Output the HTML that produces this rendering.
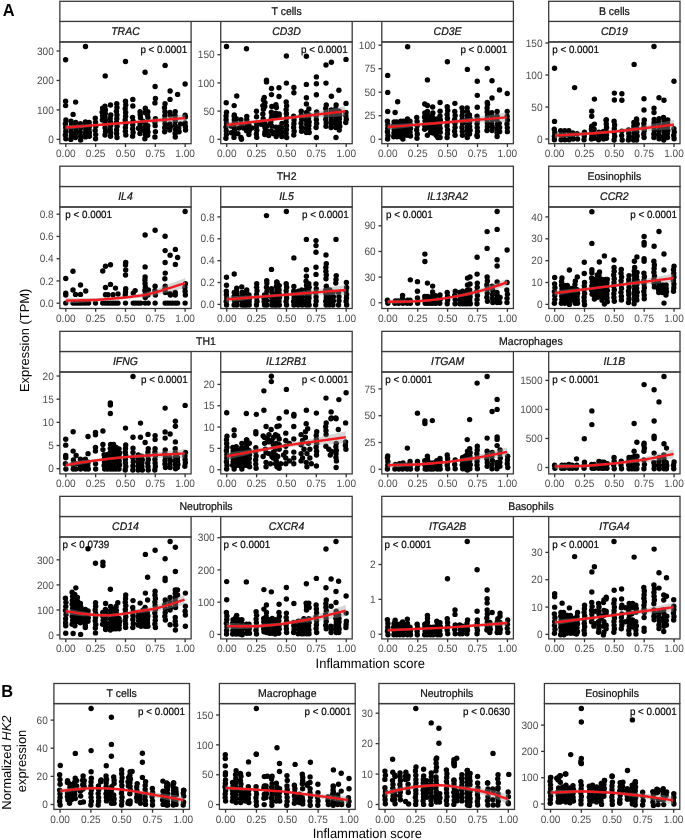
<!DOCTYPE html><html><head><meta charset="utf-8"><style>html,body{margin:0;padding:0;background:#fff;}svg{display:block;will-change:transform;}text{font-family:"Liberation Sans", sans-serif;text-rendering:geometricPrecision;}</style></head><body>
<svg width="685" height="840" viewBox="0 0 685 840">
<rect width="685" height="840" fill="#fff"/>
<rect x="59.85" y="21.4" width="131.25" height="20.55" fill="#fff" stroke="#3a3a3a" stroke-width="1.3"/>
<text transform="translate(125.47,35.38) scale(1,1.06)" text-anchor="middle" fill="#111" stroke="#111" stroke-width="0.22" font-size="10.5" font-style="italic">TRAC</text>
<clipPath id="c59_41"><rect x="59.85" y="41.95" width="131.25" height="101.75"/></clipPath>
<g clip-path="url(#c59_41)">
<g fill="#000">
<circle cx="65.62" cy="59.75" r="2.7"/>
<circle cx="85.5" cy="46.5" r="2.7"/>
<circle cx="105.25" cy="75.88" r="2.7"/>
<circle cx="65.62" cy="101.25" r="2.7"/>
<circle cx="65.62" cy="105.62" r="2.7"/>
<circle cx="75.62" cy="102.12" r="2.7"/>
<circle cx="73.12" cy="114.38" r="2.7"/>
<circle cx="65.9" cy="120" r="2.7"/>
<circle cx="65.35" cy="123.75" r="2.7"/>
<circle cx="65.7" cy="127.5" r="2.7"/>
<circle cx="65.78" cy="131.25" r="2.7"/>
<circle cx="65.32" cy="135" r="2.7"/>
<circle cx="65.85" cy="138.75" r="2.7"/>
<circle cx="70.98" cy="121.25" r="2.7"/>
<circle cx="71.41" cy="124.88" r="2.7"/>
<circle cx="70.87" cy="128.5" r="2.7"/>
<circle cx="71.16" cy="132.13" r="2.7"/>
<circle cx="71.31" cy="135.75" r="2.7"/>
<circle cx="70.82" cy="139.38" r="2.7"/>
<circle cx="75.76" cy="122.5" r="2.7"/>
<circle cx="75.33" cy="126.25" r="2.7"/>
<circle cx="75.87" cy="130" r="2.7"/>
<circle cx="75.58" cy="133.75" r="2.7"/>
<circle cx="75.43" cy="137.5" r="2.7"/>
<circle cx="80.44" cy="123.75" r="2.7"/>
<circle cx="80.76" cy="127.81" r="2.7"/>
<circle cx="80.21" cy="131.88" r="2.7"/>
<circle cx="80.62" cy="135.94" r="2.7"/>
<circle cx="80.62" cy="140" r="2.7"/>
<circle cx="85.45" cy="121.88" r="2.7"/>
<circle cx="85.31" cy="125.63" r="2.7"/>
<circle cx="85.8" cy="129.38" r="2.7"/>
<circle cx="85.29" cy="133.13" r="2.7"/>
<circle cx="85.48" cy="136.88" r="2.7"/>
<circle cx="89.15" cy="122.5" r="2.7"/>
<circle cx="89.53" cy="125.94" r="2.7"/>
<circle cx="88.98" cy="129.38" r="2.7"/>
<circle cx="89.33" cy="132.81" r="2.7"/>
<circle cx="89.41" cy="136.25" r="2.7"/>
<circle cx="95.27" cy="118.12" r="2.7"/>
<circle cx="95.51" cy="122.25" r="2.7"/>
<circle cx="95.72" cy="126.37" r="2.7"/>
<circle cx="95.2" cy="130.5" r="2.7"/>
<circle cx="95.68" cy="134.62" r="2.7"/>
<circle cx="95.56" cy="138.75" r="2.7"/>
<circle cx="102.55" cy="108.12" r="2.7"/>
<circle cx="102.08" cy="112.08" r="2.7"/>
<circle cx="102.61" cy="116.04" r="2.7"/>
<circle cx="102.37" cy="120" r="2.7"/>
<circle cx="104.95" cy="106.25" r="2.7"/>
<circle cx="105.41" cy="109.84" r="2.7"/>
<circle cx="105.33" cy="113.44" r="2.7"/>
<circle cx="104.98" cy="117.03" r="2.7"/>
<circle cx="105.53" cy="120.62" r="2.7"/>
<circle cx="105.15" cy="124.22" r="2.7"/>
<circle cx="105.11" cy="127.81" r="2.7"/>
<circle cx="105.54" cy="131.41" r="2.7"/>
<circle cx="105" cy="135" r="2.7"/>
<circle cx="110.5" cy="105" r="2.7"/>
<circle cx="110.78" cy="115" r="2.7"/>
<circle cx="110.23" cy="118.54" r="2.7"/>
<circle cx="110.58" cy="122.08" r="2.7"/>
<circle cx="110.66" cy="125.62" r="2.7"/>
<circle cx="110.2" cy="129.17" r="2.7"/>
<circle cx="110.73" cy="132.71" r="2.7"/>
<circle cx="110.49" cy="136.25" r="2.7"/>
<circle cx="116.76" cy="103.75" r="2.7"/>
<circle cx="116.96" cy="107.5" r="2.7"/>
<circle cx="116.45" cy="111.25" r="2.7"/>
<circle cx="116.93" cy="115" r="2.7"/>
<circle cx="116.8" cy="118.75" r="2.7"/>
<circle cx="116.49" cy="122.5" r="2.7"/>
<circle cx="117.04" cy="126.25" r="2.7"/>
<circle cx="116.62" cy="130" r="2.7"/>
<circle cx="116.63" cy="133.75" r="2.7"/>
<circle cx="117.03" cy="137.5" r="2.7"/>
<circle cx="125.5" cy="61.5" r="2.7"/>
<circle cx="145.12" cy="72.25" r="2.7"/>
<circle cx="165.12" cy="65.38" r="2.7"/>
<circle cx="155.12" cy="86.5" r="2.7"/>
<circle cx="185.12" cy="84" r="2.7"/>
<circle cx="170.12" cy="91" r="2.7"/>
<circle cx="177.62" cy="94.38" r="2.7"/>
<circle cx="125.47" cy="101.25" r="2.7"/>
<circle cx="125.75" cy="105" r="2.7"/>
<circle cx="125.21" cy="108.75" r="2.7"/>
<circle cx="125.64" cy="112.5" r="2.7"/>
<circle cx="125.6" cy="116.25" r="2.7"/>
<circle cx="125.22" cy="120" r="2.7"/>
<circle cx="125.77" cy="123.75" r="2.7"/>
<circle cx="125.42" cy="127.5" r="2.7"/>
<circle cx="125.34" cy="131.25" r="2.7"/>
<circle cx="125.8" cy="135" r="2.7"/>
<circle cx="132.82" cy="99.38" r="2.7"/>
<circle cx="132.82" cy="105.95" r="2.7"/>
<circle cx="132.53" cy="117.33" r="2.7"/>
<circle cx="133.08" cy="121.1" r="2.7"/>
<circle cx="132.76" cy="124.86" r="2.7"/>
<circle cx="132.64" cy="128.63" r="2.7"/>
<circle cx="133.12" cy="132.39" r="2.7"/>
<circle cx="132.6" cy="136.16" r="2.7"/>
<circle cx="140.05" cy="111.64" r="2.7"/>
<circle cx="140.25" cy="114.7" r="2.7"/>
<circle cx="140.49" cy="117.77" r="2.7"/>
<circle cx="140.05" cy="123.9" r="2.7"/>
<circle cx="140.25" cy="127.11" r="2.7"/>
<circle cx="140.49" cy="130.32" r="2.7"/>
<circle cx="139.96" cy="133.53" r="2.7"/>
<circle cx="145.34" cy="108.13" r="2.7"/>
<circle cx="145.03" cy="112.51" r="2.7"/>
<circle cx="145.34" cy="123.02" r="2.7"/>
<circle cx="145.03" cy="126.96" r="2.7"/>
<circle cx="144.9" cy="130.9" r="2.7"/>
<circle cx="145.38" cy="134.84" r="2.7"/>
<circle cx="144.86" cy="138.78" r="2.7"/>
<circle cx="147.78" cy="111.64" r="2.7"/>
<circle cx="147.43" cy="114.7" r="2.7"/>
<circle cx="147.98" cy="117.77" r="2.7"/>
<circle cx="147.78" cy="125.65" r="2.7"/>
<circle cx="147.43" cy="128.86" r="2.7"/>
<circle cx="147.98" cy="132.07" r="2.7"/>
<circle cx="147.6" cy="135.28" r="2.7"/>
<circle cx="155.44" cy="98.5" r="2.7"/>
<circle cx="154.91" cy="102.88" r="2.7"/>
<circle cx="155.44" cy="118.64" r="2.7"/>
<circle cx="154.91" cy="122.15" r="2.7"/>
<circle cx="155.18" cy="125.65" r="2.7"/>
<circle cx="155.44" cy="131.78" r="2.7"/>
<circle cx="154.91" cy="137.03" r="2.7"/>
<circle cx="165.01" cy="103.76" r="2.7"/>
<circle cx="164.48" cy="107.76" r="2.7"/>
<circle cx="164.94" cy="111.77" r="2.7"/>
<circle cx="164.86" cy="115.77" r="2.7"/>
<circle cx="164.51" cy="119.77" r="2.7"/>
<circle cx="165.06" cy="123.77" r="2.7"/>
<circle cx="164.68" cy="127.78" r="2.7"/>
<circle cx="164.64" cy="131.78" r="2.7"/>
<circle cx="170.03" cy="99.38" r="2.7"/>
<circle cx="169.92" cy="112.51" r="2.7"/>
<circle cx="170.31" cy="115.14" r="2.7"/>
<circle cx="169.92" cy="123.9" r="2.7"/>
<circle cx="170.31" cy="126.97" r="2.7"/>
<circle cx="169.76" cy="130.03" r="2.7"/>
<circle cx="175.24" cy="111.64" r="2.7"/>
<circle cx="175.11" cy="116.02" r="2.7"/>
<circle cx="175.24" cy="121.27" r="2.7"/>
<circle cx="175.11" cy="125.36" r="2.7"/>
<circle cx="175.59" cy="129.44" r="2.7"/>
<circle cx="175.08" cy="133.53" r="2.7"/>
<circle cx="175.29" cy="137.03" r="2.7"/>
<circle cx="178.64" cy="128.27" r="2.7"/>
<circle cx="179.08" cy="131.78" r="2.7"/>
<circle cx="185.12" cy="115.14" r="2.7"/>
<circle cx="185.39" cy="116.89" r="2.7"/>
<circle cx="185.12" cy="123.02" r="2.7"/>
<circle cx="185.39" cy="126.53" r="2.7"/>
<circle cx="185.56" cy="130.03" r="2.7"/>
<circle cx="142.89" cy="121.27" r="2.7"/>
<circle cx="138.51" cy="128.27" r="2.7"/>
<circle cx="167.4" cy="126.52" r="2.7"/>
<circle cx="180.54" cy="123.9" r="2.7"/>
</g>
<polygon points="65.6,125.25 68.59,125.11 71.58,124.96 74.58,124.82 77.57,124.67 80.56,124.52 83.55,124.37 86.55,124.22 89.54,124.06 92.53,123.9 95.53,123.73 98.52,123.56 101.51,123.38 104.5,123.2 107.5,123 110.49,122.8 113.48,122.59 116.47,122.37 119.47,122.14 122.46,121.9 125.45,121.63 128.44,121.34 131.44,121.03 134.43,120.71 137.42,120.37 140.41,120.02 143.41,119.67 146.4,119.31 149.39,118.94 152.38,118.57 155.38,118.2 158.37,117.82 161.36,117.44 164.35,117.06 167.35,116.68 170.34,116.29 173.33,115.9 176.32,115.52 179.31,115.13 182.31,114.74 185.3,114.35 185.3,121.85 182.31,121.93 179.31,122.01 176.32,122.09 173.33,122.18 170.34,122.26 167.35,122.34 164.35,122.43 161.36,122.52 158.37,122.61 155.38,122.7 152.38,122.8 149.39,122.9 146.4,123 143.41,123.11 140.41,123.23 137.42,123.35 134.43,123.48 131.44,123.63 128.44,123.79 125.45,123.97 122.46,124.17 119.47,124.39 116.47,124.64 113.48,124.89 110.49,125.15 107.5,125.42 104.5,125.69 101.51,125.98 98.52,126.27 95.53,126.57 92.53,126.87 89.54,127.18 86.55,127.49 83.55,127.81 80.56,128.13 77.57,128.45 74.58,128.77 71.58,129.1 68.59,129.42 65.6,129.75" fill="#999999" fill-opacity="0.4"/>
<polyline points="65.6,127.5 68.59,127.27 71.58,127.03 74.58,126.8 77.57,126.56 80.56,126.33 83.55,126.09 86.55,125.86 89.54,125.62 92.53,125.39 95.53,125.15 98.52,124.91 101.51,124.68 104.5,124.44 107.5,124.21 110.49,123.97 113.48,123.74 116.47,123.5 119.47,123.27 122.46,123.03 125.45,122.8 128.44,122.56 131.44,122.33 134.43,122.09 137.42,121.86 140.41,121.62 143.41,121.39 146.4,121.16 149.39,120.92 152.38,120.69 155.38,120.45 158.37,120.21 161.36,119.98 164.35,119.74 167.35,119.51 170.34,119.27 173.33,119.04 176.32,118.8 179.31,118.57 182.31,118.33 185.3,118.1" fill="none" stroke="#f31a20" stroke-width="2.4"/>
</g>
<rect x="59.85" y="41.95" width="131.25" height="101.75" fill="none" stroke="#3a3a3a" stroke-width="1.3"/>
<line x1="56.55" y1="139.4" x2="59.85" y2="139.4" stroke="#333333" stroke-width="1.3"/>
<text transform="translate(53.75,143.05) scale(1,1.06)" text-anchor="end" fill="#4d4d4d" font-size="10.1">0</text>
<line x1="56.55" y1="109.93" x2="59.85" y2="109.93" stroke="#333333" stroke-width="1.3"/>
<text transform="translate(53.75,113.58) scale(1,1.06)" text-anchor="end" fill="#4d4d4d" font-size="10.1">100</text>
<line x1="56.55" y1="80.47" x2="59.85" y2="80.47" stroke="#333333" stroke-width="1.3"/>
<text transform="translate(53.75,84.12) scale(1,1.06)" text-anchor="end" fill="#4d4d4d" font-size="10.1">200</text>
<line x1="56.55" y1="51" x2="59.85" y2="51" stroke="#333333" stroke-width="1.3"/>
<text transform="translate(53.75,54.65) scale(1,1.06)" text-anchor="end" fill="#4d4d4d" font-size="10.1">300</text>
<line x1="65.82" y1="143.7" x2="65.82" y2="147" stroke="#333333" stroke-width="1.3"/>
<text transform="translate(65.82,157.15) scale(1,1.06)" text-anchor="middle" fill="#4d4d4d" font-size="10.1">0.00</text>
<line x1="95.65" y1="143.7" x2="95.65" y2="147" stroke="#333333" stroke-width="1.3"/>
<text transform="translate(95.65,157.15) scale(1,1.06)" text-anchor="middle" fill="#4d4d4d" font-size="10.1">0.25</text>
<line x1="125.47" y1="143.7" x2="125.47" y2="147" stroke="#333333" stroke-width="1.3"/>
<text transform="translate(125.47,157.15) scale(1,1.06)" text-anchor="middle" fill="#4d4d4d" font-size="10.1">0.50</text>
<line x1="155.3" y1="143.7" x2="155.3" y2="147" stroke="#333333" stroke-width="1.3"/>
<text transform="translate(155.3,157.15) scale(1,1.06)" text-anchor="middle" fill="#4d4d4d" font-size="10.1">0.75</text>
<line x1="185.13" y1="143.7" x2="185.13" y2="147" stroke="#333333" stroke-width="1.3"/>
<text transform="translate(185.13,157.15) scale(1,1.06)" text-anchor="middle" fill="#4d4d4d" font-size="10.1">1.00</text>
<text transform="translate(187.2,53.35) scale(1,1.06)" text-anchor="end" fill="#000" stroke="#000" stroke-width="0.18" font-size="9.85">p &lt; 0.0001</text>
<rect x="220.75" y="21.4" width="131.45" height="20.55" fill="#fff" stroke="#3a3a3a" stroke-width="1.3"/>
<text transform="translate(286.48,35.38) scale(1,1.06)" text-anchor="middle" fill="#111" stroke="#111" stroke-width="0.22" font-size="10.5" font-style="italic">CD3D</text>
<clipPath id="c220_41"><rect x="220.75" y="41.95" width="131.45" height="101.75"/></clipPath>
<g clip-path="url(#c220_41)">
<g fill="#000">
<circle cx="226.5" cy="46.5" r="2.7"/>
<circle cx="246.5" cy="48.75" r="2.7"/>
<circle cx="266.5" cy="80.25" r="2.7"/>
<circle cx="266.5" cy="81.88" r="2.7"/>
<circle cx="271.5" cy="88.5" r="2.7"/>
<circle cx="279" cy="87.75" r="2.7"/>
<circle cx="271.5" cy="94.62" r="2.7"/>
<circle cx="279" cy="96.5" r="2.7"/>
<circle cx="236.75" cy="96" r="2.7"/>
<circle cx="264.25" cy="97.5" r="2.7"/>
<circle cx="286.38" cy="56" r="2.7"/>
<circle cx="306.38" cy="56.25" r="2.7"/>
<circle cx="326" cy="65" r="2.7"/>
<circle cx="331.38" cy="62.25" r="2.7"/>
<circle cx="346" cy="59.38" r="2.7"/>
<circle cx="286.38" cy="83.12" r="2.7"/>
<circle cx="316.38" cy="76.88" r="2.7"/>
<circle cx="316.38" cy="83.75" r="2.7"/>
<circle cx="326" cy="83.12" r="2.7"/>
<circle cx="306.38" cy="84.38" r="2.7"/>
<circle cx="293.88" cy="87.5" r="2.7"/>
<circle cx="293.88" cy="92.75" r="2.7"/>
<circle cx="338.88" cy="90.25" r="2.7"/>
<circle cx="316.38" cy="94.75" r="2.7"/>
<circle cx="331.38" cy="96.25" r="2.7"/>
<circle cx="306.38" cy="97.75" r="2.7"/>
<circle cx="306.38" cy="104" r="2.7"/>
<circle cx="346" cy="103.38" r="2.7"/>
<circle cx="308.88" cy="109" r="2.7"/>
<circle cx="316.38" cy="137.5" r="2.7"/>
<circle cx="336" cy="137.5" r="2.7"/>
<circle cx="286.21" cy="101.88" r="2.7"/>
<circle cx="286.68" cy="105.84" r="2.7"/>
<circle cx="286.15" cy="109.8" r="2.7"/>
<circle cx="286.39" cy="113.75" r="2.7"/>
<circle cx="286.6" cy="117.71" r="2.7"/>
<circle cx="286.08" cy="121.67" r="2.7"/>
<circle cx="286.56" cy="125.63" r="2.7"/>
<circle cx="286.44" cy="129.58" r="2.7"/>
<circle cx="286.12" cy="133.54" r="2.7"/>
<circle cx="286.67" cy="137.5" r="2.7"/>
<circle cx="293.58" cy="116.25" r="2.7"/>
<circle cx="294.07" cy="120" r="2.7"/>
<circle cx="293.93" cy="123.75" r="2.7"/>
<circle cx="293.63" cy="127.5" r="2.7"/>
<circle cx="294.17" cy="131.25" r="2.7"/>
<circle cx="293.75" cy="135" r="2.7"/>
<circle cx="301.24" cy="111.25" r="2.7"/>
<circle cx="301.27" cy="115.25" r="2.7"/>
<circle cx="301.66" cy="119.25" r="2.7"/>
<circle cx="301.11" cy="123.25" r="2.7"/>
<circle cx="301.46" cy="127.25" r="2.7"/>
<circle cx="301.55" cy="131.25" r="2.7"/>
<circle cx="306.6" cy="112.5" r="2.7"/>
<circle cx="306.38" cy="116.5" r="2.7"/>
<circle cx="306.16" cy="120.5" r="2.7"/>
<circle cx="306.68" cy="124.5" r="2.7"/>
<circle cx="306.21" cy="128.5" r="2.7"/>
<circle cx="306.31" cy="132.5" r="2.7"/>
<circle cx="309.04" cy="115" r="2.7"/>
<circle cx="308.58" cy="118.5" r="2.7"/>
<circle cx="309.12" cy="122" r="2.7"/>
<circle cx="308.86" cy="125.5" r="2.7"/>
<circle cx="308.67" cy="129" r="2.7"/>
<circle cx="309.18" cy="132.5" r="2.7"/>
<circle cx="316.68" cy="111.88" r="2.7"/>
<circle cx="316.18" cy="115.78" r="2.7"/>
<circle cx="316.34" cy="119.69" r="2.7"/>
<circle cx="316.63" cy="123.59" r="2.7"/>
<circle cx="316.09" cy="127.5" r="2.7"/>
<circle cx="326.27" cy="105" r="2.7"/>
<circle cx="325.72" cy="108.54" r="2.7"/>
<circle cx="326.09" cy="112.08" r="2.7"/>
<circle cx="326.15" cy="115.62" r="2.7"/>
<circle cx="325.71" cy="119.17" r="2.7"/>
<circle cx="326.24" cy="122.71" r="2.7"/>
<circle cx="325.97" cy="126.25" r="2.7"/>
<circle cx="331.23" cy="110" r="2.7"/>
<circle cx="331.67" cy="113.5" r="2.7"/>
<circle cx="331.14" cy="117" r="2.7"/>
<circle cx="331.41" cy="120.5" r="2.7"/>
<circle cx="331.58" cy="124" r="2.7"/>
<circle cx="331.08" cy="127.5" r="2.7"/>
<circle cx="336.12" cy="105" r="2.7"/>
<circle cx="335.71" cy="108.75" r="2.7"/>
<circle cx="336.26" cy="112.5" r="2.7"/>
<circle cx="335.94" cy="116.25" r="2.7"/>
<circle cx="335.82" cy="120" r="2.7"/>
<circle cx="336.3" cy="123.75" r="2.7"/>
<circle cx="335.78" cy="127.5" r="2.7"/>
<circle cx="339.23" cy="111.25" r="2.7"/>
<circle cx="339.78" cy="115" r="2.7"/>
<circle cx="339.4" cy="118.75" r="2.7"/>
<circle cx="339.36" cy="122.5" r="2.7"/>
<circle cx="339.79" cy="126.25" r="2.7"/>
<circle cx="339.25" cy="130" r="2.7"/>
<circle cx="345.91" cy="112.5" r="2.7"/>
<circle cx="345.84" cy="115.83" r="2.7"/>
<circle cx="346.29" cy="119.17" r="2.7"/>
<circle cx="345.76" cy="122.5" r="2.7"/>
<circle cx="226.21" cy="102.8" r="2.7"/>
<circle cx="226.5" cy="112.15" r="2.7"/>
<circle cx="226.09" cy="115.89" r="2.7"/>
<circle cx="226.09" cy="119.63" r="2.7"/>
<circle cx="226.5" cy="123.37" r="2.7"/>
<circle cx="225.95" cy="127.1" r="2.7"/>
<circle cx="226.27" cy="130.84" r="2.7"/>
<circle cx="226.39" cy="134.58" r="2.7"/>
<circle cx="225.91" cy="138.32" r="2.7"/>
<circle cx="234.15" cy="105.61" r="2.7"/>
<circle cx="234.3" cy="114.95" r="2.7"/>
<circle cx="234.24" cy="116.36" r="2.7"/>
<circle cx="234.3" cy="119.63" r="2.7"/>
<circle cx="234.24" cy="123.18" r="2.7"/>
<circle cx="233.88" cy="126.73" r="2.7"/>
<circle cx="234.42" cy="130.28" r="2.7"/>
<circle cx="234.06" cy="133.83" r="2.7"/>
<circle cx="234" cy="137.38" r="2.7"/>
<circle cx="236.31" cy="118.69" r="2.7"/>
<circle cx="235.77" cy="122.43" r="2.7"/>
<circle cx="240.94" cy="119.63" r="2.7"/>
<circle cx="241.46" cy="124.3" r="2.7"/>
<circle cx="240.94" cy="137.38" r="2.7"/>
<circle cx="241.46" cy="139.25" r="2.7"/>
<circle cx="238.82" cy="128.04" r="2.7"/>
<circle cx="237.89" cy="133.64" r="2.7"/>
<circle cx="246.77" cy="116.36" r="2.7"/>
<circle cx="246.78" cy="119.63" r="2.7"/>
<circle cx="246.54" cy="123.37" r="2.7"/>
<circle cx="247.07" cy="127.1" r="2.7"/>
<circle cx="246.61" cy="130.84" r="2.7"/>
<circle cx="248.8" cy="124.3" r="2.7"/>
<circle cx="249.3" cy="127.73" r="2.7"/>
<circle cx="249.13" cy="131.15" r="2.7"/>
<circle cx="248.86" cy="134.58" r="2.7"/>
<circle cx="256.43" cy="111.21" r="2.7"/>
<circle cx="256.49" cy="116.82" r="2.7"/>
<circle cx="256.43" cy="123.36" r="2.7"/>
<circle cx="256.49" cy="126.86" r="2.7"/>
<circle cx="256.85" cy="130.37" r="2.7"/>
<circle cx="256.31" cy="133.88" r="2.7"/>
<circle cx="256.67" cy="137.38" r="2.7"/>
<circle cx="263.4" cy="100" r="2.7"/>
<circle cx="262.85" cy="105.61" r="2.7"/>
<circle cx="263.4" cy="109.35" r="2.7"/>
<circle cx="262.85" cy="114.02" r="2.7"/>
<circle cx="263.21" cy="118.69" r="2.7"/>
<circle cx="264.95" cy="102.8" r="2.7"/>
<circle cx="264.8" cy="106.54" r="2.7"/>
<circle cx="264.95" cy="123.36" r="2.7"/>
<circle cx="264.8" cy="127.1" r="2.7"/>
<circle cx="265.29" cy="130.84" r="2.7"/>
<circle cx="264.95" cy="132.71" r="2.7"/>
<circle cx="264.8" cy="134.58" r="2.7"/>
<circle cx="266.56" cy="126.17" r="2.7"/>
<circle cx="267.03" cy="130.84" r="2.7"/>
<circle cx="271.83" cy="106.54" r="2.7"/>
<circle cx="271.33" cy="112.15" r="2.7"/>
<circle cx="271.83" cy="115.89" r="2.7"/>
<circle cx="271.33" cy="118.69" r="2.7"/>
<circle cx="271.83" cy="126.17" r="2.7"/>
<circle cx="271.33" cy="130.84" r="2.7"/>
<circle cx="270.84" cy="121.5" r="2.7"/>
<circle cx="270.58" cy="124.3" r="2.7"/>
<circle cx="275.91" cy="104.67" r="2.7"/>
<circle cx="276.44" cy="107.48" r="2.7"/>
<circle cx="275.91" cy="113.08" r="2.7"/>
<circle cx="276.44" cy="116.82" r="2.7"/>
<circle cx="275.91" cy="127.1" r="2.7"/>
<circle cx="276.44" cy="131.77" r="2.7"/>
<circle cx="276.2" cy="136.45" r="2.7"/>
<circle cx="279.16" cy="114.02" r="2.7"/>
<circle cx="279.1" cy="116.82" r="2.7"/>
<circle cx="279.16" cy="127.1" r="2.7"/>
<circle cx="279.1" cy="130.37" r="2.7"/>
<circle cx="278.74" cy="133.64" r="2.7"/>
<circle cx="281.99" cy="123.36" r="2.7"/>
<circle cx="281.51" cy="127.72" r="2.7"/>
<circle cx="282.03" cy="132.09" r="2.7"/>
<circle cx="281.82" cy="136.45" r="2.7"/>
<circle cx="231.35" cy="126.17" r="2.7"/>
<circle cx="231.35" cy="132.71" r="2.7"/>
<circle cx="243.5" cy="128.04" r="2.7"/>
<circle cx="251.91" cy="128.04" r="2.7"/>
<circle cx="268.73" cy="135.51" r="2.7"/>
<circle cx="273.4" cy="133.64" r="2.7"/>
<circle cx="261.25" cy="124.3" r="2.7"/>
</g>
<polygon points="226.5,122 229.47,121.78 232.43,121.56 235.4,121.33 238.36,121.11 241.32,120.88 244.29,120.65 247.25,120.41 250.22,120.17 253.19,119.92 256.15,119.67 259.12,119.41 262.08,119.14 265.05,118.87 268.01,118.58 270.98,118.28 273.94,117.97 276.91,117.65 279.87,117.31 282.84,116.95 285.8,116.56 288.76,116.15 291.73,115.7 294.7,115.24 297.66,114.76 300.62,114.27 303.59,113.77 306.56,113.26 309.52,112.74 312.49,112.21 315.45,111.68 318.42,111.15 321.38,110.61 324.35,110.07 327.31,109.53 330.28,108.99 333.24,108.44 336.21,107.9 339.17,107.35 342.13,106.8 345.1,106.25 345.1,116.25 342.13,116.39 339.17,116.53 336.21,116.67 333.24,116.81 330.28,116.95 327.31,117.09 324.35,117.24 321.38,117.39 318.42,117.54 315.45,117.69 312.49,117.85 309.52,118.01 306.56,118.18 303.59,118.36 300.62,118.54 297.66,118.74 294.7,118.94 291.73,119.17 288.76,119.42 285.8,119.69 282.84,119.98 279.87,120.31 276.91,120.66 273.94,121.03 270.98,121.4 268.01,121.79 265.05,122.2 262.08,122.61 259.12,123.03 256.15,123.46 253.19,123.89 250.22,124.33 247.25,124.78 244.29,125.23 241.32,125.68 238.36,126.14 235.4,126.6 232.43,127.07 229.47,127.53 226.5,128" fill="#999999" fill-opacity="0.4"/>
<polyline points="226.5,125 229.47,124.66 232.43,124.31 235.4,123.97 238.36,123.62 241.32,123.28 244.29,122.94 247.25,122.59 250.22,122.25 253.19,121.91 256.15,121.56 259.12,121.22 262.08,120.88 265.05,120.53 268.01,120.19 270.98,119.84 273.94,119.5 276.91,119.16 279.87,118.81 282.84,118.47 285.8,118.12 288.76,117.78 291.73,117.44 294.7,117.09 297.66,116.75 300.62,116.41 303.59,116.06 306.56,115.72 309.52,115.38 312.49,115.03 315.45,114.69 318.42,114.34 321.38,114 324.35,113.66 327.31,113.31 330.28,112.97 333.24,112.62 336.21,112.28 339.17,111.94 342.13,111.59 345.1,111.25" fill="none" stroke="#f31a20" stroke-width="2.4"/>
</g>
<rect x="220.75" y="41.95" width="131.45" height="101.75" fill="none" stroke="#3a3a3a" stroke-width="1.3"/>
<line x1="217.45" y1="139.3" x2="220.75" y2="139.3" stroke="#333333" stroke-width="1.3"/>
<text transform="translate(214.65,142.95) scale(1,1.06)" text-anchor="end" fill="#4d4d4d" font-size="10.1">0</text>
<line x1="217.45" y1="111.1" x2="220.75" y2="111.1" stroke="#333333" stroke-width="1.3"/>
<text transform="translate(214.65,114.75) scale(1,1.06)" text-anchor="end" fill="#4d4d4d" font-size="10.1">50</text>
<line x1="217.45" y1="82.9" x2="220.75" y2="82.9" stroke="#333333" stroke-width="1.3"/>
<text transform="translate(214.65,86.55) scale(1,1.06)" text-anchor="end" fill="#4d4d4d" font-size="10.1">100</text>
<line x1="217.45" y1="54.7" x2="220.75" y2="54.7" stroke="#333333" stroke-width="1.3"/>
<text transform="translate(214.65,58.35) scale(1,1.06)" text-anchor="end" fill="#4d4d4d" font-size="10.1">150</text>
<line x1="226.72" y1="143.7" x2="226.72" y2="147" stroke="#333333" stroke-width="1.3"/>
<text transform="translate(226.72,157.15) scale(1,1.06)" text-anchor="middle" fill="#4d4d4d" font-size="10.1">0.00</text>
<line x1="256.6" y1="143.7" x2="256.6" y2="147" stroke="#333333" stroke-width="1.3"/>
<text transform="translate(256.6,157.15) scale(1,1.06)" text-anchor="middle" fill="#4d4d4d" font-size="10.1">0.25</text>
<line x1="286.48" y1="143.7" x2="286.48" y2="147" stroke="#333333" stroke-width="1.3"/>
<text transform="translate(286.48,157.15) scale(1,1.06)" text-anchor="middle" fill="#4d4d4d" font-size="10.1">0.50</text>
<line x1="316.35" y1="143.7" x2="316.35" y2="147" stroke="#333333" stroke-width="1.3"/>
<text transform="translate(316.35,157.15) scale(1,1.06)" text-anchor="middle" fill="#4d4d4d" font-size="10.1">0.75</text>
<line x1="346.22" y1="143.7" x2="346.22" y2="147" stroke="#333333" stroke-width="1.3"/>
<text transform="translate(346.22,157.15) scale(1,1.06)" text-anchor="middle" fill="#4d4d4d" font-size="10.1">1.00</text>
<text transform="translate(347.75,53.35) scale(1,1.06)" text-anchor="end" fill="#000" stroke="#000" stroke-width="0.18" font-size="9.85">p &lt; 0.0001</text>
<rect x="381.8" y="21.4" width="131.6" height="20.55" fill="#fff" stroke="#3a3a3a" stroke-width="1.3"/>
<text transform="translate(447.6,35.38) scale(1,1.06)" text-anchor="middle" fill="#111" stroke="#111" stroke-width="0.22" font-size="10.5" font-style="italic">CD3E</text>
<clipPath id="c381_41"><rect x="381.8" y="41.95" width="131.6" height="101.75"/></clipPath>
<g clip-path="url(#c381_41)">
<g fill="#000">
<circle cx="387.7" cy="75.42" r="2.7"/>
<circle cx="407.64" cy="46.7" r="2.7"/>
<circle cx="427.43" cy="79.88" r="2.7"/>
<circle cx="387.7" cy="92.38" r="2.7"/>
<circle cx="397.67" cy="101.76" r="2.7"/>
<circle cx="387.7" cy="111.43" r="2.7"/>
<circle cx="395.14" cy="112.47" r="2.7"/>
<circle cx="424.75" cy="103.99" r="2.7"/>
<circle cx="427.43" cy="105.48" r="2.7"/>
<circle cx="432.64" cy="106.96" r="2.7"/>
<circle cx="440.08" cy="102.5" r="2.7"/>
<circle cx="440.08" cy="111.13" r="2.7"/>
<circle cx="427.43" cy="135.24" r="2.7"/>
<circle cx="402.88" cy="138.96" r="2.7"/>
<circle cx="437.85" cy="137.47" r="2.7"/>
<circle cx="440.08" cy="137.47" r="2.7"/>
<circle cx="387.4" cy="121.1" r="2.7"/>
<circle cx="387.87" cy="124.67" r="2.7"/>
<circle cx="387.77" cy="128.24" r="2.7"/>
<circle cx="387.43" cy="131.82" r="2.7"/>
<circle cx="387.98" cy="135.39" r="2.7"/>
<circle cx="387.59" cy="138.96" r="2.7"/>
<circle cx="394.11" cy="121.85" r="2.7"/>
<circle cx="393.65" cy="125.57" r="2.7"/>
<circle cx="394.18" cy="129.29" r="2.7"/>
<circle cx="393.93" cy="133.01" r="2.7"/>
<circle cx="393.73" cy="136.73" r="2.7"/>
<circle cx="396.69" cy="121.85" r="2.7"/>
<circle cx="396.93" cy="125.57" r="2.7"/>
<circle cx="397.14" cy="129.29" r="2.7"/>
<circle cx="396.62" cy="133.01" r="2.7"/>
<circle cx="397.1" cy="136.73" r="2.7"/>
<circle cx="400.78" cy="121.1" r="2.7"/>
<circle cx="400.35" cy="125.01" r="2.7"/>
<circle cx="400.89" cy="128.91" r="2.7"/>
<circle cx="400.6" cy="132.82" r="2.7"/>
<circle cx="400.45" cy="136.73" r="2.7"/>
<circle cx="403.38" cy="121.1" r="2.7"/>
<circle cx="403.65" cy="124.64" r="2.7"/>
<circle cx="403.82" cy="128.17" r="2.7"/>
<circle cx="403.32" cy="131.7" r="2.7"/>
<circle cx="403.82" cy="135.24" r="2.7"/>
<circle cx="407.46" cy="118.87" r="2.7"/>
<circle cx="407.06" cy="122.96" r="2.7"/>
<circle cx="407.6" cy="127.05" r="2.7"/>
<circle cx="407.28" cy="131.15" r="2.7"/>
<circle cx="407.16" cy="135.24" r="2.7"/>
<circle cx="410.06" cy="121.1" r="2.7"/>
<circle cx="410.37" cy="124.82" r="2.7"/>
<circle cx="410.5" cy="128.54" r="2.7"/>
<circle cx="410.02" cy="132.26" r="2.7"/>
<circle cx="410.53" cy="135.98" r="2.7"/>
<circle cx="416.74" cy="117.38" r="2.7"/>
<circle cx="417.09" cy="121.55" r="2.7"/>
<circle cx="417.17" cy="125.71" r="2.7"/>
<circle cx="416.72" cy="129.88" r="2.7"/>
<circle cx="417.25" cy="134.05" r="2.7"/>
<circle cx="417" cy="138.21" r="2.7"/>
<circle cx="424.8" cy="112.92" r="2.7"/>
<circle cx="424.49" cy="117.01" r="2.7"/>
<circle cx="425.04" cy="121.1" r="2.7"/>
<circle cx="424.62" cy="125.19" r="2.7"/>
<circle cx="424.63" cy="129.29" r="2.7"/>
<circle cx="427.47" cy="111.43" r="2.7"/>
<circle cx="427.18" cy="115.52" r="2.7"/>
<circle cx="427.72" cy="119.61" r="2.7"/>
<circle cx="427.29" cy="123.71" r="2.7"/>
<circle cx="427.32" cy="127.8" r="2.7"/>
<circle cx="430.12" cy="115.89" r="2.7"/>
<circle cx="430.53" cy="119.99" r="2.7"/>
<circle cx="430.52" cy="124.08" r="2.7"/>
<circle cx="430.12" cy="128.17" r="2.7"/>
<circle cx="430.67" cy="132.26" r="2.7"/>
<circle cx="432.85" cy="112.92" r="2.7"/>
<circle cx="432.34" cy="116.93" r="2.7"/>
<circle cx="432.82" cy="120.95" r="2.7"/>
<circle cx="432.69" cy="124.97" r="2.7"/>
<circle cx="432.38" cy="128.99" r="2.7"/>
<circle cx="432.93" cy="133.01" r="2.7"/>
<circle cx="436.61" cy="118.87" r="2.7"/>
<circle cx="436.31" cy="122.96" r="2.7"/>
<circle cx="436.17" cy="127.05" r="2.7"/>
<circle cx="436.66" cy="131.15" r="2.7"/>
<circle cx="436.15" cy="135.24" r="2.7"/>
<circle cx="439.98" cy="115.89" r="2.7"/>
<circle cx="440.36" cy="119.99" r="2.7"/>
<circle cx="439.81" cy="124.08" r="2.7"/>
<circle cx="440.16" cy="128.17" r="2.7"/>
<circle cx="440.24" cy="132.26" r="2.7"/>
<circle cx="447.38" cy="61.79" r="2.7"/>
<circle cx="467.38" cy="69.4" r="2.7"/>
<circle cx="487.26" cy="68.33" r="2.7"/>
<circle cx="477.26" cy="81.31" r="2.7"/>
<circle cx="492.02" cy="80.71" r="2.7"/>
<circle cx="499.52" cy="90" r="2.7"/>
<circle cx="507.26" cy="93.57" r="2.7"/>
<circle cx="477.26" cy="95.36" r="2.7"/>
<circle cx="492.02" cy="97.98" r="2.7"/>
<circle cx="454.88" cy="103.33" r="2.7"/>
<circle cx="487.26" cy="102.5" r="2.7"/>
<circle cx="477.26" cy="107.26" r="2.7"/>
<circle cx="497.14" cy="111.43" r="2.7"/>
<circle cx="507.26" cy="111.43" r="2.7"/>
<circle cx="497.14" cy="136.43" r="2.7"/>
<circle cx="477.26" cy="136.43" r="2.7"/>
<circle cx="447.22" cy="106.67" r="2.7"/>
<circle cx="447.68" cy="110.54" r="2.7"/>
<circle cx="447.15" cy="114.4" r="2.7"/>
<circle cx="447.39" cy="118.27" r="2.7"/>
<circle cx="447.6" cy="122.14" r="2.7"/>
<circle cx="447.08" cy="126.01" r="2.7"/>
<circle cx="447.56" cy="129.88" r="2.7"/>
<circle cx="447.44" cy="133.75" r="2.7"/>
<circle cx="447.12" cy="137.62" r="2.7"/>
<circle cx="454.75" cy="111.43" r="2.7"/>
<circle cx="455.17" cy="115.4" r="2.7"/>
<circle cx="454.63" cy="119.37" r="2.7"/>
<circle cx="454.93" cy="123.33" r="2.7"/>
<circle cx="455.07" cy="127.3" r="2.7"/>
<circle cx="454.58" cy="131.27" r="2.7"/>
<circle cx="455.09" cy="135.24" r="2.7"/>
<circle cx="462" cy="107.86" r="2.7"/>
<circle cx="462.55" cy="111.77" r="2.7"/>
<circle cx="462.14" cy="115.68" r="2.7"/>
<circle cx="462.14" cy="119.59" r="2.7"/>
<circle cx="462.55" cy="123.5" r="2.7"/>
<circle cx="462" cy="127.41" r="2.7"/>
<circle cx="462.32" cy="131.33" r="2.7"/>
<circle cx="462.44" cy="135.24" r="2.7"/>
<circle cx="467.17" cy="107.86" r="2.7"/>
<circle cx="467.36" cy="111.58" r="2.7"/>
<circle cx="467.62" cy="115.3" r="2.7"/>
<circle cx="467.09" cy="119.02" r="2.7"/>
<circle cx="467.54" cy="122.74" r="2.7"/>
<circle cx="467.47" cy="126.46" r="2.7"/>
<circle cx="467.11" cy="130.18" r="2.7"/>
<circle cx="467.66" cy="133.9" r="2.7"/>
<circle cx="467.28" cy="137.62" r="2.7"/>
<circle cx="469.52" cy="115" r="2.7"/>
<circle cx="470.06" cy="118.81" r="2.7"/>
<circle cx="469.61" cy="122.62" r="2.7"/>
<circle cx="469.67" cy="126.43" r="2.7"/>
<circle cx="470.04" cy="130.24" r="2.7"/>
<circle cx="469.49" cy="134.05" r="2.7"/>
<circle cx="477.04" cy="116.19" r="2.7"/>
<circle cx="477.56" cy="120" r="2.7"/>
<circle cx="477.08" cy="123.81" r="2.7"/>
<circle cx="477.2" cy="127.62" r="2.7"/>
<circle cx="477.52" cy="131.43" r="2.7"/>
<circle cx="476.98" cy="135.24" r="2.7"/>
<circle cx="487.56" cy="104.29" r="2.7"/>
<circle cx="487.09" cy="108.03" r="2.7"/>
<circle cx="487.19" cy="111.77" r="2.7"/>
<circle cx="487.53" cy="115.51" r="2.7"/>
<circle cx="486.98" cy="119.25" r="2.7"/>
<circle cx="487.37" cy="122.99" r="2.7"/>
<circle cx="487.4" cy="126.73" r="2.7"/>
<circle cx="486.97" cy="130.48" r="2.7"/>
<circle cx="491.75" cy="112.62" r="2.7"/>
<circle cx="492.12" cy="116.19" r="2.7"/>
<circle cx="492.17" cy="119.76" r="2.7"/>
<circle cx="491.73" cy="123.33" r="2.7"/>
<circle cx="492.27" cy="126.9" r="2.7"/>
<circle cx="491.99" cy="130.48" r="2.7"/>
<circle cx="497.19" cy="116.19" r="2.7"/>
<circle cx="496.89" cy="120.36" r="2.7"/>
<circle cx="497.43" cy="124.52" r="2.7"/>
<circle cx="497.01" cy="128.69" r="2.7"/>
<circle cx="497.03" cy="132.86" r="2.7"/>
<circle cx="499.24" cy="123.33" r="2.7"/>
<circle cx="499.65" cy="127.5" r="2.7"/>
<circle cx="499.64" cy="131.67" r="2.7"/>
<circle cx="507.16" cy="116.19" r="2.7"/>
<circle cx="507.54" cy="120.06" r="2.7"/>
<circle cx="506.99" cy="123.93" r="2.7"/>
<circle cx="507.34" cy="127.8" r="2.7"/>
<circle cx="507.42" cy="131.67" r="2.7"/>
</g>
<polygon points="387.7,124.17 390.68,124.05 393.65,123.92 396.62,123.8 399.6,123.67 402.57,123.54 405.55,123.4 408.52,123.26 411.5,123.12 414.47,122.97 417.45,122.82 420.43,122.66 423.4,122.49 426.38,122.32 429.35,122.13 432.32,121.93 435.3,121.72 438.27,121.5 441.25,121.27 444.22,121.01 447.2,120.73 450.18,120.41 453.15,120.08 456.12,119.72 459.1,119.35 462.07,118.97 465.05,118.58 468.02,118.17 471,117.76 473.98,117.35 476.95,116.93 479.92,116.51 482.9,116.08 485.88,115.65 488.85,115.22 491.82,114.79 494.8,114.35 497.77,113.92 500.75,113.48 503.73,113.04 506.7,112.6 506.7,122.2 503.73,122.24 500.75,122.29 497.77,122.33 494.8,122.38 491.82,122.43 488.85,122.48 485.88,122.53 482.9,122.58 479.92,122.64 476.95,122.7 473.98,122.76 471,122.83 468.02,122.9 465.05,122.98 462.07,123.07 459.1,123.17 456.12,123.28 453.15,123.41 450.18,123.55 447.2,123.72 444.22,123.92 441.25,124.15 438.27,124.4 435.3,124.66 432.32,124.93 429.35,125.22 426.38,125.51 423.4,125.82 420.43,126.13 417.45,126.45 414.47,126.78 411.5,127.12 408.52,127.46 405.55,127.8 402.57,128.15 399.6,128.5 396.62,128.85 393.65,129.21 390.68,129.57 387.7,129.93" fill="#999999" fill-opacity="0.4"/>
<polyline points="387.7,127.05 390.68,126.81 393.65,126.57 396.62,126.33 399.6,126.08 402.57,125.84 405.55,125.6 408.52,125.36 411.5,125.12 414.47,124.88 417.45,124.64 420.43,124.4 423.4,124.16 426.38,123.91 429.35,123.67 432.32,123.43 435.3,123.19 438.27,122.95 441.25,122.71 444.22,122.47 447.2,122.22 450.18,121.98 453.15,121.74 456.12,121.5 459.1,121.26 462.07,121.02 465.05,120.78 468.02,120.54 471,120.3 473.98,120.05 476.95,119.81 479.92,119.57 482.9,119.33 485.88,119.09 488.85,118.85 491.82,118.61 494.8,118.37 497.77,118.12 500.75,117.88 503.73,117.64 506.7,117.4" fill="none" stroke="#f31a20" stroke-width="2.4"/>
</g>
<rect x="381.8" y="41.95" width="131.6" height="101.75" fill="none" stroke="#3a3a3a" stroke-width="1.3"/>
<line x1="378.5" y1="139.25" x2="381.8" y2="139.25" stroke="#333333" stroke-width="1.3"/>
<text transform="translate(375.7,142.9) scale(1,1.06)" text-anchor="end" fill="#4d4d4d" font-size="10.1">0</text>
<line x1="378.5" y1="115.74" x2="381.8" y2="115.74" stroke="#333333" stroke-width="1.3"/>
<text transform="translate(375.7,119.39) scale(1,1.06)" text-anchor="end" fill="#4d4d4d" font-size="10.1">25</text>
<line x1="378.5" y1="92.22" x2="381.8" y2="92.22" stroke="#333333" stroke-width="1.3"/>
<text transform="translate(375.7,95.88) scale(1,1.06)" text-anchor="end" fill="#4d4d4d" font-size="10.1">50</text>
<line x1="378.5" y1="68.71" x2="381.8" y2="68.71" stroke="#333333" stroke-width="1.3"/>
<text transform="translate(375.7,72.36) scale(1,1.06)" text-anchor="end" fill="#4d4d4d" font-size="10.1">75</text>
<line x1="378.5" y1="45.2" x2="381.8" y2="45.2" stroke="#333333" stroke-width="1.3"/>
<text transform="translate(375.7,48.85) scale(1,1.06)" text-anchor="end" fill="#4d4d4d" font-size="10.1">100</text>
<line x1="387.78" y1="143.7" x2="387.78" y2="147" stroke="#333333" stroke-width="1.3"/>
<text transform="translate(387.78,157.15) scale(1,1.06)" text-anchor="middle" fill="#4d4d4d" font-size="10.1">0.00</text>
<line x1="417.69" y1="143.7" x2="417.69" y2="147" stroke="#333333" stroke-width="1.3"/>
<text transform="translate(417.69,157.15) scale(1,1.06)" text-anchor="middle" fill="#4d4d4d" font-size="10.1">0.25</text>
<line x1="447.6" y1="143.7" x2="447.6" y2="147" stroke="#333333" stroke-width="1.3"/>
<text transform="translate(447.6,157.15) scale(1,1.06)" text-anchor="middle" fill="#4d4d4d" font-size="10.1">0.50</text>
<line x1="477.51" y1="143.7" x2="477.51" y2="147" stroke="#333333" stroke-width="1.3"/>
<text transform="translate(477.51,157.15) scale(1,1.06)" text-anchor="middle" fill="#4d4d4d" font-size="10.1">0.75</text>
<line x1="507.42" y1="143.7" x2="507.42" y2="147" stroke="#333333" stroke-width="1.3"/>
<text transform="translate(507.42,157.15) scale(1,1.06)" text-anchor="middle" fill="#4d4d4d" font-size="10.1">1.00</text>
<text transform="translate(507.2,53.35) scale(1,1.06)" text-anchor="end" fill="#000" stroke="#000" stroke-width="0.18" font-size="9.85">p &lt; 0.0001</text>
<rect x="548.7" y="21.4" width="131.3" height="20.55" fill="#fff" stroke="#3a3a3a" stroke-width="1.3"/>
<text transform="translate(614.35,35.38) scale(1,1.06)" text-anchor="middle" fill="#111" stroke="#111" stroke-width="0.22" font-size="10.5" font-style="italic">CD19</text>
<clipPath id="c548_41"><rect x="548.7" y="41.95" width="131.3" height="101.75"/></clipPath>
<g clip-path="url(#c548_41)">
<g fill="#000">
<circle cx="554.52" cy="68.27" r="2.7"/>
<circle cx="574.61" cy="87.62" r="2.7"/>
<circle cx="594.4" cy="99.08" r="2.7"/>
<circle cx="554.52" cy="121.4" r="2.7"/>
<circle cx="591.73" cy="111.13" r="2.7"/>
<circle cx="591.73" cy="116.19" r="2.7"/>
<circle cx="594.4" cy="124.08" r="2.7"/>
<circle cx="591.73" cy="126.31" r="2.7"/>
<circle cx="606.31" cy="119.61" r="2.7"/>
<circle cx="554.28" cy="129.29" r="2.7"/>
<circle cx="554.82" cy="132.76" r="2.7"/>
<circle cx="554.38" cy="136.23" r="2.7"/>
<circle cx="554.42" cy="139.7" r="2.7"/>
<circle cx="560.69" cy="130.77" r="2.7"/>
<circle cx="560.93" cy="135.24" r="2.7"/>
<circle cx="561.14" cy="139.7" r="2.7"/>
<circle cx="564.78" cy="130.77" r="2.7"/>
<circle cx="564.35" cy="135.24" r="2.7"/>
<circle cx="564.89" cy="139.7" r="2.7"/>
<circle cx="568.81" cy="130.77" r="2.7"/>
<circle cx="569.33" cy="135.24" r="2.7"/>
<circle cx="569.11" cy="139.7" r="2.7"/>
<circle cx="572.73" cy="133.01" r="2.7"/>
<circle cx="572.68" cy="135.98" r="2.7"/>
<circle cx="573.12" cy="138.96" r="2.7"/>
<circle cx="577.1" cy="133.75" r="2.7"/>
<circle cx="577.59" cy="138.96" r="2.7"/>
<circle cx="584.5" cy="132.26" r="2.7"/>
<circle cx="584.3" cy="135.98" r="2.7"/>
<circle cx="584.06" cy="139.7" r="2.7"/>
<circle cx="591.44" cy="129.29" r="2.7"/>
<circle cx="591.85" cy="132.51" r="2.7"/>
<circle cx="591.85" cy="135.73" r="2.7"/>
<circle cx="591.44" cy="138.96" r="2.7"/>
<circle cx="594.12" cy="129.29" r="2.7"/>
<circle cx="594.53" cy="133.75" r="2.7"/>
<circle cx="594.52" cy="138.21" r="2.7"/>
<circle cx="598.96" cy="132.26" r="2.7"/>
<circle cx="599.03" cy="135.98" r="2.7"/>
<circle cx="598.57" cy="139.7" r="2.7"/>
<circle cx="603.53" cy="131.52" r="2.7"/>
<circle cx="603.03" cy="135.24" r="2.7"/>
<circle cx="603.54" cy="138.96" r="2.7"/>
<circle cx="606.11" cy="120.36" r="2.7"/>
<circle cx="606.28" cy="123.93" r="2.7"/>
<circle cx="606.55" cy="127.5" r="2.7"/>
<circle cx="606.02" cy="131.07" r="2.7"/>
<circle cx="606.46" cy="134.64" r="2.7"/>
<circle cx="606.41" cy="138.21" r="2.7"/>
<circle cx="654" cy="46.5" r="2.7"/>
<circle cx="634.12" cy="64.38" r="2.7"/>
<circle cx="674" cy="81.25" r="2.7"/>
<circle cx="614.38" cy="93.12" r="2.7"/>
<circle cx="621.88" cy="93.75" r="2.7"/>
<circle cx="614.38" cy="100" r="2.7"/>
<circle cx="621.88" cy="100.25" r="2.7"/>
<circle cx="644" cy="98.75" r="2.7"/>
<circle cx="659" cy="97.75" r="2.7"/>
<circle cx="664" cy="100.25" r="2.7"/>
<circle cx="644" cy="110" r="2.7"/>
<circle cx="654" cy="108.12" r="2.7"/>
<circle cx="654" cy="112.5" r="2.7"/>
<circle cx="636.5" cy="119" r="2.7"/>
<circle cx="614.1" cy="121.25" r="2.7"/>
<circle cx="614.64" cy="125" r="2.7"/>
<circle cx="614.29" cy="128.75" r="2.7"/>
<circle cx="614.21" cy="132.5" r="2.7"/>
<circle cx="614.67" cy="136.25" r="2.7"/>
<circle cx="614.14" cy="140" r="2.7"/>
<circle cx="621.88" cy="131.25" r="2.7"/>
<circle cx="621.65" cy="135.62" r="2.7"/>
<circle cx="622.17" cy="140" r="2.7"/>
<circle cx="628.54" cy="130" r="2.7"/>
<circle cx="628.73" cy="133.33" r="2.7"/>
<circle cx="628.99" cy="136.67" r="2.7"/>
<circle cx="628.45" cy="140" r="2.7"/>
<circle cx="633.89" cy="122.5" r="2.7"/>
<circle cx="633.85" cy="126" r="2.7"/>
<circle cx="633.47" cy="129.5" r="2.7"/>
<circle cx="634.02" cy="133" r="2.7"/>
<circle cx="633.67" cy="136.5" r="2.7"/>
<circle cx="633.59" cy="140" r="2.7"/>
<circle cx="636.65" cy="120" r="2.7"/>
<circle cx="637.17" cy="124" r="2.7"/>
<circle cx="636.7" cy="128" r="2.7"/>
<circle cx="636.81" cy="132" r="2.7"/>
<circle cx="637.14" cy="136" r="2.7"/>
<circle cx="636.59" cy="140" r="2.7"/>
<circle cx="644.29" cy="120" r="2.7"/>
<circle cx="643.85" cy="123.5" r="2.7"/>
<circle cx="643.9" cy="127" r="2.7"/>
<circle cx="644.28" cy="130.5" r="2.7"/>
<circle cx="643.73" cy="134" r="2.7"/>
<circle cx="644.09" cy="137.5" r="2.7"/>
<circle cx="654.22" cy="119.38" r="2.7"/>
<circle cx="654.01" cy="123" r="2.7"/>
<circle cx="653.77" cy="126.62" r="2.7"/>
<circle cx="654.3" cy="130.25" r="2.7"/>
<circle cx="653.84" cy="133.88" r="2.7"/>
<circle cx="653.92" cy="137.5" r="2.7"/>
<circle cx="658.98" cy="118.75" r="2.7"/>
<circle cx="658.45" cy="122.75" r="2.7"/>
<circle cx="658.92" cy="126.75" r="2.7"/>
<circle cx="658.82" cy="130.75" r="2.7"/>
<circle cx="658.48" cy="134.75" r="2.7"/>
<circle cx="659.03" cy="138.75" r="2.7"/>
<circle cx="663.48" cy="117.5" r="2.7"/>
<circle cx="664.02" cy="121.25" r="2.7"/>
<circle cx="663.66" cy="125" r="2.7"/>
<circle cx="663.6" cy="128.75" r="2.7"/>
<circle cx="664.04" cy="132.5" r="2.7"/>
<circle cx="663.51" cy="136.25" r="2.7"/>
<circle cx="663.78" cy="140" r="2.7"/>
<circle cx="667.75" cy="120" r="2.7"/>
<circle cx="667.45" cy="123.5" r="2.7"/>
<circle cx="667.31" cy="127" r="2.7"/>
<circle cx="667.8" cy="130.5" r="2.7"/>
<circle cx="667.29" cy="134" r="2.7"/>
<circle cx="667.48" cy="137.5" r="2.7"/>
<circle cx="673.91" cy="128.75" r="2.7"/>
<circle cx="674.27" cy="132.08" r="2.7"/>
<circle cx="673.72" cy="135.42" r="2.7"/>
<circle cx="674.1" cy="138.75" r="2.7"/>
</g>
<polygon points="554.9,132.68 557.88,132.64 560.85,132.59 563.82,132.54 566.8,132.49 569.77,132.44 572.75,132.38 575.73,132.32 578.7,132.26 581.67,132.19 584.65,132.11 587.62,131.96 590.6,131.8 593.57,131.63 596.55,131.45 599.52,131.26 602.5,131.07 605.48,130.85 608.45,130.63 611.42,130.38 614.4,130.1 617.38,129.69 620.35,129.27 623.32,128.82 626.3,128.36 629.27,127.89 632.25,127.4 635.23,126.91 638.2,126.41 641.17,125.9 644.15,125.39 647.12,124.86 650.1,124.33 653.07,123.8 656.05,123.26 659.02,122.72 662,122.18 664.98,121.63 667.95,121.09 670.92,120.55 673.9,120 673.9,129.4 670.92,129.56 667.95,129.72 664.98,129.88 662,130.04 659.02,130.2 656.05,130.36 653.07,130.53 650.1,130.7 647.12,130.87 644.15,131.04 641.17,131.2 638.2,131.36 635.23,131.54 632.25,131.71 629.27,131.9 626.3,132.09 623.32,132.3 620.35,132.53 617.38,132.77 614.4,133.03 611.42,133.23 608.45,133.45 605.48,133.69 602.5,133.94 599.52,134.2 596.55,134.47 593.57,134.76 590.6,135.05 587.62,135.36 584.65,135.67 581.67,135.92 578.7,136.17 575.73,136.43 572.75,136.69 569.77,136.95 566.8,137.22 563.82,137.49 560.85,137.77 557.88,138.04 554.9,138.32" fill="#999999" fill-opacity="0.4"/>
<polyline points="554.9,135.5 557.88,135.34 560.85,135.18 563.82,135.02 566.8,134.86 569.77,134.7 572.75,134.54 575.73,134.37 578.7,134.21 581.67,134.05 584.65,133.89 587.62,133.66 590.6,133.43 593.57,133.19 596.55,132.96 599.52,132.73 602.5,132.5 605.48,132.27 608.45,132.04 611.42,131.81 614.4,131.57 617.38,131.23 620.35,130.9 623.32,130.56 626.3,130.23 629.27,129.89 632.25,129.56 635.23,129.22 638.2,128.89 641.17,128.55 644.15,128.22 647.12,127.87 650.1,127.51 653.07,127.16 656.05,126.81 659.02,126.46 662,126.11 664.98,125.76 667.95,125.4 670.92,125.05 673.9,124.7" fill="none" stroke="#f31a20" stroke-width="2.4"/>
</g>
<rect x="548.7" y="41.95" width="131.3" height="101.75" fill="none" stroke="#3a3a3a" stroke-width="1.3"/>
<line x1="545.4" y1="139.05" x2="548.7" y2="139.05" stroke="#333333" stroke-width="1.3"/>
<text transform="translate(542.6,142.7) scale(1,1.06)" text-anchor="end" fill="#4d4d4d" font-size="10.1">0</text>
<line x1="545.4" y1="107.03" x2="548.7" y2="107.03" stroke="#333333" stroke-width="1.3"/>
<text transform="translate(542.6,110.68) scale(1,1.06)" text-anchor="end" fill="#4d4d4d" font-size="10.1">50</text>
<line x1="545.4" y1="75.02" x2="548.7" y2="75.02" stroke="#333333" stroke-width="1.3"/>
<text transform="translate(542.6,78.67) scale(1,1.06)" text-anchor="end" fill="#4d4d4d" font-size="10.1">100</text>
<line x1="545.4" y1="43" x2="548.7" y2="43" stroke="#333333" stroke-width="1.3"/>
<text transform="translate(542.6,46.65) scale(1,1.06)" text-anchor="end" fill="#4d4d4d" font-size="10.1">150</text>
<line x1="554.67" y1="143.7" x2="554.67" y2="147" stroke="#333333" stroke-width="1.3"/>
<text transform="translate(554.67,157.15) scale(1,1.06)" text-anchor="middle" fill="#4d4d4d" font-size="10.1">0.00</text>
<line x1="584.51" y1="143.7" x2="584.51" y2="147" stroke="#333333" stroke-width="1.3"/>
<text transform="translate(584.51,157.15) scale(1,1.06)" text-anchor="middle" fill="#4d4d4d" font-size="10.1">0.25</text>
<line x1="614.35" y1="143.7" x2="614.35" y2="147" stroke="#333333" stroke-width="1.3"/>
<text transform="translate(614.35,157.15) scale(1,1.06)" text-anchor="middle" fill="#4d4d4d" font-size="10.1">0.50</text>
<line x1="644.19" y1="143.7" x2="644.19" y2="147" stroke="#333333" stroke-width="1.3"/>
<text transform="translate(644.19,157.15) scale(1,1.06)" text-anchor="middle" fill="#4d4d4d" font-size="10.1">0.75</text>
<line x1="674.03" y1="143.7" x2="674.03" y2="147" stroke="#333333" stroke-width="1.3"/>
<text transform="translate(674.03,157.15) scale(1,1.06)" text-anchor="middle" fill="#4d4d4d" font-size="10.1">1.00</text>
<text transform="translate(552.2,53.35) scale(1,1.06)" fill="#000" stroke="#000" stroke-width="0.18" font-size="9.85">p &lt; 0.0001</text>
<rect x="59.85" y="186.5" width="131.25" height="20.5" fill="#fff" stroke="#3a3a3a" stroke-width="1.3"/>
<text transform="translate(125.47,200.45) scale(1,1.06)" text-anchor="middle" fill="#111" stroke="#111" stroke-width="0.22" font-size="10.5" font-style="italic">IL4</text>
<clipPath id="c59_207"><rect x="59.85" y="207" width="131.25" height="101.5"/></clipPath>
<g clip-path="url(#c59_207)">
<g fill="#000">
<circle cx="65.75" cy="278.5" r="2.7"/>
<circle cx="73" cy="271.25" r="2.7"/>
<circle cx="102.75" cy="271" r="2.7"/>
<circle cx="105.5" cy="266.25" r="2.7"/>
<circle cx="110.5" cy="264.75" r="2.7"/>
<circle cx="80.5" cy="285" r="2.7"/>
<circle cx="85.75" cy="291" r="2.7"/>
<circle cx="73" cy="290" r="2.7"/>
<circle cx="75.5" cy="294.38" r="2.7"/>
<circle cx="80.5" cy="294.38" r="2.7"/>
<circle cx="105.5" cy="287.5" r="2.7"/>
<circle cx="110.5" cy="284.38" r="2.7"/>
<circle cx="115.5" cy="288.12" r="2.7"/>
<circle cx="105.5" cy="294.75" r="2.7"/>
<circle cx="108" cy="294.75" r="2.7"/>
<circle cx="113" cy="294.75" r="2.7"/>
<circle cx="118" cy="294" r="2.7"/>
<circle cx="65.75" cy="293.12" r="2.7"/>
<circle cx="65.75" cy="295" r="2.7"/>
<circle cx="65.75" cy="303.12" r="2.7"/>
<circle cx="73" cy="303.12" r="2.7"/>
<circle cx="75.5" cy="303.12" r="2.7"/>
<circle cx="78" cy="303.12" r="2.7"/>
<circle cx="80.5" cy="303.12" r="2.7"/>
<circle cx="83" cy="303.12" r="2.7"/>
<circle cx="85.75" cy="303.12" r="2.7"/>
<circle cx="88.62" cy="303.12" r="2.7"/>
<circle cx="95.5" cy="303.12" r="2.7"/>
<circle cx="102.75" cy="303.12" r="2.7"/>
<circle cx="105.5" cy="303.12" r="2.7"/>
<circle cx="108" cy="303.12" r="2.7"/>
<circle cx="110.5" cy="303.12" r="2.7"/>
<circle cx="113" cy="303.12" r="2.7"/>
<circle cx="115.5" cy="303.12" r="2.7"/>
<circle cx="118" cy="303.12" r="2.7"/>
<circle cx="185.12" cy="211.5" r="2.7"/>
<circle cx="155.12" cy="230.25" r="2.7"/>
<circle cx="145.12" cy="235" r="2.7"/>
<circle cx="165.12" cy="236.25" r="2.7"/>
<circle cx="165.12" cy="250.62" r="2.7"/>
<circle cx="175.38" cy="249.38" r="2.7"/>
<circle cx="170.12" cy="255.25" r="2.7"/>
<circle cx="177.62" cy="257.5" r="2.7"/>
<circle cx="165.12" cy="262.5" r="2.7"/>
<circle cx="175.38" cy="264.38" r="2.7"/>
<circle cx="145.12" cy="266.88" r="2.7"/>
<circle cx="145.12" cy="276.88" r="2.7"/>
<circle cx="135.12" cy="290.62" r="2.7"/>
<circle cx="133.25" cy="293.12" r="2.7"/>
<circle cx="125.7" cy="262.5" r="2.7"/>
<circle cx="125.53" cy="265" r="2.7"/>
<circle cx="125.7" cy="270" r="2.7"/>
<circle cx="125.53" cy="275" r="2.7"/>
<circle cx="125.7" cy="288.75" r="2.7"/>
<circle cx="125.53" cy="291.88" r="2.7"/>
<circle cx="125.26" cy="295" r="2.7"/>
<circle cx="144.93" cy="280" r="2.7"/>
<circle cx="145.08" cy="283.5" r="2.7"/>
<circle cx="145.38" cy="287" r="2.7"/>
<circle cx="144.84" cy="290.5" r="2.7"/>
<circle cx="145.26" cy="294" r="2.7"/>
<circle cx="145.23" cy="297.5" r="2.7"/>
<circle cx="148.43" cy="290" r="2.7"/>
<circle cx="147.95" cy="295" r="2.7"/>
<circle cx="155.08" cy="286.25" r="2.7"/>
<circle cx="154.93" cy="290.62" r="2.7"/>
<circle cx="155.42" cy="295" r="2.7"/>
<circle cx="165.24" cy="273.12" r="2.7"/>
<circle cx="164.84" cy="278.75" r="2.7"/>
<circle cx="165.24" cy="286.25" r="2.7"/>
<circle cx="164.84" cy="289.38" r="2.7"/>
<circle cx="165.39" cy="292.5" r="2.7"/>
<circle cx="169.94" cy="293.75" r="2.7"/>
<circle cx="170.42" cy="295" r="2.7"/>
<circle cx="175.24" cy="292.5" r="2.7"/>
<circle cx="175.26" cy="295" r="2.7"/>
<circle cx="185.42" cy="283.75" r="2.7"/>
<circle cx="184.91" cy="287.5" r="2.7"/>
<circle cx="185.11" cy="291.25" r="2.7"/>
<circle cx="185.36" cy="295" r="2.7"/>
<circle cx="125.5" cy="303.12" r="2.7"/>
<circle cx="133.25" cy="303.12" r="2.7"/>
<circle cx="135.75" cy="303.12" r="2.7"/>
<circle cx="138.25" cy="303.12" r="2.7"/>
<circle cx="140.75" cy="303.12" r="2.7"/>
<circle cx="145.12" cy="303.12" r="2.7"/>
<circle cx="148.25" cy="303.12" r="2.7"/>
<circle cx="155.12" cy="303.12" r="2.7"/>
<circle cx="165.12" cy="303.12" r="2.7"/>
<circle cx="167.62" cy="303.12" r="2.7"/>
<circle cx="170.12" cy="303.12" r="2.7"/>
<circle cx="172.62" cy="303.12" r="2.7"/>
<circle cx="175.38" cy="303.12" r="2.7"/>
<circle cx="177.62" cy="303.12" r="2.7"/>
<circle cx="185.12" cy="303.12" r="2.7"/>
</g>
<polygon points="65.75,297.6 68.73,297.66 71.72,297.73 74.7,297.79 77.69,297.84 80.67,297.9 83.65,297.95 86.64,297.99 89.62,298.04 92.6,298.07 95.59,298.1 98.57,297.94 101.55,297.76 104.54,297.58 107.52,297.39 110.51,297.19 113.49,296.97 116.47,296.75 119.46,296.5 122.44,296.24 125.42,295.94 128.41,295.49 131.39,295.01 134.38,294.51 137.36,293.99 140.34,293.46 143.33,292.92 146.31,292.21 149.29,291.29 152.28,290.36 155.26,289.42 158.25,288.3 161.23,287.18 164.21,286.06 167.2,284.93 170.18,283.8 173.16,282.66 176.15,281.52 179.13,280.38 182.12,279.24 185.1,278.1 185.1,288.1 182.12,288.83 179.13,289.56 176.15,290.29 173.16,291.02 170.18,291.76 167.2,292.49 164.21,293.23 161.23,293.95 158.25,294.69 155.26,295.42 152.28,296 149.29,296.56 146.31,297.13 143.33,297.51 140.34,297.73 137.36,297.96 134.38,298.21 131.39,298.48 128.41,298.76 125.42,299.07 122.44,299.27 119.46,299.5 116.47,299.76 113.49,300.03 110.51,300.31 107.52,300.61 104.54,300.91 101.55,301.23 98.57,301.55 95.59,301.89 92.6,302.04 89.62,302.2 86.64,302.36 83.65,302.53 80.67,302.7 77.69,302.88 74.7,303.05 71.72,303.23 68.73,303.42 65.75,303.6" fill="#999999" fill-opacity="0.4"/>
<polyline points="65.75,300.6 68.73,300.54 71.72,300.48 74.7,300.42 77.69,300.36 80.67,300.3 83.65,300.24 86.64,300.18 89.62,300.12 92.6,300.06 95.59,299.99 98.57,299.74 101.55,299.5 104.54,299.25 107.52,299 110.51,298.75 113.49,298.5 116.47,298.25 119.46,298 122.44,297.75 125.42,297.51 128.41,297.13 131.39,296.74 134.38,296.36 137.36,295.98 140.34,295.6 143.33,295.21 146.31,294.67 149.29,293.93 152.28,293.18 155.26,292.42 158.25,291.49 161.23,290.57 164.21,289.64 167.2,288.71 170.18,287.78 173.16,286.84 176.15,285.91 179.13,284.97 182.12,284.04 185.1,283.1" fill="none" stroke="#f31a20" stroke-width="2.4"/>
</g>
<rect x="59.85" y="207" width="131.25" height="101.5" fill="none" stroke="#3a3a3a" stroke-width="1.3"/>
<line x1="56.55" y1="303.2" x2="59.85" y2="303.2" stroke="#333333" stroke-width="1.3"/>
<text transform="translate(53.75,306.85) scale(1,1.06)" text-anchor="end" fill="#4d4d4d" font-size="10.1">0.0</text>
<line x1="56.55" y1="280.95" x2="59.85" y2="280.95" stroke="#333333" stroke-width="1.3"/>
<text transform="translate(53.75,284.6) scale(1,1.06)" text-anchor="end" fill="#4d4d4d" font-size="10.1">0.2</text>
<line x1="56.55" y1="258.7" x2="59.85" y2="258.7" stroke="#333333" stroke-width="1.3"/>
<text transform="translate(53.75,262.35) scale(1,1.06)" text-anchor="end" fill="#4d4d4d" font-size="10.1">0.4</text>
<line x1="56.55" y1="236.45" x2="59.85" y2="236.45" stroke="#333333" stroke-width="1.3"/>
<text transform="translate(53.75,240.1) scale(1,1.06)" text-anchor="end" fill="#4d4d4d" font-size="10.1">0.6</text>
<line x1="56.55" y1="214.2" x2="59.85" y2="214.2" stroke="#333333" stroke-width="1.3"/>
<text transform="translate(53.75,217.85) scale(1,1.06)" text-anchor="end" fill="#4d4d4d" font-size="10.1">0.8</text>
<line x1="65.82" y1="308.5" x2="65.82" y2="311.8" stroke="#333333" stroke-width="1.3"/>
<text transform="translate(65.82,321.95) scale(1,1.06)" text-anchor="middle" fill="#4d4d4d" font-size="10.1">0.00</text>
<line x1="95.65" y1="308.5" x2="95.65" y2="311.8" stroke="#333333" stroke-width="1.3"/>
<text transform="translate(95.65,321.95) scale(1,1.06)" text-anchor="middle" fill="#4d4d4d" font-size="10.1">0.25</text>
<line x1="125.47" y1="308.5" x2="125.47" y2="311.8" stroke="#333333" stroke-width="1.3"/>
<text transform="translate(125.47,321.95) scale(1,1.06)" text-anchor="middle" fill="#4d4d4d" font-size="10.1">0.50</text>
<line x1="155.3" y1="308.5" x2="155.3" y2="311.8" stroke="#333333" stroke-width="1.3"/>
<text transform="translate(155.3,321.95) scale(1,1.06)" text-anchor="middle" fill="#4d4d4d" font-size="10.1">0.75</text>
<line x1="185.13" y1="308.5" x2="185.13" y2="311.8" stroke="#333333" stroke-width="1.3"/>
<text transform="translate(185.13,321.95) scale(1,1.06)" text-anchor="middle" fill="#4d4d4d" font-size="10.1">1.00</text>
<text transform="translate(65.25,218.4) scale(1,1.06)" fill="#000" stroke="#000" stroke-width="0.18" font-size="9.85">p &lt; 0.0001</text>
<rect x="220.75" y="186.5" width="131.45" height="20.5" fill="#fff" stroke="#3a3a3a" stroke-width="1.3"/>
<text transform="translate(286.48,200.45) scale(1,1.06)" text-anchor="middle" fill="#111" stroke="#111" stroke-width="0.22" font-size="10.5" font-style="italic">IL5</text>
<clipPath id="c220_207"><rect x="220.75" y="207" width="131.45" height="101.5"/></clipPath>
<g clip-path="url(#c220_207)">
<g fill="#000">
<circle cx="266.5" cy="215.62" r="2.7"/>
<circle cx="271.5" cy="269.38" r="2.7"/>
<circle cx="226.5" cy="277.25" r="2.7"/>
<circle cx="234.25" cy="274" r="2.7"/>
<circle cx="226.5" cy="285.25" r="2.7"/>
<circle cx="236.75" cy="288.12" r="2.7"/>
<circle cx="241.75" cy="286.88" r="2.7"/>
<circle cx="246.75" cy="290" r="2.7"/>
<circle cx="266.75" cy="280.62" r="2.7"/>
<circle cx="276.75" cy="281.88" r="2.7"/>
<circle cx="279.25" cy="285.62" r="2.7"/>
<circle cx="226.36" cy="291.25" r="2.7"/>
<circle cx="226.39" cy="294.69" r="2.7"/>
<circle cx="226.78" cy="298.12" r="2.7"/>
<circle cx="226.23" cy="301.56" r="2.7"/>
<circle cx="226.57" cy="305" r="2.7"/>
<circle cx="234.28" cy="292.5" r="2.7"/>
<circle cx="234.01" cy="296.67" r="2.7"/>
<circle cx="234.54" cy="300.83" r="2.7"/>
<circle cx="234.1" cy="305" r="2.7"/>
<circle cx="236.46" cy="291.25" r="2.7"/>
<circle cx="236.89" cy="294.69" r="2.7"/>
<circle cx="236.85" cy="298.12" r="2.7"/>
<circle cx="236.47" cy="301.56" r="2.7"/>
<circle cx="237.02" cy="305" r="2.7"/>
<circle cx="242.01" cy="292.5" r="2.7"/>
<circle cx="241.69" cy="296.67" r="2.7"/>
<circle cx="241.57" cy="300.83" r="2.7"/>
<circle cx="242.05" cy="305" r="2.7"/>
<circle cx="244.43" cy="292.5" r="2.7"/>
<circle cx="243.95" cy="296.67" r="2.7"/>
<circle cx="244.47" cy="300.83" r="2.7"/>
<circle cx="244.26" cy="305" r="2.7"/>
<circle cx="246.54" cy="292.5" r="2.7"/>
<circle cx="246.73" cy="296.67" r="2.7"/>
<circle cx="246.99" cy="300.83" r="2.7"/>
<circle cx="246.45" cy="305" r="2.7"/>
<circle cx="249.01" cy="295" r="2.7"/>
<circle cx="249.54" cy="298.33" r="2.7"/>
<circle cx="249.1" cy="301.67" r="2.7"/>
<circle cx="249.16" cy="305" r="2.7"/>
<circle cx="256.68" cy="283.75" r="2.7"/>
<circle cx="256.58" cy="287.29" r="2.7"/>
<circle cx="257.05" cy="290.83" r="2.7"/>
<circle cx="256.53" cy="294.38" r="2.7"/>
<circle cx="256.75" cy="297.92" r="2.7"/>
<circle cx="256.97" cy="301.46" r="2.7"/>
<circle cx="256.45" cy="305" r="2.7"/>
<circle cx="264.55" cy="295" r="2.7"/>
<circle cx="264.09" cy="298.33" r="2.7"/>
<circle cx="264.16" cy="301.67" r="2.7"/>
<circle cx="264.52" cy="305" r="2.7"/>
<circle cx="266.84" cy="283.12" r="2.7"/>
<circle cx="266.47" cy="287.19" r="2.7"/>
<circle cx="267.02" cy="291.25" r="2.7"/>
<circle cx="266.84" cy="296.25" r="2.7"/>
<circle cx="266.47" cy="300.62" r="2.7"/>
<circle cx="267.02" cy="305" r="2.7"/>
<circle cx="271.58" cy="288.75" r="2.7"/>
<circle cx="272.05" cy="292.81" r="2.7"/>
<circle cx="271.52" cy="296.88" r="2.7"/>
<circle cx="271.76" cy="300.94" r="2.7"/>
<circle cx="271.97" cy="305" r="2.7"/>
<circle cx="274.47" cy="295" r="2.7"/>
<circle cx="274.25" cy="298.33" r="2.7"/>
<circle cx="274.03" cy="301.67" r="2.7"/>
<circle cx="274.55" cy="305" r="2.7"/>
<circle cx="276.98" cy="282.5" r="2.7"/>
<circle cx="276.45" cy="286.25" r="2.7"/>
<circle cx="276.92" cy="290" r="2.7"/>
<circle cx="276.82" cy="293.75" r="2.7"/>
<circle cx="276.48" cy="297.5" r="2.7"/>
<circle cx="277.03" cy="301.25" r="2.7"/>
<circle cx="276.64" cy="305" r="2.7"/>
<circle cx="279.09" cy="290" r="2.7"/>
<circle cx="279.17" cy="293.75" r="2.7"/>
<circle cx="279.52" cy="297.5" r="2.7"/>
<circle cx="278.97" cy="301.25" r="2.7"/>
<circle cx="279.35" cy="305" r="2.7"/>
<circle cx="286.38" cy="211.5" r="2.7"/>
<circle cx="306.38" cy="239.38" r="2.7"/>
<circle cx="316" cy="240.62" r="2.7"/>
<circle cx="316" cy="245.62" r="2.7"/>
<circle cx="316" cy="252.25" r="2.7"/>
<circle cx="336" cy="239.38" r="2.7"/>
<circle cx="293.88" cy="257.88" r="2.7"/>
<circle cx="326" cy="255" r="2.7"/>
<circle cx="306.38" cy="269.75" r="2.7"/>
<circle cx="316" cy="267.25" r="2.7"/>
<circle cx="316" cy="274.38" r="2.7"/>
<circle cx="306.38" cy="276.25" r="2.7"/>
<circle cx="326" cy="278.75" r="2.7"/>
<circle cx="316" cy="284" r="2.7"/>
<circle cx="293.88" cy="286.5" r="2.7"/>
<circle cx="346.38" cy="282.5" r="2.7"/>
<circle cx="286.2" cy="283.75" r="2.7"/>
<circle cx="286.67" cy="287.29" r="2.7"/>
<circle cx="286.15" cy="290.83" r="2.7"/>
<circle cx="286.37" cy="294.38" r="2.7"/>
<circle cx="286.6" cy="297.92" r="2.7"/>
<circle cx="286.08" cy="301.46" r="2.7"/>
<circle cx="286.54" cy="305" r="2.7"/>
<circle cx="293.72" cy="291.25" r="2.7"/>
<circle cx="293.78" cy="294.69" r="2.7"/>
<circle cx="294.15" cy="298.12" r="2.7"/>
<circle cx="293.6" cy="301.56" r="2.7"/>
<circle cx="293.96" cy="305" r="2.7"/>
<circle cx="298.28" cy="291.25" r="2.7"/>
<circle cx="298.01" cy="294.69" r="2.7"/>
<circle cx="298.54" cy="298.12" r="2.7"/>
<circle cx="298.1" cy="301.56" r="2.7"/>
<circle cx="298.15" cy="305" r="2.7"/>
<circle cx="301.73" cy="290" r="2.7"/>
<circle cx="302.28" cy="293.75" r="2.7"/>
<circle cx="301.89" cy="297.5" r="2.7"/>
<circle cx="301.86" cy="301.25" r="2.7"/>
<circle cx="302.29" cy="305" r="2.7"/>
<circle cx="306.08" cy="281.25" r="2.7"/>
<circle cx="306.54" cy="285.21" r="2.7"/>
<circle cx="306.46" cy="289.17" r="2.7"/>
<circle cx="306.11" cy="293.12" r="2.7"/>
<circle cx="306.65" cy="297.08" r="2.7"/>
<circle cx="306.27" cy="301.04" r="2.7"/>
<circle cx="306.23" cy="305" r="2.7"/>
<circle cx="308.79" cy="283.75" r="2.7"/>
<circle cx="309.15" cy="287.29" r="2.7"/>
<circle cx="308.6" cy="290.83" r="2.7"/>
<circle cx="308.97" cy="294.38" r="2.7"/>
<circle cx="309.02" cy="297.92" r="2.7"/>
<circle cx="308.58" cy="301.46" r="2.7"/>
<circle cx="309.12" cy="305" r="2.7"/>
<circle cx="316.28" cy="288.75" r="2.7"/>
<circle cx="315.74" cy="292.81" r="2.7"/>
<circle cx="316.07" cy="296.88" r="2.7"/>
<circle cx="316.17" cy="300.94" r="2.7"/>
<circle cx="315.7" cy="305" r="2.7"/>
<circle cx="326.29" cy="263.75" r="2.7"/>
<circle cx="325.85" cy="267.5" r="2.7"/>
<circle cx="325.9" cy="271.25" r="2.7"/>
<circle cx="326.28" cy="275" r="2.7"/>
<circle cx="326.29" cy="286.25" r="2.7"/>
<circle cx="325.85" cy="290" r="2.7"/>
<circle cx="325.9" cy="293.75" r="2.7"/>
<circle cx="326.28" cy="297.5" r="2.7"/>
<circle cx="325.73" cy="301.25" r="2.7"/>
<circle cx="326.09" cy="305" r="2.7"/>
<circle cx="329.76" cy="290" r="2.7"/>
<circle cx="329.21" cy="293.75" r="2.7"/>
<circle cx="329.62" cy="297.5" r="2.7"/>
<circle cx="329.62" cy="301.25" r="2.7"/>
<circle cx="329.21" cy="305" r="2.7"/>
<circle cx="332.98" cy="292.5" r="2.7"/>
<circle cx="333.33" cy="296.67" r="2.7"/>
<circle cx="333.41" cy="300.83" r="2.7"/>
<circle cx="332.95" cy="305" r="2.7"/>
<circle cx="336.22" cy="275.62" r="2.7"/>
<circle cx="336.01" cy="279.38" r="2.7"/>
<circle cx="335.77" cy="283.12" r="2.7"/>
<circle cx="338.6" cy="292.5" r="2.7"/>
<circle cx="338.98" cy="296.67" r="2.7"/>
<circle cx="339.01" cy="300.83" r="2.7"/>
<circle cx="338.58" cy="305" r="2.7"/>
<circle cx="346.59" cy="287.5" r="2.7"/>
<circle cx="346.08" cy="291" r="2.7"/>
<circle cx="346.56" cy="294.5" r="2.7"/>
<circle cx="346.42" cy="298" r="2.7"/>
<circle cx="346.12" cy="301.5" r="2.7"/>
<circle cx="346.66" cy="305" r="2.7"/>
</g>
<polygon points="226.5,296.4 229.48,296.29 232.46,296.18 235.44,296.06 238.43,295.94 241.41,295.82 244.39,295.7 247.37,295.57 250.35,295.44 253.33,295.3 256.31,295.16 259.29,295.01 262.27,294.85 265.26,294.68 268.24,294.5 271.22,294.31 274.2,294.11 277.18,293.9 280.16,293.67 283.14,293.42 286.12,293.14 289.11,292.83 292.09,292.5 295.07,292.14 298.05,291.77 301.03,291.39 304.01,291 306.99,290.59 309.98,290.18 312.96,289.77 315.94,289.35 318.92,288.92 321.9,288.49 324.88,288.06 327.86,287.63 330.84,287.2 333.82,286.76 336.81,286.32 339.79,285.88 342.77,285.44 345.75,285 345.75,295 342.77,295.03 339.79,295.06 336.81,295.09 333.82,295.12 330.84,295.15 327.86,295.19 324.88,295.23 321.9,295.27 318.92,295.31 315.94,295.35 312.96,295.4 309.98,295.46 306.99,295.52 304.01,295.58 301.03,295.66 298.05,295.75 295.07,295.85 292.09,295.96 289.11,296.1 286.12,296.26 283.14,296.45 280.16,296.67 277.18,296.91 274.2,297.17 271.22,297.44 268.24,297.72 265.26,298.01 262.27,298.31 259.29,298.62 256.31,298.94 253.33,299.27 250.35,299.6 247.37,299.94 244.39,300.28 241.41,300.63 238.43,300.98 235.44,301.33 232.46,301.68 229.48,302.04 226.5,302.4" fill="#999999" fill-opacity="0.4"/>
<polyline points="226.5,299.4 229.48,299.16 232.46,298.93 235.44,298.69 238.43,298.46 241.41,298.22 244.39,297.99 247.37,297.75 250.35,297.52 253.33,297.28 256.31,297.05 259.29,296.81 262.27,296.58 265.26,296.34 268.24,296.11 271.22,295.88 274.2,295.64 277.18,295.4 280.16,295.17 283.14,294.94 286.12,294.7 289.11,294.46 292.09,294.23 295.07,294 298.05,293.76 301.03,293.52 304.01,293.29 306.99,293.06 309.98,292.82 312.96,292.58 315.94,292.35 318.92,292.12 321.9,291.88 324.88,291.64 327.86,291.41 330.84,291.18 333.82,290.94 336.81,290.7 339.79,290.47 342.77,290.24 345.75,290" fill="none" stroke="#f31a20" stroke-width="2.4"/>
</g>
<rect x="220.75" y="207" width="131.45" height="101.5" fill="none" stroke="#3a3a3a" stroke-width="1.3"/>
<line x1="217.45" y1="304.4" x2="220.75" y2="304.4" stroke="#333333" stroke-width="1.3"/>
<text transform="translate(214.65,308.05) scale(1,1.06)" text-anchor="end" fill="#4d4d4d" font-size="10.1">0.0</text>
<line x1="217.45" y1="282.52" x2="220.75" y2="282.52" stroke="#333333" stroke-width="1.3"/>
<text transform="translate(214.65,286.17) scale(1,1.06)" text-anchor="end" fill="#4d4d4d" font-size="10.1">0.2</text>
<line x1="217.45" y1="260.65" x2="220.75" y2="260.65" stroke="#333333" stroke-width="1.3"/>
<text transform="translate(214.65,264.3) scale(1,1.06)" text-anchor="end" fill="#4d4d4d" font-size="10.1">0.4</text>
<line x1="217.45" y1="238.78" x2="220.75" y2="238.78" stroke="#333333" stroke-width="1.3"/>
<text transform="translate(214.65,242.43) scale(1,1.06)" text-anchor="end" fill="#4d4d4d" font-size="10.1">0.6</text>
<line x1="217.45" y1="216.9" x2="220.75" y2="216.9" stroke="#333333" stroke-width="1.3"/>
<text transform="translate(214.65,220.55) scale(1,1.06)" text-anchor="end" fill="#4d4d4d" font-size="10.1">0.8</text>
<line x1="226.72" y1="308.5" x2="226.72" y2="311.8" stroke="#333333" stroke-width="1.3"/>
<text transform="translate(226.72,321.95) scale(1,1.06)" text-anchor="middle" fill="#4d4d4d" font-size="10.1">0.00</text>
<line x1="256.6" y1="308.5" x2="256.6" y2="311.8" stroke="#333333" stroke-width="1.3"/>
<text transform="translate(256.6,321.95) scale(1,1.06)" text-anchor="middle" fill="#4d4d4d" font-size="10.1">0.25</text>
<line x1="286.48" y1="308.5" x2="286.48" y2="311.8" stroke="#333333" stroke-width="1.3"/>
<text transform="translate(286.48,321.95) scale(1,1.06)" text-anchor="middle" fill="#4d4d4d" font-size="10.1">0.50</text>
<line x1="316.35" y1="308.5" x2="316.35" y2="311.8" stroke="#333333" stroke-width="1.3"/>
<text transform="translate(316.35,321.95) scale(1,1.06)" text-anchor="middle" fill="#4d4d4d" font-size="10.1">0.75</text>
<line x1="346.22" y1="308.5" x2="346.22" y2="311.8" stroke="#333333" stroke-width="1.3"/>
<text transform="translate(346.22,321.95) scale(1,1.06)" text-anchor="middle" fill="#4d4d4d" font-size="10.1">1.00</text>
<text transform="translate(348.75,218.4) scale(1,1.06)" text-anchor="end" fill="#000" stroke="#000" stroke-width="0.18" font-size="9.85">p &lt; 0.0001</text>
<rect x="381.8" y="186.5" width="131.6" height="20.5" fill="#fff" stroke="#3a3a3a" stroke-width="1.3"/>
<text transform="translate(447.6,200.45) scale(1,1.06)" text-anchor="middle" fill="#111" stroke="#111" stroke-width="0.22" font-size="10.5" font-style="italic">IL13RA2</text>
<clipPath id="c381_207"><rect x="381.8" y="207" width="131.6" height="101.5"/></clipPath>
<g clip-path="url(#c381_207)">
<g fill="#000">
<circle cx="424.9" cy="254.11" r="2.7"/>
<circle cx="424.9" cy="261.55" r="2.7"/>
<circle cx="410.32" cy="279.85" r="2.7"/>
<circle cx="417.46" cy="281.64" r="2.7"/>
<circle cx="427.43" cy="283.12" r="2.7"/>
<circle cx="432.64" cy="286.1" r="2.7"/>
<circle cx="417.46" cy="291.31" r="2.7"/>
<circle cx="402.58" cy="295.48" r="2.7"/>
<circle cx="432.64" cy="292.05" r="2.7"/>
<circle cx="387.4" cy="300.24" r="2.7"/>
<circle cx="387.87" cy="303.21" r="2.7"/>
<circle cx="395.42" cy="300.98" r="2.7"/>
<circle cx="394.88" cy="303.21" r="2.7"/>
<circle cx="398.11" cy="300.98" r="2.7"/>
<circle cx="398.61" cy="303.21" r="2.7"/>
<circle cx="402.36" cy="298.75" r="2.7"/>
<circle cx="402.88" cy="303.21" r="2.7"/>
<circle cx="407.46" cy="300.24" r="2.7"/>
<circle cx="407.06" cy="303.21" r="2.7"/>
<circle cx="410.06" cy="300.24" r="2.7"/>
<circle cx="410.37" cy="303.21" r="2.7"/>
<circle cx="417.48" cy="298.01" r="2.7"/>
<circle cx="417.67" cy="303.21" r="2.7"/>
<circle cx="424.75" cy="296.52" r="2.7"/>
<circle cx="424.8" cy="299.87" r="2.7"/>
<circle cx="425.17" cy="303.21" r="2.7"/>
<circle cx="427.47" cy="296.52" r="2.7"/>
<circle cx="427.18" cy="299.87" r="2.7"/>
<circle cx="427.72" cy="303.21" r="2.7"/>
<circle cx="430.12" cy="297.26" r="2.7"/>
<circle cx="430.53" cy="300.24" r="2.7"/>
<circle cx="430.52" cy="303.21" r="2.7"/>
<circle cx="432.85" cy="295.03" r="2.7"/>
<circle cx="432.34" cy="299.12" r="2.7"/>
<circle cx="432.82" cy="303.21" r="2.7"/>
<circle cx="435.43" cy="295.77" r="2.7"/>
<circle cx="435.56" cy="299.49" r="2.7"/>
<circle cx="435.87" cy="303.21" r="2.7"/>
<circle cx="439.98" cy="295.03" r="2.7"/>
<circle cx="440.36" cy="299.12" r="2.7"/>
<circle cx="439.81" cy="303.21" r="2.7"/>
<circle cx="497.12" cy="211.5" r="2.7"/>
<circle cx="497.12" cy="229.38" r="2.7"/>
<circle cx="487.12" cy="231.62" r="2.7"/>
<circle cx="487.12" cy="248.38" r="2.7"/>
<circle cx="507.12" cy="250" r="2.7"/>
<circle cx="477.12" cy="257.25" r="2.7"/>
<circle cx="497.12" cy="259.75" r="2.7"/>
<circle cx="497.12" cy="266" r="2.7"/>
<circle cx="477.12" cy="274.12" r="2.7"/>
<circle cx="467.5" cy="278.12" r="2.7"/>
<circle cx="470" cy="276.88" r="2.7"/>
<circle cx="467.5" cy="285" r="2.7"/>
<circle cx="470" cy="284" r="2.7"/>
<circle cx="497.12" cy="281.88" r="2.7"/>
<circle cx="507.12" cy="282.5" r="2.7"/>
<circle cx="447.23" cy="292.5" r="2.7"/>
<circle cx="447.59" cy="296.25" r="2.7"/>
<circle cx="447.65" cy="300" r="2.7"/>
<circle cx="447.21" cy="303.75" r="2.7"/>
<circle cx="455.22" cy="291.25" r="2.7"/>
<circle cx="454.7" cy="295.42" r="2.7"/>
<circle cx="455.18" cy="299.58" r="2.7"/>
<circle cx="455.06" cy="303.75" r="2.7"/>
<circle cx="459.73" cy="292.5" r="2.7"/>
<circle cx="460.28" cy="296.25" r="2.7"/>
<circle cx="459.89" cy="300" r="2.7"/>
<circle cx="459.86" cy="303.75" r="2.7"/>
<circle cx="462.6" cy="291.25" r="2.7"/>
<circle cx="462.65" cy="295.42" r="2.7"/>
<circle cx="462.21" cy="299.58" r="2.7"/>
<circle cx="462.74" cy="303.75" r="2.7"/>
<circle cx="465.29" cy="292.5" r="2.7"/>
<circle cx="464.76" cy="296.25" r="2.7"/>
<circle cx="465.03" cy="300" r="2.7"/>
<circle cx="465.21" cy="303.75" r="2.7"/>
<circle cx="467.48" cy="290" r="2.7"/>
<circle cx="467.29" cy="293.44" r="2.7"/>
<circle cx="467.8" cy="296.88" r="2.7"/>
<circle cx="467.31" cy="300.31" r="2.7"/>
<circle cx="467.45" cy="303.75" r="2.7"/>
<circle cx="469.7" cy="290" r="2.7"/>
<circle cx="470.18" cy="293.44" r="2.7"/>
<circle cx="470.06" cy="296.88" r="2.7"/>
<circle cx="469.74" cy="300.31" r="2.7"/>
<circle cx="470.29" cy="303.75" r="2.7"/>
<circle cx="477.28" cy="283.12" r="2.7"/>
<circle cx="477.21" cy="287.25" r="2.7"/>
<circle cx="476.85" cy="291.38" r="2.7"/>
<circle cx="477.4" cy="295.5" r="2.7"/>
<circle cx="477.03" cy="299.62" r="2.7"/>
<circle cx="476.98" cy="303.75" r="2.7"/>
<circle cx="487.13" cy="276.88" r="2.7"/>
<circle cx="487.35" cy="280.94" r="2.7"/>
<circle cx="486.83" cy="285" r="2.7"/>
<circle cx="487.3" cy="289.06" r="2.7"/>
<circle cx="487.19" cy="293.12" r="2.7"/>
<circle cx="486.86" cy="297.19" r="2.7"/>
<circle cx="487.41" cy="301.25" r="2.7"/>
<circle cx="492.21" cy="286.25" r="2.7"/>
<circle cx="492.75" cy="290.31" r="2.7"/>
<circle cx="492.46" cy="294.38" r="2.7"/>
<circle cx="492.31" cy="298.44" r="2.7"/>
<circle cx="492.8" cy="302.5" r="2.7"/>
<circle cx="496.97" cy="292.5" r="2.7"/>
<circle cx="497.42" cy="295.83" r="2.7"/>
<circle cx="496.89" cy="299.17" r="2.7"/>
<circle cx="497.15" cy="302.5" r="2.7"/>
<circle cx="500.04" cy="297.5" r="2.7"/>
<circle cx="499.75" cy="302.5" r="2.7"/>
<circle cx="506.86" cy="290" r="2.7"/>
<circle cx="507.41" cy="294.17" r="2.7"/>
<circle cx="507.02" cy="298.33" r="2.7"/>
<circle cx="506.99" cy="302.5" r="2.7"/>
</g>
<polygon points="387.7,299.45 390.69,299.54 393.67,299.63 396.65,299.72 399.64,299.81 402.62,299.87 405.61,299.93 408.59,299.93 411.58,299.91 414.56,299.85 417.55,299.75 420.53,299.63 423.52,299.46 426.5,299.27 429.49,299.02 432.48,298.75 435.46,298.43 438.44,298.08 441.43,297.68 444.42,297.24 447.4,296.75 450.38,296.2 453.37,295.61 456.36,294.96 459.34,294.29 462.33,293.56 465.31,292.81 468.3,292.01 471.28,291.18 474.26,290.32 477.25,289.41 480.24,288.49 483.22,287.51 486.21,286.53 489.19,285.49 492.18,284.43 495.16,283.34 498.14,282.22 501.13,281.07 504.12,279.88 507.1,278.68 507.1,286.18 504.12,287.07 501.13,287.95 498.14,288.79 495.16,289.61 492.18,290.4 489.19,291.16 486.21,291.9 483.22,292.59 480.24,293.28 477.25,293.92 474.26,294.54 471.28,295.13 468.3,295.7 465.31,296.25 462.33,296.76 459.34,297.27 456.36,297.74 453.37,298.21 450.38,298.65 447.4,299.09 444.42,299.51 441.43,299.93 438.44,300.34 435.46,300.72 432.48,301.1 429.49,301.43 426.5,301.77 423.52,302.06 420.53,302.34 417.55,302.59 414.56,302.82 411.58,303.03 408.59,303.2 405.61,303.36 402.62,303.48 399.64,303.59 396.65,303.68 393.67,303.77 390.69,303.86 387.7,303.95" fill="#999999" fill-opacity="0.4"/>
<polyline points="387.7,301.7 390.69,301.7 393.67,301.7 396.65,301.7 399.64,301.7 402.62,301.68 405.61,301.64 408.59,301.56 411.58,301.47 414.56,301.33 417.55,301.17 420.53,300.98 423.52,300.76 426.5,300.52 429.49,300.23 432.48,299.93 435.46,299.58 438.44,299.21 441.43,298.81 444.42,298.38 447.4,297.92 450.38,297.42 453.37,296.91 456.36,296.35 459.34,295.78 462.33,295.16 465.31,294.53 468.3,293.86 471.28,293.15 474.26,292.43 477.25,291.66 480.24,290.88 483.22,290.05 486.21,289.21 489.19,288.32 492.18,287.42 495.16,286.48 498.14,285.51 501.13,284.51 504.12,283.48 507.1,282.43" fill="none" stroke="#f31a20" stroke-width="2.4"/>
</g>
<rect x="381.8" y="207" width="131.6" height="101.5" fill="none" stroke="#3a3a3a" stroke-width="1.3"/>
<line x1="378.5" y1="302.8" x2="381.8" y2="302.8" stroke="#333333" stroke-width="1.3"/>
<text transform="translate(375.7,306.45) scale(1,1.06)" text-anchor="end" fill="#4d4d4d" font-size="10.1">0</text>
<line x1="378.5" y1="277.13" x2="381.8" y2="277.13" stroke="#333333" stroke-width="1.3"/>
<text transform="translate(375.7,280.78) scale(1,1.06)" text-anchor="end" fill="#4d4d4d" font-size="10.1">30</text>
<line x1="378.5" y1="251.47" x2="381.8" y2="251.47" stroke="#333333" stroke-width="1.3"/>
<text transform="translate(375.7,255.12) scale(1,1.06)" text-anchor="end" fill="#4d4d4d" font-size="10.1">60</text>
<line x1="378.5" y1="225.8" x2="381.8" y2="225.8" stroke="#333333" stroke-width="1.3"/>
<text transform="translate(375.7,229.45) scale(1,1.06)" text-anchor="end" fill="#4d4d4d" font-size="10.1">90</text>
<line x1="387.78" y1="308.5" x2="387.78" y2="311.8" stroke="#333333" stroke-width="1.3"/>
<text transform="translate(387.78,321.95) scale(1,1.06)" text-anchor="middle" fill="#4d4d4d" font-size="10.1">0.00</text>
<line x1="417.69" y1="308.5" x2="417.69" y2="311.8" stroke="#333333" stroke-width="1.3"/>
<text transform="translate(417.69,321.95) scale(1,1.06)" text-anchor="middle" fill="#4d4d4d" font-size="10.1">0.25</text>
<line x1="447.6" y1="308.5" x2="447.6" y2="311.8" stroke="#333333" stroke-width="1.3"/>
<text transform="translate(447.6,321.95) scale(1,1.06)" text-anchor="middle" fill="#4d4d4d" font-size="10.1">0.50</text>
<line x1="477.51" y1="308.5" x2="477.51" y2="311.8" stroke="#333333" stroke-width="1.3"/>
<text transform="translate(477.51,321.95) scale(1,1.06)" text-anchor="middle" fill="#4d4d4d" font-size="10.1">0.75</text>
<line x1="507.42" y1="308.5" x2="507.42" y2="311.8" stroke="#333333" stroke-width="1.3"/>
<text transform="translate(507.42,321.95) scale(1,1.06)" text-anchor="middle" fill="#4d4d4d" font-size="10.1">1.00</text>
<text transform="translate(386,218.4) scale(1,1.06)" fill="#000" stroke="#000" stroke-width="0.18" font-size="9.85">p &lt; 0.0001</text>
<rect x="548.7" y="186.5" width="131.3" height="20.5" fill="#fff" stroke="#3a3a3a" stroke-width="1.3"/>
<text transform="translate(614.35,200.45) scale(1,1.06)" text-anchor="middle" fill="#111" stroke="#111" stroke-width="0.22" font-size="10.5" font-style="italic">CCR2</text>
<clipPath id="c548_207"><rect x="548.7" y="207" width="131.3" height="101.5"/></clipPath>
<g clip-path="url(#c548_207)">
<g fill="#000">
<circle cx="591.88" cy="211.7" r="2.7"/>
<circle cx="591.88" cy="243.39" r="2.7"/>
<circle cx="604.38" cy="255.89" r="2.7"/>
<circle cx="584.29" cy="262.29" r="2.7"/>
<circle cx="599.32" cy="261.99" r="2.7"/>
<circle cx="569.4" cy="270.03" r="2.7"/>
<circle cx="554.67" cy="277.47" r="2.7"/>
<circle cx="584.29" cy="273.45" r="2.7"/>
<circle cx="591.88" cy="269.73" r="2.7"/>
<circle cx="591.88" cy="272.71" r="2.7"/>
<circle cx="577.29" cy="276.88" r="2.7"/>
<circle cx="604.38" cy="303.96" r="2.7"/>
<circle cx="569.4" cy="304.4" r="2.7"/>
<circle cx="594.4" cy="299.05" r="2.7"/>
<circle cx="554.59" cy="283.87" r="2.7"/>
<circle cx="554.94" cy="287.74" r="2.7"/>
<circle cx="554.39" cy="291.61" r="2.7"/>
<circle cx="554.78" cy="295.48" r="2.7"/>
<circle cx="554.81" cy="299.35" r="2.7"/>
<circle cx="554.38" cy="303.21" r="2.7"/>
<circle cx="561.95" cy="277.92" r="2.7"/>
<circle cx="561.56" cy="281.53" r="2.7"/>
<circle cx="561.53" cy="285.14" r="2.7"/>
<circle cx="561.96" cy="288.76" r="2.7"/>
<circle cx="561.41" cy="292.37" r="2.7"/>
<circle cx="561.71" cy="295.99" r="2.7"/>
<circle cx="561.86" cy="299.6" r="2.7"/>
<circle cx="561.37" cy="303.21" r="2.7"/>
<circle cx="564.78" cy="285.36" r="2.7"/>
<circle cx="564.35" cy="288.93" r="2.7"/>
<circle cx="564.89" cy="292.5" r="2.7"/>
<circle cx="564.6" cy="296.07" r="2.7"/>
<circle cx="564.45" cy="299.64" r="2.7"/>
<circle cx="564.94" cy="303.21" r="2.7"/>
<circle cx="567.38" cy="285.36" r="2.7"/>
<circle cx="567.65" cy="289.08" r="2.7"/>
<circle cx="567.82" cy="292.8" r="2.7"/>
<circle cx="567.32" cy="296.52" r="2.7"/>
<circle cx="567.82" cy="300.24" r="2.7"/>
<circle cx="571.46" cy="288.33" r="2.7"/>
<circle cx="571.06" cy="292.3" r="2.7"/>
<circle cx="571.6" cy="296.27" r="2.7"/>
<circle cx="571.28" cy="300.24" r="2.7"/>
<circle cx="575.35" cy="280.89" r="2.7"/>
<circle cx="574.9" cy="284.61" r="2.7"/>
<circle cx="574.97" cy="288.33" r="2.7"/>
<circle cx="575.33" cy="292.05" r="2.7"/>
<circle cx="574.78" cy="295.77" r="2.7"/>
<circle cx="575.15" cy="299.49" r="2.7"/>
<circle cx="575.21" cy="303.21" r="2.7"/>
<circle cx="577.1" cy="289.82" r="2.7"/>
<circle cx="577.59" cy="293.17" r="2.7"/>
<circle cx="577.08" cy="296.52" r="2.7"/>
<circle cx="577.27" cy="299.87" r="2.7"/>
<circle cx="577.53" cy="303.21" r="2.7"/>
<circle cx="584.5" cy="282.38" r="2.7"/>
<circle cx="584.3" cy="286.1" r="2.7"/>
<circle cx="584.06" cy="289.82" r="2.7"/>
<circle cx="584.58" cy="293.54" r="2.7"/>
<circle cx="584.12" cy="297.26" r="2.7"/>
<circle cx="584.21" cy="300.98" r="2.7"/>
<circle cx="584.55" cy="304.7" r="2.7"/>
<circle cx="591.6" cy="277.92" r="2.7"/>
<circle cx="592.14" cy="282.01" r="2.7"/>
<circle cx="591.8" cy="286.1" r="2.7"/>
<circle cx="591.71" cy="290.19" r="2.7"/>
<circle cx="592.17" cy="294.29" r="2.7"/>
<circle cx="594.12" cy="279.4" r="2.7"/>
<circle cx="594.53" cy="283.5" r="2.7"/>
<circle cx="594.52" cy="287.59" r="2.7"/>
<circle cx="594.12" cy="291.68" r="2.7"/>
<circle cx="594.67" cy="295.77" r="2.7"/>
<circle cx="597.26" cy="274.94" r="2.7"/>
<circle cx="597.67" cy="278.66" r="2.7"/>
<circle cx="597.12" cy="282.38" r="2.7"/>
<circle cx="597.44" cy="286.1" r="2.7"/>
<circle cx="597.56" cy="289.82" r="2.7"/>
<circle cx="597.08" cy="293.54" r="2.7"/>
<circle cx="597.6" cy="297.26" r="2.7"/>
<circle cx="599.52" cy="271.96" r="2.7"/>
<circle cx="599.02" cy="275.68" r="2.7"/>
<circle cx="599.51" cy="279.4" r="2.7"/>
<circle cx="599.36" cy="283.12" r="2.7"/>
<circle cx="599.07" cy="286.85" r="2.7"/>
<circle cx="599.61" cy="290.57" r="2.7"/>
<circle cx="599.18" cy="294.29" r="2.7"/>
<circle cx="602.14" cy="279.4" r="2.7"/>
<circle cx="601.61" cy="283.57" r="2.7"/>
<circle cx="601.86" cy="287.74" r="2.7"/>
<circle cx="602.06" cy="291.9" r="2.7"/>
<circle cx="601.55" cy="296.07" r="2.7"/>
<circle cx="602.03" cy="300.24" r="2.7"/>
<circle cx="605.68" cy="279.4" r="2.7"/>
<circle cx="605.7" cy="282.98" r="2.7"/>
<circle cx="605.28" cy="286.55" r="2.7"/>
<circle cx="605.82" cy="290.12" r="2.7"/>
<circle cx="605.52" cy="293.69" r="2.7"/>
<circle cx="605.37" cy="297.26" r="2.7"/>
<circle cx="607.32" cy="279.4" r="2.7"/>
<circle cx="606.98" cy="283.12" r="2.7"/>
<circle cx="606.89" cy="286.85" r="2.7"/>
<circle cx="607.35" cy="290.57" r="2.7"/>
<circle cx="606.82" cy="294.29" r="2.7"/>
<circle cx="607.06" cy="298.01" r="2.7"/>
<circle cx="607.27" cy="301.73" r="2.7"/>
<circle cx="659" cy="231.5" r="2.7"/>
<circle cx="644.12" cy="236.5" r="2.7"/>
<circle cx="644.12" cy="242.5" r="2.7"/>
<circle cx="644.12" cy="245" r="2.7"/>
<circle cx="654.12" cy="246.25" r="2.7"/>
<circle cx="664" cy="254" r="2.7"/>
<circle cx="614" cy="260" r="2.7"/>
<circle cx="636.88" cy="256.88" r="2.7"/>
<circle cx="634.38" cy="261.25" r="2.7"/>
<circle cx="644.12" cy="258.75" r="2.7"/>
<circle cx="644.12" cy="261.25" r="2.7"/>
<circle cx="664" cy="270" r="2.7"/>
<circle cx="664" cy="303.12" r="2.7"/>
<circle cx="614.04" cy="267.5" r="2.7"/>
<circle cx="614.19" cy="271.25" r="2.7"/>
<circle cx="613.7" cy="275" r="2.7"/>
<circle cx="614.2" cy="278.75" r="2.7"/>
<circle cx="614.03" cy="282.5" r="2.7"/>
<circle cx="613.76" cy="286.25" r="2.7"/>
<circle cx="614.29" cy="290" r="2.7"/>
<circle cx="613.85" cy="293.75" r="2.7"/>
<circle cx="613.91" cy="297.5" r="2.7"/>
<circle cx="614.27" cy="301.25" r="2.7"/>
<circle cx="621.28" cy="269.38" r="2.7"/>
<circle cx="621.01" cy="273.2" r="2.7"/>
<circle cx="621.54" cy="277.03" r="2.7"/>
<circle cx="621.1" cy="280.86" r="2.7"/>
<circle cx="621.15" cy="284.69" r="2.7"/>
<circle cx="621.53" cy="288.52" r="2.7"/>
<circle cx="620.98" cy="292.34" r="2.7"/>
<circle cx="621.33" cy="296.17" r="2.7"/>
<circle cx="621.41" cy="300" r="2.7"/>
<circle cx="629.01" cy="275.62" r="2.7"/>
<circle cx="628.69" cy="279.46" r="2.7"/>
<circle cx="628.57" cy="283.3" r="2.7"/>
<circle cx="629.05" cy="287.14" r="2.7"/>
<circle cx="628.53" cy="290.98" r="2.7"/>
<circle cx="628.75" cy="294.82" r="2.7"/>
<circle cx="628.98" cy="298.66" r="2.7"/>
<circle cx="628.45" cy="302.5" r="2.7"/>
<circle cx="634.65" cy="267.5" r="2.7"/>
<circle cx="634.29" cy="271.12" r="2.7"/>
<circle cx="634.22" cy="274.75" r="2.7"/>
<circle cx="634.67" cy="278.38" r="2.7"/>
<circle cx="634.14" cy="282" r="2.7"/>
<circle cx="634.4" cy="285.62" r="2.7"/>
<circle cx="634.58" cy="289.25" r="2.7"/>
<circle cx="634.08" cy="292.88" r="2.7"/>
<circle cx="634.57" cy="296.5" r="2.7"/>
<circle cx="634.42" cy="300.12" r="2.7"/>
<circle cx="634.12" cy="303.75" r="2.7"/>
<circle cx="637.04" cy="272.5" r="2.7"/>
<circle cx="636.58" cy="276.43" r="2.7"/>
<circle cx="637.11" cy="280.36" r="2.7"/>
<circle cx="636.86" cy="284.29" r="2.7"/>
<circle cx="636.66" cy="288.21" r="2.7"/>
<circle cx="637.17" cy="292.14" r="2.7"/>
<circle cx="636.69" cy="296.07" r="2.7"/>
<circle cx="636.82" cy="300" r="2.7"/>
<circle cx="643.91" cy="273.12" r="2.7"/>
<circle cx="644.42" cy="276.79" r="2.7"/>
<circle cx="643.94" cy="280.45" r="2.7"/>
<circle cx="644.07" cy="284.11" r="2.7"/>
<circle cx="644.38" cy="287.77" r="2.7"/>
<circle cx="643.84" cy="291.43" r="2.7"/>
<circle cx="644.25" cy="295.09" r="2.7"/>
<circle cx="644.25" cy="298.75" r="2.7"/>
<circle cx="653.83" cy="261.25" r="2.7"/>
<circle cx="654.37" cy="264.91" r="2.7"/>
<circle cx="654.1" cy="268.57" r="2.7"/>
<circle cx="653.92" cy="272.23" r="2.7"/>
<circle cx="654.42" cy="275.89" r="2.7"/>
<circle cx="653.93" cy="279.55" r="2.7"/>
<circle cx="654.09" cy="283.21" r="2.7"/>
<circle cx="654.37" cy="286.88" r="2.7"/>
<circle cx="658.58" cy="282.5" r="2.7"/>
<circle cx="659.05" cy="285.83" r="2.7"/>
<circle cx="658.52" cy="289.17" r="2.7"/>
<circle cx="658.76" cy="292.5" r="2.7"/>
<circle cx="662.8" cy="285" r="2.7"/>
<circle cx="662.3" cy="288.75" r="2.7"/>
<circle cx="662.46" cy="292.5" r="2.7"/>
<circle cx="666.09" cy="285" r="2.7"/>
<circle cx="666.17" cy="288.33" r="2.7"/>
<circle cx="666.52" cy="291.67" r="2.7"/>
<circle cx="665.97" cy="295" r="2.7"/>
<circle cx="674.05" cy="266.25" r="2.7"/>
<circle cx="673.52" cy="269.82" r="2.7"/>
<circle cx="673.76" cy="273.39" r="2.7"/>
<circle cx="673.97" cy="276.96" r="2.7"/>
<circle cx="673.45" cy="280.54" r="2.7"/>
<circle cx="673.93" cy="284.11" r="2.7"/>
<circle cx="673.8" cy="287.68" r="2.7"/>
<circle cx="673.49" cy="291.25" r="2.7"/>
</g>
<polygon points="554.7,290.46 557.67,290.19 560.64,289.93 563.61,289.66 566.58,289.39 569.55,289.11 572.52,288.83 575.49,288.55 578.46,288.27 581.43,287.98 584.4,287.68 587.37,287.38 590.34,287.08 593.31,286.76 596.28,286.44 599.25,286.1 602.22,285.76 605.19,285.4 608.16,285.03 611.13,284.64 614.1,284.23 617.07,283.79 620.04,283.33 623.01,282.85 625.98,282.35 628.95,281.85 631.92,281.33 634.89,280.81 637.86,280.28 640.83,279.75 643.8,279.21 646.77,278.67 649.74,278.12 652.71,277.57 655.68,277.02 658.65,276.47 661.62,275.92 664.59,275.37 667.56,274.81 670.53,274.26 673.5,273.7 673.5,282.5 670.53,282.69 667.56,282.89 664.59,283.08 661.62,283.28 658.65,283.48 655.68,283.68 652.71,283.88 649.74,284.08 646.77,284.28 643.8,284.49 640.83,284.7 637.86,284.92 634.89,285.14 631.92,285.37 628.95,285.6 625.98,285.85 623.01,286.1 620.04,286.37 617.07,286.66 614.1,286.97 611.13,287.31 608.16,287.67 605.19,288.05 602.22,288.44 599.25,288.85 596.28,289.26 593.31,289.69 590.34,290.12 587.37,290.57 584.4,291.02 581.43,291.47 578.46,291.93 575.49,292.4 572.52,292.87 569.55,293.34 566.58,293.81 563.61,294.29 560.64,294.77 557.67,295.26 554.7,295.74" fill="#999999" fill-opacity="0.4"/>
<polyline points="554.7,293.1 557.67,292.73 560.64,292.35 563.61,291.98 566.58,291.6 569.55,291.23 572.52,290.85 575.49,290.48 578.46,290.1 581.43,289.73 584.4,289.35 587.37,288.98 590.34,288.6 593.31,288.23 596.28,287.85 599.25,287.48 602.22,287.1 605.19,286.73 608.16,286.35 611.13,285.98 614.1,285.6 617.07,285.23 620.04,284.85 623.01,284.48 625.98,284.1 628.95,283.73 631.92,283.35 634.89,282.98 637.86,282.6 640.83,282.23 643.8,281.85 646.77,281.48 649.74,281.1 652.71,280.73 655.68,280.35 658.65,279.98 661.62,279.6 664.59,279.23 667.56,278.85 670.53,278.48 673.5,278.1" fill="none" stroke="#f31a20" stroke-width="2.4"/>
</g>
<rect x="548.7" y="207" width="131.3" height="101.5" fill="none" stroke="#3a3a3a" stroke-width="1.3"/>
<line x1="545.4" y1="304.4" x2="548.7" y2="304.4" stroke="#333333" stroke-width="1.3"/>
<text transform="translate(542.6,308.05) scale(1,1.06)" text-anchor="end" fill="#4d4d4d" font-size="10.1">0</text>
<line x1="545.4" y1="282.52" x2="548.7" y2="282.52" stroke="#333333" stroke-width="1.3"/>
<text transform="translate(542.6,286.17) scale(1,1.06)" text-anchor="end" fill="#4d4d4d" font-size="10.1">10</text>
<line x1="545.4" y1="260.65" x2="548.7" y2="260.65" stroke="#333333" stroke-width="1.3"/>
<text transform="translate(542.6,264.3) scale(1,1.06)" text-anchor="end" fill="#4d4d4d" font-size="10.1">20</text>
<line x1="545.4" y1="238.78" x2="548.7" y2="238.78" stroke="#333333" stroke-width="1.3"/>
<text transform="translate(542.6,242.43) scale(1,1.06)" text-anchor="end" fill="#4d4d4d" font-size="10.1">30</text>
<line x1="545.4" y1="216.9" x2="548.7" y2="216.9" stroke="#333333" stroke-width="1.3"/>
<text transform="translate(542.6,220.55) scale(1,1.06)" text-anchor="end" fill="#4d4d4d" font-size="10.1">40</text>
<line x1="554.67" y1="308.5" x2="554.67" y2="311.8" stroke="#333333" stroke-width="1.3"/>
<text transform="translate(554.67,321.95) scale(1,1.06)" text-anchor="middle" fill="#4d4d4d" font-size="10.1">0.00</text>
<line x1="584.51" y1="308.5" x2="584.51" y2="311.8" stroke="#333333" stroke-width="1.3"/>
<text transform="translate(584.51,321.95) scale(1,1.06)" text-anchor="middle" fill="#4d4d4d" font-size="10.1">0.25</text>
<line x1="614.35" y1="308.5" x2="614.35" y2="311.8" stroke="#333333" stroke-width="1.3"/>
<text transform="translate(614.35,321.95) scale(1,1.06)" text-anchor="middle" fill="#4d4d4d" font-size="10.1">0.50</text>
<line x1="644.19" y1="308.5" x2="644.19" y2="311.8" stroke="#333333" stroke-width="1.3"/>
<text transform="translate(644.19,321.95) scale(1,1.06)" text-anchor="middle" fill="#4d4d4d" font-size="10.1">0.75</text>
<line x1="674.03" y1="308.5" x2="674.03" y2="311.8" stroke="#333333" stroke-width="1.3"/>
<text transform="translate(674.03,321.95) scale(1,1.06)" text-anchor="middle" fill="#4d4d4d" font-size="10.1">1.00</text>
<text transform="translate(677,218.4) scale(1,1.06)" text-anchor="end" fill="#000" stroke="#000" stroke-width="0.18" font-size="9.85">p &lt; 0.0001</text>
<rect x="59.85" y="351.5" width="131.25" height="20.5" fill="#fff" stroke="#3a3a3a" stroke-width="1.3"/>
<text transform="translate(125.47,365.45) scale(1,1.06)" text-anchor="middle" fill="#111" stroke="#111" stroke-width="0.22" font-size="10.5" font-style="italic">IFNG</text>
<clipPath id="c59_372"><rect x="59.85" y="372" width="131.25" height="101.9"/></clipPath>
<g clip-path="url(#c59_372)">
<g fill="#000">
<circle cx="110.36" cy="403.04" r="2.7"/>
<circle cx="110.36" cy="404.97" r="2.7"/>
<circle cx="110.36" cy="413.45" r="2.7"/>
<circle cx="73.15" cy="431.76" r="2.7"/>
<circle cx="88.04" cy="436.52" r="2.7"/>
<circle cx="95.48" cy="432.5" r="2.7"/>
<circle cx="95.48" cy="434.73" r="2.7"/>
<circle cx="102.92" cy="431.01" r="2.7"/>
<circle cx="65.71" cy="439.2" r="2.7"/>
<circle cx="65.71" cy="445.15" r="2.7"/>
<circle cx="102.92" cy="444.4" r="2.7"/>
<circle cx="102.92" cy="449.61" r="2.7"/>
<circle cx="95.48" cy="447.38" r="2.7"/>
<circle cx="95.48" cy="451.1" r="2.7"/>
<circle cx="73.15" cy="451.1" r="2.7"/>
<circle cx="76.13" cy="455.57" r="2.7"/>
<circle cx="88.04" cy="453.63" r="2.7"/>
<circle cx="65.71" cy="455.57" r="2.7"/>
<circle cx="65.71" cy="457.8" r="2.7"/>
<circle cx="65.42" cy="463.75" r="2.7"/>
<circle cx="65.9" cy="468.96" r="2.7"/>
<circle cx="73.43" cy="460.03" r="2.7"/>
<circle cx="72.89" cy="464.49" r="2.7"/>
<circle cx="73.23" cy="468.96" r="2.7"/>
<circle cx="76.06" cy="463.75" r="2.7"/>
<circle cx="75.96" cy="468.96" r="2.7"/>
<circle cx="80.39" cy="459.29" r="2.7"/>
<circle cx="80.9" cy="462.51" r="2.7"/>
<circle cx="80.4" cy="465.73" r="2.7"/>
<circle cx="80.55" cy="468.96" r="2.7"/>
<circle cx="85.35" cy="459.29" r="2.7"/>
<circle cx="84.9" cy="462.51" r="2.7"/>
<circle cx="84.97" cy="465.73" r="2.7"/>
<circle cx="85.33" cy="468.96" r="2.7"/>
<circle cx="88.13" cy="462.26" r="2.7"/>
<circle cx="87.76" cy="465.61" r="2.7"/>
<circle cx="88.31" cy="468.96" r="2.7"/>
<circle cx="95.51" cy="463.75" r="2.7"/>
<circle cx="95.67" cy="468.96" r="2.7"/>
<circle cx="104.12" cy="454.82" r="2.7"/>
<circle cx="104.53" cy="458.36" r="2.7"/>
<circle cx="104.52" cy="461.89" r="2.7"/>
<circle cx="104.12" cy="465.42" r="2.7"/>
<circle cx="104.67" cy="468.96" r="2.7"/>
<circle cx="107.26" cy="454.82" r="2.7"/>
<circle cx="107.67" cy="458.36" r="2.7"/>
<circle cx="107.12" cy="461.89" r="2.7"/>
<circle cx="107.44" cy="465.42" r="2.7"/>
<circle cx="107.56" cy="468.96" r="2.7"/>
<circle cx="110.61" cy="444.4" r="2.7"/>
<circle cx="110.31" cy="448.5" r="2.7"/>
<circle cx="110.17" cy="452.59" r="2.7"/>
<circle cx="110.66" cy="456.68" r="2.7"/>
<circle cx="110.15" cy="460.77" r="2.7"/>
<circle cx="110.34" cy="464.87" r="2.7"/>
<circle cx="110.59" cy="468.96" r="2.7"/>
<circle cx="113.53" cy="444.4" r="2.7"/>
<circle cx="113.03" cy="448.5" r="2.7"/>
<circle cx="113.54" cy="452.59" r="2.7"/>
<circle cx="113.36" cy="456.68" r="2.7"/>
<circle cx="113.09" cy="460.77" r="2.7"/>
<circle cx="113.63" cy="464.87" r="2.7"/>
<circle cx="113.18" cy="468.96" r="2.7"/>
<circle cx="116.11" cy="447.38" r="2.7"/>
<circle cx="116.28" cy="450.98" r="2.7"/>
<circle cx="116.55" cy="454.57" r="2.7"/>
<circle cx="116.02" cy="458.17" r="2.7"/>
<circle cx="116.46" cy="461.77" r="2.7"/>
<circle cx="116.41" cy="465.36" r="2.7"/>
<circle cx="116.03" cy="468.96" r="2.7"/>
<circle cx="119.04" cy="448.87" r="2.7"/>
<circle cx="119.58" cy="452.89" r="2.7"/>
<circle cx="119.15" cy="456.9" r="2.7"/>
<circle cx="119.18" cy="460.92" r="2.7"/>
<circle cx="119.57" cy="464.94" r="2.7"/>
<circle cx="119.02" cy="468.96" r="2.7"/>
<circle cx="133" cy="376.5" r="2.7"/>
<circle cx="165.12" cy="408.12" r="2.7"/>
<circle cx="185.12" cy="405.38" r="2.7"/>
<circle cx="125.5" cy="428.12" r="2.7"/>
<circle cx="140.5" cy="423.12" r="2.7"/>
<circle cx="175.38" cy="421.25" r="2.7"/>
<circle cx="175.38" cy="426.25" r="2.7"/>
<circle cx="133" cy="437.25" r="2.7"/>
<circle cx="140.5" cy="437.25" r="2.7"/>
<circle cx="148" cy="434.38" r="2.7"/>
<circle cx="145.12" cy="442.5" r="2.7"/>
<circle cx="155.12" cy="435.62" r="2.7"/>
<circle cx="155.12" cy="439.38" r="2.7"/>
<circle cx="165.12" cy="431.88" r="2.7"/>
<circle cx="165.12" cy="438.12" r="2.7"/>
<circle cx="170.12" cy="434" r="2.7"/>
<circle cx="175.38" cy="441.88" r="2.7"/>
<circle cx="133" cy="448.12" r="2.7"/>
<circle cx="133" cy="452.5" r="2.7"/>
<circle cx="125.7" cy="445" r="2.7"/>
<circle cx="125.53" cy="448.57" r="2.7"/>
<circle cx="125.26" cy="452.14" r="2.7"/>
<circle cx="125.79" cy="455.71" r="2.7"/>
<circle cx="125.35" cy="459.29" r="2.7"/>
<circle cx="125.41" cy="462.86" r="2.7"/>
<circle cx="125.77" cy="466.43" r="2.7"/>
<circle cx="125.23" cy="470" r="2.7"/>
<circle cx="132.72" cy="457.5" r="2.7"/>
<circle cx="133.26" cy="461.67" r="2.7"/>
<circle cx="132.93" cy="465.83" r="2.7"/>
<circle cx="132.83" cy="470" r="2.7"/>
<circle cx="138.28" cy="455" r="2.7"/>
<circle cx="138.01" cy="458.75" r="2.7"/>
<circle cx="138.54" cy="462.5" r="2.7"/>
<circle cx="138.1" cy="466.25" r="2.7"/>
<circle cx="138.15" cy="470" r="2.7"/>
<circle cx="141.73" cy="456.25" r="2.7"/>
<circle cx="142.28" cy="459.69" r="2.7"/>
<circle cx="141.89" cy="463.12" r="2.7"/>
<circle cx="141.86" cy="466.56" r="2.7"/>
<circle cx="142.29" cy="470" r="2.7"/>
<circle cx="148.27" cy="448.75" r="2.7"/>
<circle cx="147.93" cy="452.29" r="2.7"/>
<circle cx="147.83" cy="455.83" r="2.7"/>
<circle cx="148.3" cy="459.38" r="2.7"/>
<circle cx="147.77" cy="462.92" r="2.7"/>
<circle cx="148.01" cy="466.46" r="2.7"/>
<circle cx="148.22" cy="470" r="2.7"/>
<circle cx="155.08" cy="448.75" r="2.7"/>
<circle cx="154.93" cy="452.29" r="2.7"/>
<circle cx="155.42" cy="455.83" r="2.7"/>
<circle cx="154.92" cy="459.38" r="2.7"/>
<circle cx="155.1" cy="462.92" r="2.7"/>
<circle cx="155.36" cy="466.46" r="2.7"/>
<circle cx="154.83" cy="470" r="2.7"/>
<circle cx="165.24" cy="450" r="2.7"/>
<circle cx="164.84" cy="453.5" r="2.7"/>
<circle cx="165.39" cy="457" r="2.7"/>
<circle cx="165.06" cy="460.5" r="2.7"/>
<circle cx="164.95" cy="464" r="2.7"/>
<circle cx="165.42" cy="467.5" r="2.7"/>
<circle cx="169.94" cy="457.5" r="2.7"/>
<circle cx="170.42" cy="460.83" r="2.7"/>
<circle cx="169.91" cy="464.17" r="2.7"/>
<circle cx="170.11" cy="467.5" r="2.7"/>
<circle cx="175.24" cy="448.75" r="2.7"/>
<circle cx="175.26" cy="452.75" r="2.7"/>
<circle cx="175.66" cy="456.75" r="2.7"/>
<circle cx="175.11" cy="460.75" r="2.7"/>
<circle cx="175.44" cy="464.75" r="2.7"/>
<circle cx="175.55" cy="468.75" r="2.7"/>
<circle cx="177.49" cy="457.5" r="2.7"/>
<circle cx="177.52" cy="460.83" r="2.7"/>
<circle cx="177.9" cy="464.17" r="2.7"/>
<circle cx="177.36" cy="467.5" r="2.7"/>
<circle cx="185.42" cy="452.5" r="2.7"/>
<circle cx="184.91" cy="455.94" r="2.7"/>
<circle cx="185.11" cy="459.38" r="2.7"/>
<circle cx="185.36" cy="462.81" r="2.7"/>
<circle cx="184.83" cy="466.25" r="2.7"/>
</g>
<polygon points="65.7,462.56 68.67,462.13 71.64,461.7 74.61,461.26 77.58,460.83 80.55,460.41 83.52,460.11 86.49,459.8 89.46,459.49 92.43,459.17 95.4,458.85 98.37,458.53 101.34,458.21 104.31,457.88 107.28,457.54 110.25,457.2 113.22,456.94 116.19,456.66 119.16,456.38 122.13,456.07 125.1,455.74 128.07,455.46 131.04,455.16 134.01,454.85 136.98,454.52 139.95,454.18 142.92,453.83 145.89,453.48 148.86,453.11 151.83,452.74 154.8,452.37 157.77,452.05 160.74,451.73 163.71,451.41 166.68,451.08 169.65,450.75 172.62,450.42 175.59,450.1 178.56,449.76 181.53,449.43 184.5,449.1 184.5,457.9 181.53,457.87 178.56,457.84 175.59,457.81 172.62,457.78 169.65,457.76 166.68,457.73 163.71,457.71 160.74,457.69 157.77,457.67 154.8,457.66 151.83,457.7 148.86,457.75 145.89,457.81 142.92,457.87 139.95,457.94 136.98,458.02 134.01,458.11 131.04,458.21 128.07,458.34 125.1,458.48 122.13,458.74 119.16,459.02 116.19,459.32 113.22,459.63 110.25,459.95 107.28,460.37 104.31,460.81 101.34,461.26 98.37,461.72 95.4,462.18 92.43,462.66 89.46,463.15 86.49,463.64 83.52,464.14 80.55,464.64 77.58,465.25 74.61,465.9 71.64,466.54 68.67,467.19 65.7,467.84" fill="#999999" fill-opacity="0.4"/>
<polyline points="65.7,465.2 68.67,464.66 71.64,464.12 74.61,463.58 77.58,463.04 80.55,462.53 83.52,462.12 86.49,461.72 89.46,461.32 92.43,460.92 95.4,460.51 98.37,460.12 101.34,459.73 104.31,459.35 107.28,458.96 110.25,458.58 113.22,458.28 116.19,457.99 119.16,457.7 122.13,457.4 125.1,457.11 128.07,456.9 131.04,456.69 134.01,456.48 136.98,456.27 139.95,456.06 142.92,455.85 145.89,455.64 148.86,455.43 151.83,455.22 154.8,455.01 157.77,454.86 160.74,454.71 163.71,454.56 166.68,454.41 169.65,454.26 172.62,454.1 175.59,453.95 178.56,453.8 181.53,453.65 184.5,453.5" fill="none" stroke="#f31a20" stroke-width="2.4"/>
</g>
<rect x="59.85" y="372" width="131.25" height="101.9" fill="none" stroke="#3a3a3a" stroke-width="1.3"/>
<line x1="56.55" y1="468.7" x2="59.85" y2="468.7" stroke="#333333" stroke-width="1.3"/>
<text transform="translate(53.75,472.35) scale(1,1.06)" text-anchor="end" fill="#4d4d4d" font-size="10.1">0</text>
<line x1="56.55" y1="445.52" x2="59.85" y2="445.52" stroke="#333333" stroke-width="1.3"/>
<text transform="translate(53.75,449.17) scale(1,1.06)" text-anchor="end" fill="#4d4d4d" font-size="10.1">5</text>
<line x1="56.55" y1="422.35" x2="59.85" y2="422.35" stroke="#333333" stroke-width="1.3"/>
<text transform="translate(53.75,426) scale(1,1.06)" text-anchor="end" fill="#4d4d4d" font-size="10.1">10</text>
<line x1="56.55" y1="399.18" x2="59.85" y2="399.18" stroke="#333333" stroke-width="1.3"/>
<text transform="translate(53.75,402.82) scale(1,1.06)" text-anchor="end" fill="#4d4d4d" font-size="10.1">15</text>
<line x1="56.55" y1="376" x2="59.85" y2="376" stroke="#333333" stroke-width="1.3"/>
<text transform="translate(53.75,379.65) scale(1,1.06)" text-anchor="end" fill="#4d4d4d" font-size="10.1">20</text>
<line x1="65.82" y1="473.9" x2="65.82" y2="477.2" stroke="#333333" stroke-width="1.3"/>
<text transform="translate(65.82,487.35) scale(1,1.06)" text-anchor="middle" fill="#4d4d4d" font-size="10.1">0.00</text>
<line x1="95.65" y1="473.9" x2="95.65" y2="477.2" stroke="#333333" stroke-width="1.3"/>
<text transform="translate(95.65,487.35) scale(1,1.06)" text-anchor="middle" fill="#4d4d4d" font-size="10.1">0.25</text>
<line x1="125.47" y1="473.9" x2="125.47" y2="477.2" stroke="#333333" stroke-width="1.3"/>
<text transform="translate(125.47,487.35) scale(1,1.06)" text-anchor="middle" fill="#4d4d4d" font-size="10.1">0.50</text>
<line x1="155.3" y1="473.9" x2="155.3" y2="477.2" stroke="#333333" stroke-width="1.3"/>
<text transform="translate(155.3,487.35) scale(1,1.06)" text-anchor="middle" fill="#4d4d4d" font-size="10.1">0.75</text>
<line x1="185.13" y1="473.9" x2="185.13" y2="477.2" stroke="#333333" stroke-width="1.3"/>
<text transform="translate(185.13,487.35) scale(1,1.06)" text-anchor="middle" fill="#4d4d4d" font-size="10.1">1.00</text>
<text transform="translate(187.75,383.4) scale(1,1.06)" text-anchor="end" fill="#000" stroke="#000" stroke-width="0.18" font-size="9.85">p &lt; 0.0001</text>
<rect x="220.75" y="351.5" width="131.45" height="20.5" fill="#fff" stroke="#3a3a3a" stroke-width="1.3"/>
<text transform="translate(286.48,365.45) scale(1,1.06)" text-anchor="middle" fill="#111" stroke="#111" stroke-width="0.22" font-size="10.5" font-style="italic">IL12RB1</text>
<clipPath id="c220_372"><rect x="220.75" y="372" width="131.45" height="101.9"/></clipPath>
<g clip-path="url(#c220_372)">
<g fill="#000">
<circle cx="271.34" cy="376.25" r="2.7"/>
<circle cx="271.34" cy="381.61" r="2.7"/>
<circle cx="263.9" cy="390.83" r="2.7"/>
<circle cx="263.9" cy="410.18" r="2.7"/>
<circle cx="226.7" cy="412.71" r="2.7"/>
<circle cx="246.34" cy="413.45" r="2.7"/>
<circle cx="256.31" cy="414.35" r="2.7"/>
<circle cx="279.08" cy="418.36" r="2.7"/>
<circle cx="234.14" cy="429.97" r="2.7"/>
<circle cx="234.14" cy="435.48" r="2.7"/>
<circle cx="246.79" cy="439.94" r="2.7"/>
<circle cx="249.32" cy="443.21" r="2.7"/>
<circle cx="241.88" cy="443.36" r="2.7"/>
<circle cx="234.14" cy="468.96" r="2.7"/>
<circle cx="241.88" cy="468.96" r="2.7"/>
<circle cx="227" cy="436.22" r="2.7"/>
<circle cx="226.49" cy="439.86" r="2.7"/>
<circle cx="226.68" cy="443.5" r="2.7"/>
<circle cx="226.94" cy="447.13" r="2.7"/>
<circle cx="226.41" cy="450.77" r="2.7"/>
<circle cx="226.86" cy="454.41" r="2.7"/>
<circle cx="226.79" cy="458.05" r="2.7"/>
<circle cx="226.43" cy="461.68" r="2.7"/>
<circle cx="226.98" cy="465.32" r="2.7"/>
<circle cx="226.61" cy="468.96" r="2.7"/>
<circle cx="232.86" cy="447.38" r="2.7"/>
<circle cx="233.22" cy="450.95" r="2.7"/>
<circle cx="232.67" cy="454.52" r="2.7"/>
<circle cx="233.04" cy="458.1" r="2.7"/>
<circle cx="233.1" cy="461.67" r="2.7"/>
<circle cx="232.66" cy="465.24" r="2.7"/>
<circle cx="236.21" cy="446.64" r="2.7"/>
<circle cx="235.68" cy="450.36" r="2.7"/>
<circle cx="235.95" cy="454.08" r="2.7"/>
<circle cx="236.12" cy="457.8" r="2.7"/>
<circle cx="235.62" cy="461.52" r="2.7"/>
<circle cx="236.12" cy="465.24" r="2.7"/>
<circle cx="238.09" cy="450.36" r="2.7"/>
<circle cx="237.97" cy="454.08" r="2.7"/>
<circle cx="238.45" cy="457.8" r="2.7"/>
<circle cx="237.93" cy="461.52" r="2.7"/>
<circle cx="238.14" cy="465.24" r="2.7"/>
<circle cx="241.78" cy="447.38" r="2.7"/>
<circle cx="242.16" cy="451.25" r="2.7"/>
<circle cx="241.61" cy="455.12" r="2.7"/>
<circle cx="241.96" cy="458.99" r="2.7"/>
<circle cx="242.04" cy="462.86" r="2.7"/>
<circle cx="241.58" cy="466.73" r="2.7"/>
<circle cx="245.15" cy="457.8" r="2.7"/>
<circle cx="244.61" cy="461.52" r="2.7"/>
<circle cx="244.87" cy="465.24" r="2.7"/>
<circle cx="246.44" cy="439.94" r="2.7"/>
<circle cx="246.06" cy="443.55" r="2.7"/>
<circle cx="246.61" cy="447.17" r="2.7"/>
<circle cx="246.26" cy="450.78" r="2.7"/>
<circle cx="246.18" cy="454.4" r="2.7"/>
<circle cx="246.64" cy="458.01" r="2.7"/>
<circle cx="246.11" cy="461.63" r="2.7"/>
<circle cx="246.35" cy="465.24" r="2.7"/>
<circle cx="249.02" cy="450.36" r="2.7"/>
<circle cx="249.55" cy="454.45" r="2.7"/>
<circle cx="249.3" cy="458.55" r="2.7"/>
<circle cx="249.11" cy="462.64" r="2.7"/>
<circle cx="249.62" cy="466.73" r="2.7"/>
<circle cx="286.38" cy="389.38" r="2.7"/>
<circle cx="346.12" cy="392.75" r="2.7"/>
<circle cx="326" cy="398.12" r="2.7"/>
<circle cx="338.88" cy="399.62" r="2.7"/>
<circle cx="306.38" cy="410.25" r="2.7"/>
<circle cx="286.38" cy="411.88" r="2.7"/>
<circle cx="293.88" cy="414.38" r="2.7"/>
<circle cx="293.88" cy="416" r="2.7"/>
<circle cx="316.38" cy="413.12" r="2.7"/>
<circle cx="331.12" cy="411.88" r="2.7"/>
<circle cx="330.93" cy="418.75" r="2.7"/>
<circle cx="331.42" cy="418" r="2.7"/>
<circle cx="336.12" cy="418.75" r="2.7"/>
<circle cx="335.71" cy="418" r="2.7"/>
<circle cx="255.84" cy="431.68" r="2.7"/>
<circle cx="255.84" cy="433.87" r="2.7"/>
<circle cx="255.83" cy="447.74" r="2.7"/>
<circle cx="255.62" cy="451.83" r="2.7"/>
<circle cx="256.14" cy="455.92" r="2.7"/>
<circle cx="255.66" cy="460" r="2.7"/>
<circle cx="255.78" cy="464.09" r="2.7"/>
<circle cx="256.1" cy="468.18" r="2.7"/>
<circle cx="266.06" cy="426.57" r="2.7"/>
<circle cx="271.17" cy="429.49" r="2.7"/>
<circle cx="264.6" cy="437.52" r="2.7"/>
<circle cx="267.52" cy="438.98" r="2.7"/>
<circle cx="264.6" cy="443.36" r="2.7"/>
<circle cx="265.33" cy="449.2" r="2.7"/>
<circle cx="266.06" cy="452.85" r="2.7"/>
<circle cx="266.06" cy="462.34" r="2.7"/>
<circle cx="266.06" cy="466.72" r="2.7"/>
<circle cx="271.9" cy="440.44" r="2.7"/>
<circle cx="275.55" cy="434.6" r="2.7"/>
<circle cx="277.01" cy="426.57" r="2.7"/>
<circle cx="279.2" cy="425.84" r="2.7"/>
<circle cx="273.36" cy="444.82" r="2.7"/>
<circle cx="276.28" cy="443.36" r="2.7"/>
<circle cx="275.55" cy="449.2" r="2.7"/>
<circle cx="275.55" cy="455.04" r="2.7"/>
<circle cx="273.36" cy="457.96" r="2.7"/>
<circle cx="276.28" cy="460.88" r="2.7"/>
<circle cx="275.55" cy="463.8" r="2.7"/>
<circle cx="277.01" cy="466.72" r="2.7"/>
<circle cx="279.2" cy="468.18" r="2.7"/>
<circle cx="271.9" cy="456.5" r="2.7"/>
<circle cx="279.2" cy="438.98" r="2.7"/>
<circle cx="279.2" cy="449.2" r="2.7"/>
<circle cx="285.77" cy="433.14" r="2.7"/>
<circle cx="285.77" cy="440.44" r="2.7"/>
<circle cx="285.77" cy="446.28" r="2.7"/>
<circle cx="285.77" cy="452.12" r="2.7"/>
<circle cx="285.77" cy="457.96" r="2.7"/>
<circle cx="285.77" cy="463.8" r="2.7"/>
<circle cx="293.8" cy="426.57" r="2.7"/>
<circle cx="293.8" cy="438.98" r="2.7"/>
<circle cx="293.8" cy="452.12" r="2.7"/>
<circle cx="293.8" cy="457.96" r="2.7"/>
<circle cx="293.8" cy="463.8" r="2.7"/>
<circle cx="301.09" cy="434.6" r="2.7"/>
<circle cx="302.55" cy="440.44" r="2.7"/>
<circle cx="301.09" cy="444.82" r="2.7"/>
<circle cx="304.01" cy="449.2" r="2.7"/>
<circle cx="306.93" cy="453.58" r="2.7"/>
<circle cx="302.55" cy="457.96" r="2.7"/>
<circle cx="306.2" cy="462.34" r="2.7"/>
<circle cx="306.93" cy="466.72" r="2.7"/>
<circle cx="306.2" cy="423.65" r="2.7"/>
<circle cx="307.66" cy="428.76" r="2.7"/>
<circle cx="305.47" cy="437.52" r="2.7"/>
<circle cx="308.39" cy="443.36" r="2.7"/>
<circle cx="309.85" cy="449.2" r="2.7"/>
<circle cx="301.09" cy="460.88" r="2.7"/>
<circle cx="316.72" cy="431.68" r="2.7"/>
<circle cx="316.22" cy="435.57" r="2.7"/>
<circle cx="316.39" cy="439.47" r="2.7"/>
<circle cx="316.66" cy="443.36" r="2.7"/>
<circle cx="316.13" cy="447.25" r="2.7"/>
<circle cx="316.57" cy="451.15" r="2.7"/>
<circle cx="316.52" cy="455.04" r="2.7"/>
<circle cx="316.42" cy="465.99" r="2.7"/>
<circle cx="326.19" cy="422.92" r="2.7"/>
<circle cx="325.64" cy="426.81" r="2.7"/>
<circle cx="325.99" cy="430.71" r="2.7"/>
<circle cx="326.08" cy="434.6" r="2.7"/>
<circle cx="325.91" cy="446.28" r="2.7"/>
<circle cx="328.83" cy="449.2" r="2.7"/>
<circle cx="330.29" cy="455.04" r="2.7"/>
<circle cx="331.75" cy="451.39" r="2.7"/>
<circle cx="336.23" cy="443.36" r="2.7"/>
<circle cx="335.85" cy="446.86" r="2.7"/>
<circle cx="336.4" cy="450.37" r="2.7"/>
<circle cx="336.04" cy="453.87" r="2.7"/>
<circle cx="335.97" cy="457.38" r="2.7"/>
<circle cx="336.43" cy="460.88" r="2.7"/>
<circle cx="336.13" cy="467.45" r="2.7"/>
<circle cx="338.32" cy="429.49" r="2.7"/>
<circle cx="345.62" cy="422.92" r="2.7"/>
<circle cx="345.61" cy="441.9" r="2.7"/>
<circle cx="345.4" cy="445.55" r="2.7"/>
<circle cx="345.92" cy="449.2" r="2.7"/>
<circle cx="263.14" cy="436.06" r="2.7"/>
<circle cx="268.98" cy="434.6" r="2.7"/>
<circle cx="268.98" cy="441.9" r="2.7"/>
<circle cx="273.36" cy="437.52" r="2.7"/>
<circle cx="277.74" cy="436.06" r="2.7"/>
<circle cx="279.2" cy="444.82" r="2.7"/>
<circle cx="273.36" cy="452.12" r="2.7"/>
<circle cx="277.74" cy="456.5" r="2.7"/>
<circle cx="270.44" cy="463.8" r="2.7"/>
<circle cx="280.66" cy="463.8" r="2.7"/>
<circle cx="283.58" cy="455.04" r="2.7"/>
<circle cx="263.14" cy="456.5" r="2.7"/>
<circle cx="268.98" cy="453.58" r="2.7"/>
<circle cx="305.47" cy="431.68" r="2.7"/>
<circle cx="301.09" cy="453.58" r="2.7"/>
<circle cx="309.85" cy="457.96" r="2.7"/>
<circle cx="311.31" cy="463.8" r="2.7"/>
<circle cx="289.42" cy="443.36" r="2.7"/>
<circle cx="289.42" cy="460.88" r="2.7"/>
</g>
<polygon points="226.7,452.7 229.68,452.3 232.65,451.89 235.63,451.48 238.6,451.07 241.58,450.65 244.56,450.23 247.53,449.81 250.51,449.38 253.49,448.94 256.46,448.5 259.44,448.06 262.41,447.62 265.39,447.16 268.37,446.69 271.34,446.21 274.32,445.71 277.3,445.2 280.27,444.67 283.25,444.11 286.22,443.52 289.2,443.03 292.18,442.5 295.15,441.95 298.13,441.38 301.11,440.8 304.08,440.2 307.06,439.59 310.03,438.97 313.01,438.35 315.99,437.72 318.96,437.08 321.94,436.45 324.92,435.8 327.89,435.16 330.87,434.51 333.85,433.86 336.82,433.21 339.8,432.56 342.77,431.9 345.75,431.25 345.75,443.25 342.77,443.41 339.8,443.57 336.82,443.73 333.85,443.9 330.87,444.06 327.89,444.23 324.92,444.4 321.94,444.57 318.96,444.75 315.99,444.93 313.01,445.11 310.03,445.3 307.06,445.5 304.08,445.7 301.11,445.92 298.13,446.15 295.15,446.4 292.18,446.66 289.2,446.95 286.22,447.27 283.25,447.75 280.27,448.27 277.3,448.82 274.32,449.38 271.34,449.96 268.37,450.55 265.39,451.16 262.41,451.77 259.44,452.4 256.46,453.04 253.49,453.7 250.51,454.37 247.53,455.05 244.56,455.73 241.58,456.42 238.6,457.11 235.63,457.8 232.65,458.5 229.68,459.2 226.7,459.9" fill="#999999" fill-opacity="0.4"/>
<polyline points="226.7,456.3 229.68,455.75 232.65,455.19 235.63,454.64 238.6,454.09 241.58,453.53 244.56,452.98 247.53,452.43 250.51,451.88 253.49,451.32 256.46,450.77 259.44,450.23 262.41,449.7 265.39,449.16 268.37,448.62 271.34,448.08 274.32,447.55 277.3,447.01 280.27,446.47 283.25,445.93 286.22,445.4 289.2,444.99 292.18,444.58 295.15,444.17 298.13,443.77 301.11,443.36 304.08,442.95 307.06,442.55 310.03,442.14 313.01,441.73 315.99,441.32 318.96,440.92 321.94,440.51 324.92,440.1 327.89,439.69 330.87,439.29 333.85,438.88 336.82,438.47 339.8,438.06 342.77,437.66 345.75,437.25" fill="none" stroke="#f31a20" stroke-width="2.4"/>
</g>
<rect x="220.75" y="372" width="131.45" height="101.9" fill="none" stroke="#3a3a3a" stroke-width="1.3"/>
<line x1="217.45" y1="469.7" x2="220.75" y2="469.7" stroke="#333333" stroke-width="1.3"/>
<text transform="translate(214.65,473.35) scale(1,1.06)" text-anchor="end" fill="#4d4d4d" font-size="10.1">0</text>
<line x1="217.45" y1="448.38" x2="220.75" y2="448.38" stroke="#333333" stroke-width="1.3"/>
<text transform="translate(214.65,452.02) scale(1,1.06)" text-anchor="end" fill="#4d4d4d" font-size="10.1">5</text>
<line x1="217.45" y1="427.05" x2="220.75" y2="427.05" stroke="#333333" stroke-width="1.3"/>
<text transform="translate(214.65,430.7) scale(1,1.06)" text-anchor="end" fill="#4d4d4d" font-size="10.1">10</text>
<line x1="217.45" y1="405.72" x2="220.75" y2="405.72" stroke="#333333" stroke-width="1.3"/>
<text transform="translate(214.65,409.37) scale(1,1.06)" text-anchor="end" fill="#4d4d4d" font-size="10.1">15</text>
<line x1="217.45" y1="384.4" x2="220.75" y2="384.4" stroke="#333333" stroke-width="1.3"/>
<text transform="translate(214.65,388.05) scale(1,1.06)" text-anchor="end" fill="#4d4d4d" font-size="10.1">20</text>
<line x1="226.72" y1="473.9" x2="226.72" y2="477.2" stroke="#333333" stroke-width="1.3"/>
<text transform="translate(226.72,487.35) scale(1,1.06)" text-anchor="middle" fill="#4d4d4d" font-size="10.1">0.00</text>
<line x1="256.6" y1="473.9" x2="256.6" y2="477.2" stroke="#333333" stroke-width="1.3"/>
<text transform="translate(256.6,487.35) scale(1,1.06)" text-anchor="middle" fill="#4d4d4d" font-size="10.1">0.25</text>
<line x1="286.48" y1="473.9" x2="286.48" y2="477.2" stroke="#333333" stroke-width="1.3"/>
<text transform="translate(286.48,487.35) scale(1,1.06)" text-anchor="middle" fill="#4d4d4d" font-size="10.1">0.50</text>
<line x1="316.35" y1="473.9" x2="316.35" y2="477.2" stroke="#333333" stroke-width="1.3"/>
<text transform="translate(316.35,487.35) scale(1,1.06)" text-anchor="middle" fill="#4d4d4d" font-size="10.1">0.75</text>
<line x1="346.22" y1="473.9" x2="346.22" y2="477.2" stroke="#333333" stroke-width="1.3"/>
<text transform="translate(346.22,487.35) scale(1,1.06)" text-anchor="middle" fill="#4d4d4d" font-size="10.1">1.00</text>
<text transform="translate(348.5,383.4) scale(1,1.06)" text-anchor="end" fill="#000" stroke="#000" stroke-width="0.18" font-size="9.85">p &lt; 0.0001</text>
<rect x="381.8" y="351.5" width="131.6" height="20.5" fill="#fff" stroke="#3a3a3a" stroke-width="1.3"/>
<text transform="translate(447.6,365.45) scale(1,1.06)" text-anchor="middle" fill="#111" stroke="#111" stroke-width="0.22" font-size="10.5" font-style="italic">ITGAM</text>
<clipPath id="c381_372"><rect x="381.8" y="372" width="131.6" height="101.9"/></clipPath>
<g clip-path="url(#c381_372)">
<g fill="#000">
<circle cx="417.46" cy="413.15" r="2.7"/>
<circle cx="424.9" cy="420.89" r="2.7"/>
<circle cx="424.9" cy="423.57" r="2.7"/>
<circle cx="432.34" cy="420.6" r="2.7"/>
<circle cx="407.34" cy="448.12" r="2.7"/>
<circle cx="387.7" cy="456.01" r="2.7"/>
<circle cx="427.43" cy="456.31" r="2.7"/>
<circle cx="387.4" cy="457.8" r="2.7"/>
<circle cx="387.87" cy="461.52" r="2.7"/>
<circle cx="387.77" cy="465.24" r="2.7"/>
<circle cx="387.43" cy="468.96" r="2.7"/>
<circle cx="395.42" cy="464.49" r="2.7"/>
<circle cx="394.88" cy="468.96" r="2.7"/>
<circle cx="399.43" cy="463.75" r="2.7"/>
<circle cx="398.89" cy="468.96" r="2.7"/>
<circle cx="403.04" cy="463.01" r="2.7"/>
<circle cx="402.95" cy="465.98" r="2.7"/>
<circle cx="402.61" cy="468.96" r="2.7"/>
<circle cx="407.46" cy="465.24" r="2.7"/>
<circle cx="407.06" cy="468.96" r="2.7"/>
<circle cx="410.06" cy="461.52" r="2.7"/>
<circle cx="410.37" cy="465.24" r="2.7"/>
<circle cx="410.5" cy="468.96" r="2.7"/>
<circle cx="417.48" cy="461.52" r="2.7"/>
<circle cx="417.67" cy="465.24" r="2.7"/>
<circle cx="417.16" cy="468.96" r="2.7"/>
<circle cx="424.75" cy="460.77" r="2.7"/>
<circle cx="424.8" cy="464.87" r="2.7"/>
<circle cx="425.17" cy="468.96" r="2.7"/>
<circle cx="427.47" cy="459.29" r="2.7"/>
<circle cx="427.18" cy="462.51" r="2.7"/>
<circle cx="427.72" cy="465.73" r="2.7"/>
<circle cx="427.29" cy="468.96" r="2.7"/>
<circle cx="430.12" cy="463.01" r="2.7"/>
<circle cx="430.53" cy="465.98" r="2.7"/>
<circle cx="430.52" cy="468.96" r="2.7"/>
<circle cx="433.26" cy="463.01" r="2.7"/>
<circle cx="433.67" cy="465.98" r="2.7"/>
<circle cx="433.12" cy="468.96" r="2.7"/>
<circle cx="436.81" cy="460.77" r="2.7"/>
<circle cx="437.25" cy="464.87" r="2.7"/>
<circle cx="437.19" cy="468.96" r="2.7"/>
<circle cx="439.98" cy="458.54" r="2.7"/>
<circle cx="440.36" cy="462.01" r="2.7"/>
<circle cx="439.81" cy="465.49" r="2.7"/>
<circle cx="440.16" cy="468.96" r="2.7"/>
<circle cx="487.12" cy="376.5" r="2.7"/>
<circle cx="477.12" cy="383.12" r="2.7"/>
<circle cx="497.12" cy="399.38" r="2.7"/>
<circle cx="497.12" cy="409.38" r="2.7"/>
<circle cx="492.12" cy="411.5" r="2.7"/>
<circle cx="469.62" cy="419.62" r="2.7"/>
<circle cx="467.25" cy="439.62" r="2.7"/>
<circle cx="487.12" cy="438.12" r="2.7"/>
<circle cx="497.12" cy="436.88" r="2.7"/>
<circle cx="497.12" cy="439.38" r="2.7"/>
<circle cx="497.12" cy="445.62" r="2.7"/>
<circle cx="447.23" cy="455" r="2.7"/>
<circle cx="447.59" cy="458.44" r="2.7"/>
<circle cx="447.65" cy="461.88" r="2.7"/>
<circle cx="447.21" cy="465.31" r="2.7"/>
<circle cx="447.74" cy="468.75" r="2.7"/>
<circle cx="455.22" cy="460" r="2.7"/>
<circle cx="454.7" cy="464.38" r="2.7"/>
<circle cx="455.18" cy="468.75" r="2.7"/>
<circle cx="462.6" cy="457.5" r="2.7"/>
<circle cx="462.65" cy="461.25" r="2.7"/>
<circle cx="462.21" cy="465" r="2.7"/>
<circle cx="462.74" cy="468.75" r="2.7"/>
<circle cx="465.29" cy="456.25" r="2.7"/>
<circle cx="464.76" cy="460.42" r="2.7"/>
<circle cx="465.03" cy="464.58" r="2.7"/>
<circle cx="465.21" cy="468.75" r="2.7"/>
<circle cx="467.54" cy="451.25" r="2.7"/>
<circle cx="467" cy="455" r="2.7"/>
<circle cx="467.29" cy="458.75" r="2.7"/>
<circle cx="467.45" cy="462.5" r="2.7"/>
<circle cx="466.95" cy="466.25" r="2.7"/>
<circle cx="467.45" cy="470" r="2.7"/>
<circle cx="469.7" cy="448.75" r="2.7"/>
<circle cx="470.18" cy="452.75" r="2.7"/>
<circle cx="470.06" cy="456.75" r="2.7"/>
<circle cx="469.74" cy="460.75" r="2.7"/>
<circle cx="470.29" cy="464.75" r="2.7"/>
<circle cx="469.88" cy="468.75" r="2.7"/>
<circle cx="477.28" cy="446.25" r="2.7"/>
<circle cx="477.21" cy="450" r="2.7"/>
<circle cx="476.85" cy="453.75" r="2.7"/>
<circle cx="477.4" cy="457.5" r="2.7"/>
<circle cx="477.03" cy="461.25" r="2.7"/>
<circle cx="476.98" cy="465" r="2.7"/>
<circle cx="477.42" cy="468.75" r="2.7"/>
<circle cx="487.13" cy="451.25" r="2.7"/>
<circle cx="487.35" cy="455" r="2.7"/>
<circle cx="486.83" cy="458.75" r="2.7"/>
<circle cx="487.3" cy="462.5" r="2.7"/>
<circle cx="487.19" cy="466.25" r="2.7"/>
<circle cx="492.2" cy="452.5" r="2.7"/>
<circle cx="491.86" cy="456.56" r="2.7"/>
<circle cx="492.4" cy="460.62" r="2.7"/>
<circle cx="492.02" cy="464.69" r="2.7"/>
<circle cx="491.98" cy="468.75" r="2.7"/>
<circle cx="496.97" cy="462.5" r="2.7"/>
<circle cx="497.42" cy="465.62" r="2.7"/>
<circle cx="496.89" cy="468.75" r="2.7"/>
<circle cx="500.04" cy="450" r="2.7"/>
<circle cx="499.75" cy="454.06" r="2.7"/>
<circle cx="500.29" cy="458.12" r="2.7"/>
<circle cx="499.87" cy="462.19" r="2.7"/>
<circle cx="499.89" cy="466.25" r="2.7"/>
<circle cx="507.75" cy="456.25" r="2.7"/>
<circle cx="507.45" cy="460" r="2.7"/>
<circle cx="507.31" cy="463.75" r="2.7"/>
<circle cx="507.8" cy="467.5" r="2.7"/>
</g>
<polygon points="387.7,462.56 390.69,462.6 393.67,462.64 396.65,462.67 399.64,462.7 402.62,462.74 405.61,462.76 408.59,462.79 411.58,462.81 414.56,462.82 417.55,462.83 420.53,462.66 423.52,462.47 426.5,462.28 429.49,462.09 432.48,461.88 435.46,461.66 438.44,461.43 441.43,461.19 444.42,460.92 447.4,460.63 450.38,460.15 453.37,459.64 456.36,459.11 459.34,458.57 462.33,458.02 465.31,457.45 468.3,456.88 471.28,456.31 474.26,455.72 477.25,455.13 480.24,454.37 483.22,453.62 486.21,452.86 489.19,452.1 492.18,451.33 495.16,450.57 498.14,449.8 501.13,449.04 504.12,448.27 507.1,447.5 507.1,456.3 504.12,456.71 501.13,457.11 498.14,457.52 495.16,457.93 492.18,458.34 489.19,458.75 486.21,459.16 483.22,459.58 480.24,459.99 477.25,460.41 474.26,460.68 471.28,460.95 468.3,461.22 465.31,461.49 462.33,461.77 459.34,462.07 456.36,462.37 453.37,462.69 450.38,463.03 447.4,463.38 444.42,463.59 441.43,463.83 438.44,464.08 435.46,464.35 432.48,464.63 429.49,464.92 426.5,465.21 423.52,465.52 420.53,465.84 417.55,466.16 414.56,466.32 411.58,466.47 408.59,466.63 405.61,466.8 402.62,466.96 399.64,467.13 396.65,467.31 393.67,467.48 390.69,467.66 387.7,467.84" fill="#999999" fill-opacity="0.4"/>
<polyline points="387.7,465.2 390.69,465.13 393.67,465.06 396.65,464.99 399.64,464.92 402.62,464.85 405.61,464.78 408.59,464.71 411.58,464.64 414.56,464.57 417.55,464.5 420.53,464.25 423.52,464 426.5,463.75 429.49,463.5 432.48,463.25 435.46,463 438.44,462.75 441.43,462.51 444.42,462.26 447.4,462.01 450.38,461.59 453.37,461.17 456.36,460.74 459.34,460.32 462.33,459.9 465.31,459.47 468.3,459.05 471.28,458.63 474.26,458.2 477.25,457.77 480.24,457.18 483.22,456.6 486.21,456.01 489.19,455.42 492.18,454.84 495.16,454.25 498.14,453.66 501.13,453.07 504.12,452.49 507.1,451.9" fill="none" stroke="#f31a20" stroke-width="2.4"/>
</g>
<rect x="381.8" y="372" width="131.6" height="101.9" fill="none" stroke="#3a3a3a" stroke-width="1.3"/>
<line x1="378.5" y1="469.3" x2="381.8" y2="469.3" stroke="#333333" stroke-width="1.3"/>
<text transform="translate(375.7,472.95) scale(1,1.06)" text-anchor="end" fill="#4d4d4d" font-size="10.1">0</text>
<line x1="378.5" y1="442.5" x2="381.8" y2="442.5" stroke="#333333" stroke-width="1.3"/>
<text transform="translate(375.7,446.15) scale(1,1.06)" text-anchor="end" fill="#4d4d4d" font-size="10.1">25</text>
<line x1="378.5" y1="415.7" x2="381.8" y2="415.7" stroke="#333333" stroke-width="1.3"/>
<text transform="translate(375.7,419.35) scale(1,1.06)" text-anchor="end" fill="#4d4d4d" font-size="10.1">50</text>
<line x1="378.5" y1="388.9" x2="381.8" y2="388.9" stroke="#333333" stroke-width="1.3"/>
<text transform="translate(375.7,392.55) scale(1,1.06)" text-anchor="end" fill="#4d4d4d" font-size="10.1">75</text>
<line x1="387.78" y1="473.9" x2="387.78" y2="477.2" stroke="#333333" stroke-width="1.3"/>
<text transform="translate(387.78,487.35) scale(1,1.06)" text-anchor="middle" fill="#4d4d4d" font-size="10.1">0.00</text>
<line x1="417.69" y1="473.9" x2="417.69" y2="477.2" stroke="#333333" stroke-width="1.3"/>
<text transform="translate(417.69,487.35) scale(1,1.06)" text-anchor="middle" fill="#4d4d4d" font-size="10.1">0.25</text>
<line x1="447.6" y1="473.9" x2="447.6" y2="477.2" stroke="#333333" stroke-width="1.3"/>
<text transform="translate(447.6,487.35) scale(1,1.06)" text-anchor="middle" fill="#4d4d4d" font-size="10.1">0.50</text>
<line x1="477.51" y1="473.9" x2="477.51" y2="477.2" stroke="#333333" stroke-width="1.3"/>
<text transform="translate(477.51,487.35) scale(1,1.06)" text-anchor="middle" fill="#4d4d4d" font-size="10.1">0.75</text>
<line x1="507.42" y1="473.9" x2="507.42" y2="477.2" stroke="#333333" stroke-width="1.3"/>
<text transform="translate(507.42,487.35) scale(1,1.06)" text-anchor="middle" fill="#4d4d4d" font-size="10.1">1.00</text>
<text transform="translate(385.3,383.4) scale(1,1.06)" fill="#000" stroke="#000" stroke-width="0.18" font-size="9.85">p &lt; 0.0001</text>
<rect x="548.7" y="351.5" width="131.3" height="20.5" fill="#fff" stroke="#3a3a3a" stroke-width="1.3"/>
<text transform="translate(614.35,365.45) scale(1,1.06)" text-anchor="middle" fill="#111" stroke="#111" stroke-width="0.22" font-size="10.5" font-style="italic">IL1B</text>
<clipPath id="c548_372"><rect x="548.7" y="372" width="131.3" height="101.9"/></clipPath>
<g clip-path="url(#c548_372)">
<g fill="#000">
<circle cx="591.88" cy="410.92" r="2.7"/>
<circle cx="591.88" cy="424.61" r="2.7"/>
<circle cx="584.29" cy="438.75" r="2.7"/>
<circle cx="576.55" cy="458.84" r="2.7"/>
<circle cx="554.59" cy="465.24" r="2.7"/>
<circle cx="554.94" cy="468.21" r="2.7"/>
<circle cx="561.95" cy="465.24" r="2.7"/>
<circle cx="561.56" cy="468.21" r="2.7"/>
<circle cx="564.78" cy="465.24" r="2.7"/>
<circle cx="564.35" cy="468.21" r="2.7"/>
<circle cx="568.81" cy="464.49" r="2.7"/>
<circle cx="569.33" cy="468.21" r="2.7"/>
<circle cx="572.07" cy="465.24" r="2.7"/>
<circle cx="572.32" cy="468.21" r="2.7"/>
<circle cx="576.81" cy="465.24" r="2.7"/>
<circle cx="576.26" cy="468.21" r="2.7"/>
<circle cx="584.5" cy="462.26" r="2.7"/>
<circle cx="584.3" cy="465.24" r="2.7"/>
<circle cx="584.06" cy="468.21" r="2.7"/>
<circle cx="591.6" cy="464.49" r="2.7"/>
<circle cx="592.14" cy="468.21" r="2.7"/>
<circle cx="594.12" cy="464.49" r="2.7"/>
<circle cx="594.53" cy="468.21" r="2.7"/>
<circle cx="598.96" cy="461.52" r="2.7"/>
<circle cx="599.03" cy="464.87" r="2.7"/>
<circle cx="598.57" cy="468.21" r="2.7"/>
<circle cx="602.14" cy="462.26" r="2.7"/>
<circle cx="601.61" cy="465.24" r="2.7"/>
<circle cx="601.86" cy="468.21" r="2.7"/>
<circle cx="603.98" cy="462.26" r="2.7"/>
<circle cx="604.36" cy="465.24" r="2.7"/>
<circle cx="603.81" cy="468.21" r="2.7"/>
<circle cx="607.32" cy="463.75" r="2.7"/>
<circle cx="606.98" cy="468.21" r="2.7"/>
<circle cx="664" cy="376.5" r="2.7"/>
<circle cx="644.12" cy="384.62" r="2.7"/>
<circle cx="654.12" cy="389.75" r="2.7"/>
<circle cx="659" cy="401.88" r="2.7"/>
<circle cx="634.12" cy="423.5" r="2.7"/>
<circle cx="654.12" cy="421" r="2.7"/>
<circle cx="654.12" cy="436.25" r="2.7"/>
<circle cx="654.12" cy="438.5" r="2.7"/>
<circle cx="636.88" cy="442.25" r="2.7"/>
<circle cx="644.12" cy="443.12" r="2.7"/>
<circle cx="664" cy="443.75" r="2.7"/>
<circle cx="666.5" cy="448.12" r="2.7"/>
<circle cx="634.12" cy="451.25" r="2.7"/>
<circle cx="654.12" cy="453.12" r="2.7"/>
<circle cx="614.04" cy="457.5" r="2.7"/>
<circle cx="614.19" cy="461.25" r="2.7"/>
<circle cx="613.7" cy="465" r="2.7"/>
<circle cx="614.2" cy="468.75" r="2.7"/>
<circle cx="621.28" cy="461.25" r="2.7"/>
<circle cx="621.01" cy="465" r="2.7"/>
<circle cx="621.54" cy="468.75" r="2.7"/>
<circle cx="629.01" cy="457.5" r="2.7"/>
<circle cx="628.69" cy="461.25" r="2.7"/>
<circle cx="628.57" cy="465" r="2.7"/>
<circle cx="629.05" cy="468.75" r="2.7"/>
<circle cx="631.79" cy="457.5" r="2.7"/>
<circle cx="632.15" cy="461.25" r="2.7"/>
<circle cx="631.6" cy="465" r="2.7"/>
<circle cx="631.97" cy="468.75" r="2.7"/>
<circle cx="634.65" cy="456.25" r="2.7"/>
<circle cx="634.29" cy="460.42" r="2.7"/>
<circle cx="634.22" cy="464.58" r="2.7"/>
<circle cx="634.67" cy="468.75" r="2.7"/>
<circle cx="637.04" cy="456.25" r="2.7"/>
<circle cx="636.58" cy="460.42" r="2.7"/>
<circle cx="637.11" cy="464.58" r="2.7"/>
<circle cx="636.86" cy="468.75" r="2.7"/>
<circle cx="643.91" cy="445" r="2.7"/>
<circle cx="644.42" cy="448.12" r="2.7"/>
<circle cx="643.94" cy="451.25" r="2.7"/>
<circle cx="643.91" cy="460" r="2.7"/>
<circle cx="644.42" cy="464.38" r="2.7"/>
<circle cx="643.94" cy="468.75" r="2.7"/>
<circle cx="653.83" cy="462.5" r="2.7"/>
<circle cx="654.37" cy="465.62" r="2.7"/>
<circle cx="654.1" cy="468.75" r="2.7"/>
<circle cx="659.22" cy="457.5" r="2.7"/>
<circle cx="659.01" cy="461.25" r="2.7"/>
<circle cx="658.77" cy="465" r="2.7"/>
<circle cx="659.3" cy="468.75" r="2.7"/>
<circle cx="663.85" cy="455" r="2.7"/>
<circle cx="663.91" cy="458.44" r="2.7"/>
<circle cx="664.27" cy="461.88" r="2.7"/>
<circle cx="663.73" cy="465.31" r="2.7"/>
<circle cx="664.09" cy="468.75" r="2.7"/>
<circle cx="666.22" cy="462.5" r="2.7"/>
<circle cx="666.77" cy="465.62" r="2.7"/>
<circle cx="666.42" cy="468.75" r="2.7"/>
<circle cx="674.05" cy="461.88" r="2.7"/>
<circle cx="673.52" cy="465.31" r="2.7"/>
<circle cx="673.76" cy="468.75" r="2.7"/>
</g>
<polygon points="554.7,463.76 557.67,463.83 560.64,463.9 563.61,463.96 566.58,464.02 569.55,464.09 572.52,464.14 575.49,464.2 578.46,464.25 581.43,464.29 584.4,464.33 587.37,464.15 590.34,463.96 593.31,463.77 596.28,463.57 599.25,463.36 602.22,463.13 605.19,462.9 608.16,462.65 611.13,462.39 614.1,462.08 617.07,461.65 620.04,461.2 623.01,460.73 625.98,460.24 628.95,459.74 631.92,459.24 634.89,458.72 637.86,458.2 640.83,457.67 643.8,457.14 646.77,456.42 649.74,455.67 652.71,454.91 655.68,454.16 658.65,453.4 661.62,452.64 664.59,451.88 667.56,451.12 670.53,450.36 673.5,449.6 673.5,458.4 670.53,458.8 667.56,459.2 664.59,459.6 661.62,460 658.65,460.41 655.68,460.81 652.71,461.22 649.74,461.63 646.77,462.04 643.8,462.43 640.83,462.63 637.86,462.84 634.89,463.05 631.92,463.27 628.95,463.5 625.98,463.74 623.01,463.98 620.04,464.25 617.07,464.53 614.1,464.83 611.13,465.06 608.16,465.29 605.19,465.55 602.22,465.82 599.25,466.1 596.28,466.4 593.31,466.7 590.34,467.01 587.37,467.33 584.4,467.66 581.43,467.78 578.46,467.91 575.49,468.04 572.52,468.18 569.55,468.31 566.58,468.45 563.61,468.6 560.64,468.74 557.67,468.89 554.7,469.04" fill="#999999" fill-opacity="0.4"/>
<polyline points="554.7,466.4 557.67,466.36 560.64,466.32 563.61,466.28 566.58,466.24 569.55,466.2 572.52,466.16 575.49,466.12 578.46,466.08 581.43,466.04 584.4,465.99 587.37,465.74 590.34,465.49 593.31,465.24 596.28,464.98 599.25,464.73 602.22,464.48 605.19,464.23 608.16,463.97 611.13,463.72 614.1,463.46 617.07,463.09 620.04,462.72 623.01,462.36 625.98,461.99 628.95,461.62 631.92,461.25 634.89,460.89 637.86,460.52 640.83,460.15 643.8,459.79 646.77,459.23 649.74,458.65 652.71,458.07 655.68,457.49 658.65,456.9 661.62,456.32 664.59,455.74 667.56,455.16 670.53,454.58 673.5,454" fill="none" stroke="#f31a20" stroke-width="2.4"/>
</g>
<rect x="548.7" y="372" width="131.3" height="101.9" fill="none" stroke="#3a3a3a" stroke-width="1.3"/>
<line x1="545.4" y1="467.5" x2="548.7" y2="467.5" stroke="#333333" stroke-width="1.3"/>
<text transform="translate(542.6,471.15) scale(1,1.06)" text-anchor="end" fill="#4d4d4d" font-size="10.1">0</text>
<line x1="545.4" y1="438.47" x2="548.7" y2="438.47" stroke="#333333" stroke-width="1.3"/>
<text transform="translate(542.6,442.12) scale(1,1.06)" text-anchor="end" fill="#4d4d4d" font-size="10.1">500</text>
<line x1="545.4" y1="409.43" x2="548.7" y2="409.43" stroke="#333333" stroke-width="1.3"/>
<text transform="translate(542.6,413.08) scale(1,1.06)" text-anchor="end" fill="#4d4d4d" font-size="10.1">1000</text>
<line x1="545.4" y1="380.4" x2="548.7" y2="380.4" stroke="#333333" stroke-width="1.3"/>
<text transform="translate(542.6,384.05) scale(1,1.06)" text-anchor="end" fill="#4d4d4d" font-size="10.1">1500</text>
<line x1="554.67" y1="473.9" x2="554.67" y2="477.2" stroke="#333333" stroke-width="1.3"/>
<text transform="translate(554.67,487.35) scale(1,1.06)" text-anchor="middle" fill="#4d4d4d" font-size="10.1">0.00</text>
<line x1="584.51" y1="473.9" x2="584.51" y2="477.2" stroke="#333333" stroke-width="1.3"/>
<text transform="translate(584.51,487.35) scale(1,1.06)" text-anchor="middle" fill="#4d4d4d" font-size="10.1">0.25</text>
<line x1="614.35" y1="473.9" x2="614.35" y2="477.2" stroke="#333333" stroke-width="1.3"/>
<text transform="translate(614.35,487.35) scale(1,1.06)" text-anchor="middle" fill="#4d4d4d" font-size="10.1">0.50</text>
<line x1="644.19" y1="473.9" x2="644.19" y2="477.2" stroke="#333333" stroke-width="1.3"/>
<text transform="translate(644.19,487.35) scale(1,1.06)" text-anchor="middle" fill="#4d4d4d" font-size="10.1">0.75</text>
<line x1="674.03" y1="473.9" x2="674.03" y2="477.2" stroke="#333333" stroke-width="1.3"/>
<text transform="translate(674.03,487.35) scale(1,1.06)" text-anchor="middle" fill="#4d4d4d" font-size="10.1">1.00</text>
<text transform="translate(552.2,383.4) scale(1,1.06)" fill="#000" stroke="#000" stroke-width="0.18" font-size="9.85">p &lt; 0.0001</text>
<rect x="59.85" y="516.5" width="131.25" height="20.5" fill="#fff" stroke="#3a3a3a" stroke-width="1.3"/>
<text transform="translate(125.47,530.45) scale(1,1.06)" text-anchor="middle" fill="#111" stroke="#111" stroke-width="0.22" font-size="10.5" font-style="italic">CD14</text>
<clipPath id="c59_537"><rect x="59.85" y="537" width="131.25" height="101.9"/></clipPath>
<g clip-path="url(#c59_537)">
<g fill="#000">
<circle cx="88.04" cy="548.69" r="2.7"/>
<circle cx="95.48" cy="563.27" r="2.7"/>
<circle cx="102.92" cy="562.23" r="2.7"/>
<circle cx="102.92" cy="565.51" r="2.7"/>
<circle cx="110.36" cy="589.32" r="2.7"/>
<circle cx="75.83" cy="587.83" r="2.7"/>
<circle cx="65.71" cy="625.77" r="2.7"/>
<circle cx="65.71" cy="633.21" r="2.7"/>
<circle cx="73.15" cy="633.51" r="2.7"/>
<circle cx="80.6" cy="634.4" r="2.7"/>
<circle cx="85.36" cy="625.77" r="2.7"/>
<circle cx="85.36" cy="627.56" r="2.7"/>
<circle cx="95.48" cy="632.92" r="2.7"/>
<circle cx="105.6" cy="629.49" r="2.7"/>
<circle cx="110.36" cy="629.94" r="2.7"/>
<circle cx="105.6" cy="603.45" r="2.7"/>
<circle cx="117.8" cy="602.71" r="2.7"/>
<circle cx="65.42" cy="598.24" r="2.7"/>
<circle cx="65.9" cy="602.34" r="2.7"/>
<circle cx="65.77" cy="606.43" r="2.7"/>
<circle cx="65.46" cy="610.52" r="2.7"/>
<circle cx="66" cy="614.61" r="2.7"/>
<circle cx="65.59" cy="618.71" r="2.7"/>
<circle cx="65.59" cy="622.8" r="2.7"/>
<circle cx="72.11" cy="592.29" r="2.7"/>
<circle cx="72.61" cy="596.29" r="2.7"/>
<circle cx="72.44" cy="600.29" r="2.7"/>
<circle cx="72.17" cy="604.29" r="2.7"/>
<circle cx="72.7" cy="608.29" r="2.7"/>
<circle cx="72.26" cy="612.29" r="2.7"/>
<circle cx="72.31" cy="616.29" r="2.7"/>
<circle cx="72.69" cy="620.29" r="2.7"/>
<circle cx="72.14" cy="624.29" r="2.7"/>
<circle cx="74.78" cy="594.52" r="2.7"/>
<circle cx="74.35" cy="598.43" r="2.7"/>
<circle cx="74.89" cy="602.34" r="2.7"/>
<circle cx="74.6" cy="606.24" r="2.7"/>
<circle cx="74.45" cy="610.15" r="2.7"/>
<circle cx="74.94" cy="614.06" r="2.7"/>
<circle cx="74.44" cy="617.96" r="2.7"/>
<circle cx="74.61" cy="621.87" r="2.7"/>
<circle cx="74.88" cy="625.77" r="2.7"/>
<circle cx="77.38" cy="597.5" r="2.7"/>
<circle cx="77.65" cy="601.47" r="2.7"/>
<circle cx="77.82" cy="605.44" r="2.7"/>
<circle cx="77.32" cy="609.4" r="2.7"/>
<circle cx="77.82" cy="613.37" r="2.7"/>
<circle cx="77.65" cy="617.34" r="2.7"/>
<circle cx="77.37" cy="621.31" r="2.7"/>
<circle cx="80.39" cy="603.45" r="2.7"/>
<circle cx="80.9" cy="607.32" r="2.7"/>
<circle cx="80.4" cy="611.19" r="2.7"/>
<circle cx="80.55" cy="615.06" r="2.7"/>
<circle cx="80.85" cy="618.93" r="2.7"/>
<circle cx="80.31" cy="622.8" r="2.7"/>
<circle cx="85.35" cy="609.4" r="2.7"/>
<circle cx="84.9" cy="612.75" r="2.7"/>
<circle cx="84.97" cy="616.1" r="2.7"/>
<circle cx="85.33" cy="619.45" r="2.7"/>
<circle cx="84.78" cy="622.8" r="2.7"/>
<circle cx="88.13" cy="610.89" r="2.7"/>
<circle cx="87.76" cy="614.37" r="2.7"/>
<circle cx="88.31" cy="617.84" r="2.7"/>
<circle cx="87.95" cy="621.31" r="2.7"/>
<circle cx="95.51" cy="602.71" r="2.7"/>
<circle cx="95.67" cy="606.32" r="2.7"/>
<circle cx="95.18" cy="609.94" r="2.7"/>
<circle cx="95.68" cy="613.55" r="2.7"/>
<circle cx="95.51" cy="617.16" r="2.7"/>
<circle cx="95.23" cy="620.78" r="2.7"/>
<circle cx="95.77" cy="624.39" r="2.7"/>
<circle cx="95.33" cy="628.01" r="2.7"/>
<circle cx="102.76" cy="612.38" r="2.7"/>
<circle cx="102.84" cy="616.35" r="2.7"/>
<circle cx="103.19" cy="620.32" r="2.7"/>
<circle cx="102.64" cy="624.29" r="2.7"/>
<circle cx="105.43" cy="609.4" r="2.7"/>
<circle cx="105.52" cy="612.98" r="2.7"/>
<circle cx="105.86" cy="616.55" r="2.7"/>
<circle cx="105.31" cy="620.12" r="2.7"/>
<circle cx="105.71" cy="623.69" r="2.7"/>
<circle cx="105.73" cy="627.26" r="2.7"/>
<circle cx="110.61" cy="606.43" r="2.7"/>
<circle cx="110.31" cy="610.6" r="2.7"/>
<circle cx="110.17" cy="614.76" r="2.7"/>
<circle cx="110.66" cy="618.93" r="2.7"/>
<circle cx="110.15" cy="623.1" r="2.7"/>
<circle cx="110.34" cy="627.26" r="2.7"/>
<circle cx="113.53" cy="609.4" r="2.7"/>
<circle cx="113.03" cy="613.27" r="2.7"/>
<circle cx="113.54" cy="617.14" r="2.7"/>
<circle cx="113.36" cy="621.01" r="2.7"/>
<circle cx="113.09" cy="624.88" r="2.7"/>
<circle cx="113.63" cy="628.75" r="2.7"/>
<circle cx="116.11" cy="606.43" r="2.7"/>
<circle cx="116.28" cy="610.15" r="2.7"/>
<circle cx="116.55" cy="613.87" r="2.7"/>
<circle cx="116.02" cy="617.59" r="2.7"/>
<circle cx="116.46" cy="621.31" r="2.7"/>
<circle cx="116.41" cy="625.03" r="2.7"/>
<circle cx="116.03" cy="628.75" r="2.7"/>
<circle cx="119.04" cy="618.33" r="2.7"/>
<circle cx="119.58" cy="621.81" r="2.7"/>
<circle cx="119.15" cy="625.28" r="2.7"/>
<circle cx="119.18" cy="628.75" r="2.7"/>
<circle cx="170.12" cy="541.5" r="2.7"/>
<circle cx="175.38" cy="547.25" r="2.7"/>
<circle cx="155.12" cy="550.25" r="2.7"/>
<circle cx="145.38" cy="554.38" r="2.7"/>
<circle cx="165.12" cy="558.75" r="2.7"/>
<circle cx="175.38" cy="571.5" r="2.7"/>
<circle cx="147.62" cy="577.25" r="2.7"/>
<circle cx="165.12" cy="578.12" r="2.7"/>
<circle cx="165.12" cy="580.62" r="2.7"/>
<circle cx="185.38" cy="593.12" r="2.7"/>
<circle cx="145.38" cy="593.12" r="2.7"/>
<circle cx="133" cy="600.62" r="2.7"/>
<circle cx="140.12" cy="603.12" r="2.7"/>
<circle cx="147.62" cy="600" r="2.7"/>
<circle cx="170.12" cy="597.5" r="2.7"/>
<circle cx="170.12" cy="610" r="2.7"/>
<circle cx="185.38" cy="615" r="2.7"/>
<circle cx="185.38" cy="626.25" r="2.7"/>
<circle cx="175.38" cy="630" r="2.7"/>
<circle cx="170.12" cy="624.75" r="2.7"/>
<circle cx="125.7" cy="595" r="2.7"/>
<circle cx="125.53" cy="598.61" r="2.7"/>
<circle cx="125.26" cy="602.22" r="2.7"/>
<circle cx="125.79" cy="605.83" r="2.7"/>
<circle cx="125.35" cy="609.44" r="2.7"/>
<circle cx="125.41" cy="613.06" r="2.7"/>
<circle cx="125.77" cy="616.67" r="2.7"/>
<circle cx="125.23" cy="620.28" r="2.7"/>
<circle cx="125.59" cy="623.89" r="2.7"/>
<circle cx="125.65" cy="627.5" r="2.7"/>
<circle cx="132.72" cy="607.5" r="2.7"/>
<circle cx="133.26" cy="611.5" r="2.7"/>
<circle cx="132.93" cy="615.5" r="2.7"/>
<circle cx="132.83" cy="619.5" r="2.7"/>
<circle cx="133.3" cy="623.5" r="2.7"/>
<circle cx="132.78" cy="627.5" r="2.7"/>
<circle cx="138.28" cy="612.5" r="2.7"/>
<circle cx="138.01" cy="616.67" r="2.7"/>
<circle cx="138.54" cy="620.83" r="2.7"/>
<circle cx="138.1" cy="625" r="2.7"/>
<circle cx="140.46" cy="612.5" r="2.7"/>
<circle cx="140.89" cy="615.94" r="2.7"/>
<circle cx="140.85" cy="619.38" r="2.7"/>
<circle cx="140.47" cy="622.81" r="2.7"/>
<circle cx="141.02" cy="626.25" r="2.7"/>
<circle cx="143.14" cy="610" r="2.7"/>
<circle cx="143.53" cy="613.75" r="2.7"/>
<circle cx="142.99" cy="617.5" r="2.7"/>
<circle cx="143.32" cy="621.25" r="2.7"/>
<circle cx="143.42" cy="625" r="2.7"/>
<circle cx="145.12" cy="607.5" r="2.7"/>
<circle cx="145.66" cy="611.25" r="2.7"/>
<circle cx="145.26" cy="615" r="2.7"/>
<circle cx="145.25" cy="618.75" r="2.7"/>
<circle cx="145.66" cy="622.5" r="2.7"/>
<circle cx="145.12" cy="626.25" r="2.7"/>
<circle cx="147.37" cy="612.5" r="2.7"/>
<circle cx="147.91" cy="615.94" r="2.7"/>
<circle cx="147.5" cy="619.38" r="2.7"/>
<circle cx="147.51" cy="622.81" r="2.7"/>
<circle cx="147.91" cy="626.25" r="2.7"/>
<circle cx="155.08" cy="591.25" r="2.7"/>
<circle cx="154.93" cy="594.88" r="2.7"/>
<circle cx="155.42" cy="598.5" r="2.7"/>
<circle cx="154.92" cy="602.12" r="2.7"/>
<circle cx="155.1" cy="605.75" r="2.7"/>
<circle cx="155.36" cy="609.38" r="2.7"/>
<circle cx="154.83" cy="613" r="2.7"/>
<circle cx="155.28" cy="616.62" r="2.7"/>
<circle cx="155.21" cy="620.25" r="2.7"/>
<circle cx="154.85" cy="623.88" r="2.7"/>
<circle cx="155.4" cy="627.5" r="2.7"/>
<circle cx="165.24" cy="600" r="2.7"/>
<circle cx="164.84" cy="604.38" r="2.7"/>
<circle cx="165.39" cy="608.75" r="2.7"/>
<circle cx="165.24" cy="612.5" r="2.7"/>
<circle cx="164.84" cy="616.25" r="2.7"/>
<circle cx="165.39" cy="620" r="2.7"/>
<circle cx="169.94" cy="602.5" r="2.7"/>
<circle cx="170.42" cy="607.5" r="2.7"/>
<circle cx="175.24" cy="590" r="2.7"/>
<circle cx="175.26" cy="593.5" r="2.7"/>
<circle cx="175.66" cy="597" r="2.7"/>
<circle cx="175.11" cy="600.5" r="2.7"/>
<circle cx="175.44" cy="604" r="2.7"/>
<circle cx="175.55" cy="607.5" r="2.7"/>
<circle cx="177.49" cy="590" r="2.7"/>
<circle cx="177.52" cy="595" r="2.7"/>
<circle cx="175.24" cy="617.5" r="2.7"/>
<circle cx="175.26" cy="621.25" r="2.7"/>
<circle cx="175.66" cy="625" r="2.7"/>
<circle cx="185.4" cy="606.25" r="2.7"/>
<circle cx="185.13" cy="611.25" r="2.7"/>
</g>
<polygon points="65.7,608.2 68.67,608.8 71.64,609.4 74.61,610 77.58,610.59 80.55,611.15 83.52,611.57 86.49,611.99 89.46,612.39 92.43,612.8 95.4,613.2 98.37,613.35 101.34,613.49 104.31,613.61 107.28,613.73 110.25,613.84 113.22,613.53 116.19,613.19 119.16,612.83 122.13,612.46 125.1,612.05 128.07,611.46 131.04,610.84 134.01,610.2 136.98,609.55 139.95,608.87 142.92,608.27 145.89,607.66 148.86,607.04 151.83,606.42 154.8,605.79 157.77,604.8 160.74,603.76 163.71,602.71 166.68,601.67 169.65,600.62 172.62,599.43 175.59,598.23 178.56,597.02 181.53,595.81 184.5,594.6 184.5,604.6 181.53,605.4 178.56,606.2 175.59,606.99 172.62,607.8 169.65,608.58 166.68,609.23 163.71,609.88 160.74,610.53 157.77,611.18 154.8,611.8 151.83,612.05 148.86,612.32 145.89,612.58 142.92,612.86 139.95,613.14 136.98,613.52 134.01,613.9 131.04,614.31 128.07,614.73 125.1,615.17 122.13,615.49 119.16,615.83 116.19,616.2 113.22,616.58 110.25,616.96 107.28,616.94 104.31,616.94 101.34,616.95 98.37,616.97 95.4,616.98 92.43,616.77 89.46,616.56 86.49,616.35 83.52,616.15 80.55,615.96 77.58,615.63 74.61,615.27 71.64,614.91 68.67,614.55 65.7,614.2" fill="#999999" fill-opacity="0.4"/>
<polyline points="65.7,611.2 68.67,611.68 71.64,612.16 74.61,612.63 77.58,613.11 80.55,613.56 83.52,613.86 86.49,614.17 89.46,614.48 92.43,614.78 95.4,615.09 98.37,615.16 101.34,615.22 104.31,615.28 107.28,615.34 110.25,615.4 113.22,615.06 116.19,614.7 119.16,614.33 122.13,613.97 125.1,613.61 128.07,613.1 131.04,612.57 134.01,612.05 136.98,611.53 139.95,611.01 142.92,610.56 145.89,610.12 148.86,609.68 151.83,609.24 154.8,608.79 157.77,607.99 160.74,607.14 163.71,606.29 166.68,605.45 169.65,604.6 172.62,603.61 175.59,602.61 178.56,601.61 181.53,600.6 184.5,599.6" fill="none" stroke="#f31a20" stroke-width="2.4"/>
</g>
<rect x="59.85" y="537" width="131.25" height="101.9" fill="none" stroke="#3a3a3a" stroke-width="1.3"/>
<line x1="56.55" y1="635" x2="59.85" y2="635" stroke="#333333" stroke-width="1.3"/>
<text transform="translate(53.75,638.65) scale(1,1.06)" text-anchor="end" fill="#4d4d4d" font-size="10.1">0</text>
<line x1="56.55" y1="609.95" x2="59.85" y2="609.95" stroke="#333333" stroke-width="1.3"/>
<text transform="translate(53.75,613.6) scale(1,1.06)" text-anchor="end" fill="#4d4d4d" font-size="10.1">100</text>
<line x1="56.55" y1="584.9" x2="59.85" y2="584.9" stroke="#333333" stroke-width="1.3"/>
<text transform="translate(53.75,588.55) scale(1,1.06)" text-anchor="end" fill="#4d4d4d" font-size="10.1">200</text>
<line x1="56.55" y1="559.85" x2="59.85" y2="559.85" stroke="#333333" stroke-width="1.3"/>
<text transform="translate(53.75,563.5) scale(1,1.06)" text-anchor="end" fill="#4d4d4d" font-size="10.1">300</text>
<line x1="65.82" y1="638.9" x2="65.82" y2="642.2" stroke="#333333" stroke-width="1.3"/>
<text transform="translate(65.82,652.35) scale(1,1.06)" text-anchor="middle" fill="#4d4d4d" font-size="10.1">0.00</text>
<line x1="95.65" y1="638.9" x2="95.65" y2="642.2" stroke="#333333" stroke-width="1.3"/>
<text transform="translate(95.65,652.35) scale(1,1.06)" text-anchor="middle" fill="#4d4d4d" font-size="10.1">0.25</text>
<line x1="125.47" y1="638.9" x2="125.47" y2="642.2" stroke="#333333" stroke-width="1.3"/>
<text transform="translate(125.47,652.35) scale(1,1.06)" text-anchor="middle" fill="#4d4d4d" font-size="10.1">0.50</text>
<line x1="155.3" y1="638.9" x2="155.3" y2="642.2" stroke="#333333" stroke-width="1.3"/>
<text transform="translate(155.3,652.35) scale(1,1.06)" text-anchor="middle" fill="#4d4d4d" font-size="10.1">0.75</text>
<line x1="185.13" y1="638.9" x2="185.13" y2="642.2" stroke="#333333" stroke-width="1.3"/>
<text transform="translate(185.13,652.35) scale(1,1.06)" text-anchor="middle" fill="#4d4d4d" font-size="10.1">1.00</text>
<text transform="translate(62.5,548.4) scale(1,1.06)" fill="#000" stroke="#000" stroke-width="0.18" font-size="9.85">p &lt; 0.0739</text>
<rect x="220.75" y="516.5" width="131.45" height="20.5" fill="#fff" stroke="#3a3a3a" stroke-width="1.3"/>
<text transform="translate(286.48,530.45) scale(1,1.06)" text-anchor="middle" fill="#111" stroke="#111" stroke-width="0.22" font-size="10.5" font-style="italic">CXCR4</text>
<clipPath id="c220_537"><rect x="220.75" y="537" width="131.45" height="101.9"/></clipPath>
<g clip-path="url(#c220_537)">
<g fill="#000">
<circle cx="226.7" cy="581.58" r="2.7"/>
<circle cx="246.34" cy="581.88" r="2.7"/>
<circle cx="263.9" cy="589.61" r="2.7"/>
<circle cx="271.34" cy="591.85" r="2.7"/>
<circle cx="226.7" cy="599.73" r="2.7"/>
<circle cx="279.08" cy="604.2" r="2.7"/>
<circle cx="266.43" cy="604.94" r="2.7"/>
<circle cx="263.9" cy="609.11" r="2.7"/>
<circle cx="236.67" cy="615.36" r="2.7"/>
<circle cx="241.88" cy="619.82" r="2.7"/>
<circle cx="226.4" cy="612.38" r="2.7"/>
<circle cx="226.87" cy="615.98" r="2.7"/>
<circle cx="226.77" cy="619.57" r="2.7"/>
<circle cx="226.43" cy="623.17" r="2.7"/>
<circle cx="226.98" cy="626.77" r="2.7"/>
<circle cx="226.59" cy="630.36" r="2.7"/>
<circle cx="226.56" cy="633.96" r="2.7"/>
<circle cx="233.11" cy="619.82" r="2.7"/>
<circle cx="232.65" cy="623.36" r="2.7"/>
<circle cx="233.18" cy="626.89" r="2.7"/>
<circle cx="232.93" cy="630.42" r="2.7"/>
<circle cx="232.73" cy="633.96" r="2.7"/>
<circle cx="235.69" cy="617.59" r="2.7"/>
<circle cx="235.93" cy="621.68" r="2.7"/>
<circle cx="236.14" cy="625.77" r="2.7"/>
<circle cx="235.62" cy="629.87" r="2.7"/>
<circle cx="236.1" cy="633.96" r="2.7"/>
<circle cx="238.67" cy="619.82" r="2.7"/>
<circle cx="239.2" cy="623.36" r="2.7"/>
<circle cx="238.73" cy="626.89" r="2.7"/>
<circle cx="238.83" cy="630.42" r="2.7"/>
<circle cx="239.16" cy="633.96" r="2.7"/>
<circle cx="242.04" cy="624.29" r="2.7"/>
<circle cx="241.95" cy="627.76" r="2.7"/>
<circle cx="241.61" cy="631.23" r="2.7"/>
<circle cx="242.16" cy="634.7" r="2.7"/>
<circle cx="246.46" cy="624.29" r="2.7"/>
<circle cx="246.06" cy="628.75" r="2.7"/>
<circle cx="246.6" cy="633.21" r="2.7"/>
<circle cx="249.06" cy="624.29" r="2.7"/>
<circle cx="249.37" cy="628.75" r="2.7"/>
<circle cx="249.5" cy="633.21" r="2.7"/>
<circle cx="256.13" cy="611.64" r="2.7"/>
<circle cx="256.61" cy="615.36" r="2.7"/>
<circle cx="256.09" cy="619.08" r="2.7"/>
<circle cx="256.31" cy="622.8" r="2.7"/>
<circle cx="256.54" cy="626.52" r="2.7"/>
<circle cx="256.01" cy="630.24" r="2.7"/>
<circle cx="256.48" cy="633.96" r="2.7"/>
<circle cx="263.75" cy="618.33" r="2.7"/>
<circle cx="263.8" cy="621.68" r="2.7"/>
<circle cx="264.17" cy="625.03" r="2.7"/>
<circle cx="263.63" cy="628.38" r="2.7"/>
<circle cx="263.98" cy="631.73" r="2.7"/>
<circle cx="266.47" cy="612.38" r="2.7"/>
<circle cx="266.18" cy="616.4" r="2.7"/>
<circle cx="266.72" cy="620.42" r="2.7"/>
<circle cx="266.29" cy="624.43" r="2.7"/>
<circle cx="266.32" cy="628.45" r="2.7"/>
<circle cx="266.71" cy="632.47" r="2.7"/>
<circle cx="269.12" cy="619.82" r="2.7"/>
<circle cx="269.53" cy="623.17" r="2.7"/>
<circle cx="269.52" cy="626.52" r="2.7"/>
<circle cx="269.12" cy="629.87" r="2.7"/>
<circle cx="269.67" cy="633.21" r="2.7"/>
<circle cx="272.26" cy="618.33" r="2.7"/>
<circle cx="272.67" cy="622.05" r="2.7"/>
<circle cx="272.12" cy="625.77" r="2.7"/>
<circle cx="272.44" cy="629.49" r="2.7"/>
<circle cx="272.56" cy="633.21" r="2.7"/>
<circle cx="275.61" cy="619.82" r="2.7"/>
<circle cx="275.31" cy="623.36" r="2.7"/>
<circle cx="275.17" cy="626.89" r="2.7"/>
<circle cx="275.66" cy="630.42" r="2.7"/>
<circle cx="275.15" cy="633.96" r="2.7"/>
<circle cx="278.98" cy="612.38" r="2.7"/>
<circle cx="279.36" cy="616.55" r="2.7"/>
<circle cx="278.81" cy="620.71" r="2.7"/>
<circle cx="279.16" cy="624.88" r="2.7"/>
<circle cx="279.24" cy="629.05" r="2.7"/>
<circle cx="278.78" cy="633.21" r="2.7"/>
<circle cx="336" cy="541.5" r="2.7"/>
<circle cx="326" cy="549" r="2.7"/>
<circle cx="316.38" cy="578.38" r="2.7"/>
<circle cx="331.12" cy="579" r="2.7"/>
<circle cx="338.62" cy="581.25" r="2.7"/>
<circle cx="306.38" cy="583.75" r="2.7"/>
<circle cx="286.38" cy="587.5" r="2.7"/>
<circle cx="326" cy="587.75" r="2.7"/>
<circle cx="336" cy="591.5" r="2.7"/>
<circle cx="346.12" cy="596" r="2.7"/>
<circle cx="286.38" cy="599" r="2.7"/>
<circle cx="293.88" cy="603.5" r="2.7"/>
<circle cx="336" cy="602.5" r="2.7"/>
<circle cx="331.12" cy="606.25" r="2.7"/>
<circle cx="286.38" cy="613.12" r="2.7"/>
<circle cx="346.12" cy="613.12" r="2.7"/>
<circle cx="286.2" cy="617.5" r="2.7"/>
<circle cx="286.67" cy="621.25" r="2.7"/>
<circle cx="286.15" cy="625" r="2.7"/>
<circle cx="286.37" cy="628.75" r="2.7"/>
<circle cx="286.6" cy="632.5" r="2.7"/>
<circle cx="293.72" cy="622.5" r="2.7"/>
<circle cx="293.78" cy="625.83" r="2.7"/>
<circle cx="294.15" cy="629.17" r="2.7"/>
<circle cx="293.6" cy="632.5" r="2.7"/>
<circle cx="298.28" cy="621.25" r="2.7"/>
<circle cx="298.01" cy="625.42" r="2.7"/>
<circle cx="298.54" cy="629.58" r="2.7"/>
<circle cx="298.1" cy="633.75" r="2.7"/>
<circle cx="301.67" cy="621.25" r="2.7"/>
<circle cx="301.15" cy="625.42" r="2.7"/>
<circle cx="301.38" cy="629.58" r="2.7"/>
<circle cx="301.6" cy="633.75" r="2.7"/>
<circle cx="303.88" cy="618.75" r="2.7"/>
<circle cx="303.65" cy="622.5" r="2.7"/>
<circle cx="304.17" cy="626.25" r="2.7"/>
<circle cx="303.71" cy="630" r="2.7"/>
<circle cx="303.8" cy="633.75" r="2.7"/>
<circle cx="306.08" cy="603.12" r="2.7"/>
<circle cx="306.54" cy="606.56" r="2.7"/>
<circle cx="306.46" cy="610" r="2.7"/>
<circle cx="308.79" cy="603.12" r="2.7"/>
<circle cx="309.15" cy="607.5" r="2.7"/>
<circle cx="306.08" cy="620" r="2.7"/>
<circle cx="306.54" cy="623.44" r="2.7"/>
<circle cx="306.46" cy="626.88" r="2.7"/>
<circle cx="306.11" cy="630.31" r="2.7"/>
<circle cx="306.65" cy="633.75" r="2.7"/>
<circle cx="308.79" cy="618.75" r="2.7"/>
<circle cx="309.15" cy="622.5" r="2.7"/>
<circle cx="308.6" cy="626.25" r="2.7"/>
<circle cx="308.97" cy="630" r="2.7"/>
<circle cx="309.02" cy="633.75" r="2.7"/>
<circle cx="316.15" cy="605" r="2.7"/>
<circle cx="316.38" cy="608.93" r="2.7"/>
<circle cx="316.59" cy="612.86" r="2.7"/>
<circle cx="316.08" cy="616.79" r="2.7"/>
<circle cx="316.55" cy="620.71" r="2.7"/>
<circle cx="316.44" cy="624.64" r="2.7"/>
<circle cx="316.12" cy="628.57" r="2.7"/>
<circle cx="316.66" cy="632.5" r="2.7"/>
<circle cx="326.29" cy="600" r="2.7"/>
<circle cx="325.85" cy="603.59" r="2.7"/>
<circle cx="325.9" cy="607.19" r="2.7"/>
<circle cx="326.28" cy="610.78" r="2.7"/>
<circle cx="325.73" cy="614.38" r="2.7"/>
<circle cx="326.09" cy="617.97" r="2.7"/>
<circle cx="326.16" cy="621.56" r="2.7"/>
<circle cx="325.7" cy="625.16" r="2.7"/>
<circle cx="326.24" cy="628.75" r="2.7"/>
<circle cx="330.83" cy="626.25" r="2.7"/>
<circle cx="331.37" cy="629.38" r="2.7"/>
<circle cx="331.1" cy="632.5" r="2.7"/>
<circle cx="336.22" cy="611.25" r="2.7"/>
<circle cx="336.01" cy="614.79" r="2.7"/>
<circle cx="335.77" cy="618.33" r="2.7"/>
<circle cx="336.3" cy="621.88" r="2.7"/>
<circle cx="335.84" cy="625.42" r="2.7"/>
<circle cx="335.92" cy="628.96" r="2.7"/>
<circle cx="336.27" cy="632.5" r="2.7"/>
<circle cx="338.6" cy="615" r="2.7"/>
<circle cx="338.98" cy="618.5" r="2.7"/>
<circle cx="339.01" cy="622" r="2.7"/>
<circle cx="338.58" cy="625.5" r="2.7"/>
<circle cx="339.12" cy="629" r="2.7"/>
<circle cx="338.84" cy="632.5" r="2.7"/>
<circle cx="346.37" cy="621.25" r="2.7"/>
<circle cx="346.09" cy="624.38" r="2.7"/>
<circle cx="345.93" cy="627.5" r="2.7"/>
</g>
<polygon points="226.7,622.74 229.68,622.9 232.65,623.06 235.63,623.21 238.6,623.36 241.58,623.51 244.56,623.65 247.53,623.79 250.51,623.93 253.49,624.06 256.46,624.17 259.44,623.99 262.41,623.81 265.39,623.62 268.37,623.42 271.34,623.21 274.32,622.98 277.3,622.73 280.27,622.47 283.25,622.09 286.22,621.53 289.2,620.93 292.18,620.31 295.15,619.67 298.13,619.01 301.11,618.33 304.08,617.64 307.06,616.95 310.03,616.24 313.01,615.53 315.99,614.81 318.96,613.87 321.94,612.89 324.92,611.91 327.89,610.93 330.87,609.95 333.85,608.96 336.82,607.97 339.8,606.98 342.77,605.99 345.75,605 345.75,616.2 342.77,616.73 339.8,617.26 336.82,617.79 333.85,618.32 330.87,618.86 327.89,619.4 324.92,619.93 321.94,620.48 318.96,621.02 315.99,621.53 313.01,621.84 310.03,622.14 307.06,622.46 304.08,622.78 301.11,623.11 298.13,623.46 295.15,623.82 292.18,624.2 289.2,624.6 286.22,625.02 283.25,625.48 280.27,625.83 277.3,626.11 274.32,626.4 271.34,626.7 268.37,627.02 265.39,627.35 262.41,627.69 259.44,628.04 256.46,628.41 253.49,628.5 250.51,628.59 247.53,628.69 244.56,628.79 241.58,628.89 238.6,629 235.63,629.11 232.65,629.22 229.68,629.34 226.7,629.46" fill="#999999" fill-opacity="0.4"/>
<polyline points="226.7,626.1 229.68,626.12 232.65,626.14 235.63,626.16 238.6,626.18 241.58,626.2 244.56,626.22 247.53,626.24 250.51,626.26 253.49,626.28 256.46,626.29 259.44,626.02 262.41,625.75 265.39,625.49 268.37,625.22 271.34,624.95 274.32,624.69 277.3,624.42 280.27,624.15 283.25,623.79 286.22,623.28 289.2,622.76 292.18,622.25 295.15,621.74 298.13,621.23 301.11,620.72 304.08,620.21 307.06,619.7 310.03,619.19 313.01,618.68 315.99,618.17 318.96,617.44 321.94,616.68 324.92,615.92 327.89,615.16 330.87,614.4 333.85,613.64 336.82,612.88 339.8,612.12 342.77,611.36 345.75,610.6" fill="none" stroke="#f31a20" stroke-width="2.4"/>
</g>
<rect x="220.75" y="537" width="131.45" height="101.9" fill="none" stroke="#3a3a3a" stroke-width="1.3"/>
<line x1="217.45" y1="634.4" x2="220.75" y2="634.4" stroke="#333333" stroke-width="1.3"/>
<text transform="translate(214.65,638.05) scale(1,1.06)" text-anchor="end" fill="#4d4d4d" font-size="10.1">0</text>
<line x1="217.45" y1="602.17" x2="220.75" y2="602.17" stroke="#333333" stroke-width="1.3"/>
<text transform="translate(214.65,605.82) scale(1,1.06)" text-anchor="end" fill="#4d4d4d" font-size="10.1">100</text>
<line x1="217.45" y1="569.93" x2="220.75" y2="569.93" stroke="#333333" stroke-width="1.3"/>
<text transform="translate(214.65,573.58) scale(1,1.06)" text-anchor="end" fill="#4d4d4d" font-size="10.1">200</text>
<line x1="217.45" y1="537.7" x2="220.75" y2="537.7" stroke="#333333" stroke-width="1.3"/>
<text transform="translate(214.65,541.35) scale(1,1.06)" text-anchor="end" fill="#4d4d4d" font-size="10.1">300</text>
<line x1="226.72" y1="638.9" x2="226.72" y2="642.2" stroke="#333333" stroke-width="1.3"/>
<text transform="translate(226.72,652.35) scale(1,1.06)" text-anchor="middle" fill="#4d4d4d" font-size="10.1">0.00</text>
<line x1="256.6" y1="638.9" x2="256.6" y2="642.2" stroke="#333333" stroke-width="1.3"/>
<text transform="translate(256.6,652.35) scale(1,1.06)" text-anchor="middle" fill="#4d4d4d" font-size="10.1">0.25</text>
<line x1="286.48" y1="638.9" x2="286.48" y2="642.2" stroke="#333333" stroke-width="1.3"/>
<text transform="translate(286.48,652.35) scale(1,1.06)" text-anchor="middle" fill="#4d4d4d" font-size="10.1">0.50</text>
<line x1="316.35" y1="638.9" x2="316.35" y2="642.2" stroke="#333333" stroke-width="1.3"/>
<text transform="translate(316.35,652.35) scale(1,1.06)" text-anchor="middle" fill="#4d4d4d" font-size="10.1">0.75</text>
<line x1="346.22" y1="638.9" x2="346.22" y2="642.2" stroke="#333333" stroke-width="1.3"/>
<text transform="translate(346.22,652.35) scale(1,1.06)" text-anchor="middle" fill="#4d4d4d" font-size="10.1">1.00</text>
<text transform="translate(223.5,548.4) scale(1,1.06)" fill="#000" stroke="#000" stroke-width="0.18" font-size="9.85">p &lt; 0.0001</text>
<rect x="381.8" y="516.5" width="131.6" height="20.5" fill="#fff" stroke="#3a3a3a" stroke-width="1.3"/>
<text transform="translate(447.6,530.45) scale(1,1.06)" text-anchor="middle" fill="#111" stroke="#111" stroke-width="0.22" font-size="10.5" font-style="italic">ITGA2B</text>
<clipPath id="c381_537"><rect x="381.8" y="537" width="131.6" height="101.9"/></clipPath>
<g clip-path="url(#c381_537)">
<g fill="#000">
<circle cx="427.43" cy="615.36" r="2.7"/>
<circle cx="407.34" cy="619.08" r="2.7"/>
<circle cx="395.14" cy="620.27" r="2.7"/>
<circle cx="402.58" cy="622.05" r="2.7"/>
<circle cx="427.43" cy="622.05" r="2.7"/>
<circle cx="387.4" cy="619.82" r="2.7"/>
<circle cx="387.87" cy="623.54" r="2.7"/>
<circle cx="387.77" cy="627.26" r="2.7"/>
<circle cx="387.43" cy="630.98" r="2.7"/>
<circle cx="387.98" cy="634.7" r="2.7"/>
<circle cx="394.11" cy="623.54" r="2.7"/>
<circle cx="393.65" cy="627.26" r="2.7"/>
<circle cx="394.18" cy="630.98" r="2.7"/>
<circle cx="393.93" cy="634.7" r="2.7"/>
<circle cx="396.69" cy="624.29" r="2.7"/>
<circle cx="396.93" cy="627.76" r="2.7"/>
<circle cx="397.14" cy="631.23" r="2.7"/>
<circle cx="396.62" cy="634.7" r="2.7"/>
<circle cx="399.67" cy="624.29" r="2.7"/>
<circle cx="400.2" cy="627.76" r="2.7"/>
<circle cx="399.73" cy="631.23" r="2.7"/>
<circle cx="399.83" cy="634.7" r="2.7"/>
<circle cx="403.04" cy="624.29" r="2.7"/>
<circle cx="402.95" cy="627.76" r="2.7"/>
<circle cx="402.61" cy="631.23" r="2.7"/>
<circle cx="403.16" cy="634.7" r="2.7"/>
<circle cx="407.46" cy="623.54" r="2.7"/>
<circle cx="407.06" cy="627.26" r="2.7"/>
<circle cx="407.6" cy="630.98" r="2.7"/>
<circle cx="407.28" cy="634.7" r="2.7"/>
<circle cx="410.06" cy="627.26" r="2.7"/>
<circle cx="410.37" cy="630.98" r="2.7"/>
<circle cx="410.5" cy="634.7" r="2.7"/>
<circle cx="417.13" cy="624.29" r="2.7"/>
<circle cx="417.61" cy="627.76" r="2.7"/>
<circle cx="417.09" cy="631.23" r="2.7"/>
<circle cx="417.31" cy="634.7" r="2.7"/>
<circle cx="424.75" cy="624.29" r="2.7"/>
<circle cx="424.8" cy="627.76" r="2.7"/>
<circle cx="425.17" cy="631.23" r="2.7"/>
<circle cx="424.63" cy="634.7" r="2.7"/>
<circle cx="427.47" cy="618.33" r="2.7"/>
<circle cx="427.18" cy="622.43" r="2.7"/>
<circle cx="427.72" cy="626.52" r="2.7"/>
<circle cx="427.29" cy="630.61" r="2.7"/>
<circle cx="427.32" cy="634.7" r="2.7"/>
<circle cx="430.12" cy="627.26" r="2.7"/>
<circle cx="430.53" cy="630.98" r="2.7"/>
<circle cx="430.52" cy="634.7" r="2.7"/>
<circle cx="433.26" cy="627.26" r="2.7"/>
<circle cx="433.67" cy="630.98" r="2.7"/>
<circle cx="433.12" cy="634.7" r="2.7"/>
<circle cx="436.81" cy="621.31" r="2.7"/>
<circle cx="437.25" cy="624.66" r="2.7"/>
<circle cx="437.19" cy="628.01" r="2.7"/>
<circle cx="436.83" cy="631.35" r="2.7"/>
<circle cx="437.37" cy="634.7" r="2.7"/>
<circle cx="439.98" cy="622.8" r="2.7"/>
<circle cx="440.36" cy="626.77" r="2.7"/>
<circle cx="439.81" cy="630.73" r="2.7"/>
<circle cx="440.16" cy="634.7" r="2.7"/>
<circle cx="467.25" cy="541.5" r="2.7"/>
<circle cx="477.12" cy="569.75" r="2.7"/>
<circle cx="447.5" cy="578.75" r="2.7"/>
<circle cx="487.12" cy="590" r="2.7"/>
<circle cx="487.12" cy="598.75" r="2.7"/>
<circle cx="487.12" cy="603.12" r="2.7"/>
<circle cx="455" cy="610" r="2.7"/>
<circle cx="455" cy="614.38" r="2.7"/>
<circle cx="477.12" cy="611.25" r="2.7"/>
<circle cx="492.12" cy="612.5" r="2.7"/>
<circle cx="500" cy="613.12" r="2.7"/>
<circle cx="500" cy="616.25" r="2.7"/>
<circle cx="447.23" cy="618.75" r="2.7"/>
<circle cx="447.59" cy="622.5" r="2.7"/>
<circle cx="447.65" cy="626.25" r="2.7"/>
<circle cx="447.21" cy="630" r="2.7"/>
<circle cx="447.74" cy="633.75" r="2.7"/>
<circle cx="455.22" cy="625" r="2.7"/>
<circle cx="454.7" cy="629.38" r="2.7"/>
<circle cx="455.18" cy="633.75" r="2.7"/>
<circle cx="459.73" cy="625" r="2.7"/>
<circle cx="460.28" cy="629.38" r="2.7"/>
<circle cx="459.89" cy="633.75" r="2.7"/>
<circle cx="462.6" cy="626.25" r="2.7"/>
<circle cx="462.65" cy="630" r="2.7"/>
<circle cx="462.21" cy="633.75" r="2.7"/>
<circle cx="467.54" cy="620" r="2.7"/>
<circle cx="467" cy="623.44" r="2.7"/>
<circle cx="467.29" cy="626.88" r="2.7"/>
<circle cx="467.45" cy="630.31" r="2.7"/>
<circle cx="466.95" cy="633.75" r="2.7"/>
<circle cx="477.28" cy="620" r="2.7"/>
<circle cx="477.21" cy="623.44" r="2.7"/>
<circle cx="476.85" cy="626.88" r="2.7"/>
<circle cx="477.4" cy="630.31" r="2.7"/>
<circle cx="477.03" cy="633.75" r="2.7"/>
<circle cx="487.13" cy="610" r="2.7"/>
<circle cx="487.35" cy="614" r="2.7"/>
<circle cx="486.83" cy="618" r="2.7"/>
<circle cx="487.3" cy="622" r="2.7"/>
<circle cx="487.19" cy="626" r="2.7"/>
<circle cx="486.86" cy="630" r="2.7"/>
<circle cx="489.88" cy="622.5" r="2.7"/>
<circle cx="489.87" cy="625.83" r="2.7"/>
<circle cx="490.29" cy="629.17" r="2.7"/>
<circle cx="489.75" cy="632.5" r="2.7"/>
<circle cx="497.8" cy="618.75" r="2.7"/>
<circle cx="497.3" cy="622.19" r="2.7"/>
<circle cx="497.46" cy="625.62" r="2.7"/>
<circle cx="497.75" cy="629.06" r="2.7"/>
<circle cx="497.21" cy="632.5" r="2.7"/>
<circle cx="500.04" cy="622.5" r="2.7"/>
<circle cx="499.75" cy="625.83" r="2.7"/>
<circle cx="500.29" cy="629.17" r="2.7"/>
<circle cx="499.87" cy="632.5" r="2.7"/>
<circle cx="507.75" cy="620" r="2.7"/>
<circle cx="507.45" cy="624.17" r="2.7"/>
<circle cx="507.31" cy="628.33" r="2.7"/>
<circle cx="507.8" cy="632.5" r="2.7"/>
</g>
<polygon points="387.7,628.7 390.69,628.62 393.67,628.53 396.65,628.44 399.64,628.35 402.62,628.26 405.61,628.17 408.59,628.08 411.58,627.98 414.56,627.88 417.55,627.78 420.53,627.67 423.52,627.57 426.5,627.46 429.49,627.34 432.48,627.23 435.46,627.11 438.44,626.98 441.43,626.85 444.42,626.72 447.4,626.56 450.38,626.31 453.37,626.05 456.36,625.78 459.34,625.51 462.33,625.23 465.31,624.94 468.3,624.64 471.28,624.35 474.26,624.05 477.25,623.74 480.24,623.44 483.22,623.13 486.21,622.81 489.19,622.5 492.18,622.19 495.16,621.87 498.14,621.56 501.13,621.24 504.12,620.92 507.1,620.6 507.1,625.6 504.12,625.73 501.13,625.86 498.14,625.99 495.16,626.12 492.18,626.25 489.19,626.39 486.21,626.52 483.22,626.66 480.24,626.8 477.25,626.94 474.26,627.09 471.28,627.23 468.3,627.39 465.31,627.54 462.33,627.7 459.34,627.87 456.36,628.04 453.37,628.22 450.38,628.41 447.4,628.61 444.42,628.73 441.43,628.85 438.44,628.98 435.46,629.12 432.48,629.26 429.49,629.4 426.5,629.55 423.52,629.7 420.53,629.86 417.55,630.01 414.56,630.17 411.58,630.33 408.59,630.5 405.61,630.66 402.62,630.83 399.64,631 396.65,631.18 393.67,631.35 390.69,631.52 387.7,631.7" fill="#999999" fill-opacity="0.4"/>
<polyline points="387.7,630.2 390.69,630.07 393.67,629.94 396.65,629.81 399.64,629.68 402.62,629.55 405.61,629.42 408.59,629.29 411.58,629.16 414.56,629.03 417.55,628.9 420.53,628.77 423.52,628.63 426.5,628.5 429.49,628.37 432.48,628.24 435.46,628.11 438.44,627.98 441.43,627.85 444.42,627.72 447.4,627.58 450.38,627.36 453.37,627.14 456.36,626.91 459.34,626.69 462.33,626.46 465.31,626.24 468.3,626.02 471.28,625.79 474.26,625.57 477.25,625.34 480.24,625.12 483.22,624.89 486.21,624.67 489.19,624.45 492.18,624.22 495.16,624 498.14,623.77 501.13,623.55 504.12,623.32 507.1,623.1" fill="none" stroke="#f31a20" stroke-width="2.4"/>
</g>
<rect x="381.8" y="537" width="131.6" height="101.9" fill="none" stroke="#3a3a3a" stroke-width="1.3"/>
<line x1="378.5" y1="634.25" x2="381.8" y2="634.25" stroke="#333333" stroke-width="1.3"/>
<text transform="translate(375.7,637.9) scale(1,1.06)" text-anchor="end" fill="#4d4d4d" font-size="10.1">0</text>
<line x1="378.5" y1="599.38" x2="381.8" y2="599.38" stroke="#333333" stroke-width="1.3"/>
<text transform="translate(375.7,603.02) scale(1,1.06)" text-anchor="end" fill="#4d4d4d" font-size="10.1">1</text>
<line x1="378.5" y1="564.5" x2="381.8" y2="564.5" stroke="#333333" stroke-width="1.3"/>
<text transform="translate(375.7,568.15) scale(1,1.06)" text-anchor="end" fill="#4d4d4d" font-size="10.1">2</text>
<line x1="387.78" y1="638.9" x2="387.78" y2="642.2" stroke="#333333" stroke-width="1.3"/>
<text transform="translate(387.78,652.35) scale(1,1.06)" text-anchor="middle" fill="#4d4d4d" font-size="10.1">0.00</text>
<line x1="417.69" y1="638.9" x2="417.69" y2="642.2" stroke="#333333" stroke-width="1.3"/>
<text transform="translate(417.69,652.35) scale(1,1.06)" text-anchor="middle" fill="#4d4d4d" font-size="10.1">0.25</text>
<line x1="447.6" y1="638.9" x2="447.6" y2="642.2" stroke="#333333" stroke-width="1.3"/>
<text transform="translate(447.6,652.35) scale(1,1.06)" text-anchor="middle" fill="#4d4d4d" font-size="10.1">0.50</text>
<line x1="477.51" y1="638.9" x2="477.51" y2="642.2" stroke="#333333" stroke-width="1.3"/>
<text transform="translate(477.51,652.35) scale(1,1.06)" text-anchor="middle" fill="#4d4d4d" font-size="10.1">0.75</text>
<line x1="507.42" y1="638.9" x2="507.42" y2="642.2" stroke="#333333" stroke-width="1.3"/>
<text transform="translate(507.42,652.35) scale(1,1.06)" text-anchor="middle" fill="#4d4d4d" font-size="10.1">1.00</text>
<text transform="translate(384.5,548.4) scale(1,1.06)" fill="#000" stroke="#000" stroke-width="0.18" font-size="9.85">p &lt; 0.0001</text>
<rect x="548.7" y="516.5" width="131.3" height="20.5" fill="#fff" stroke="#3a3a3a" stroke-width="1.3"/>
<text transform="translate(614.35,530.45) scale(1,1.06)" text-anchor="middle" fill="#111" stroke="#111" stroke-width="0.22" font-size="10.5" font-style="italic">ITGA4</text>
<clipPath id="c548_537"><rect x="548.7" y="537" width="131.3" height="101.9"/></clipPath>
<g clip-path="url(#c548_537)">
<g fill="#000">
<circle cx="574.61" cy="556.58" r="2.7"/>
<circle cx="591.88" cy="571.9" r="2.7"/>
<circle cx="594.4" cy="566.7" r="2.7"/>
<circle cx="554.67" cy="593.78" r="2.7"/>
<circle cx="554.67" cy="596.76" r="2.7"/>
<circle cx="562.11" cy="603.15" r="2.7"/>
<circle cx="554.67" cy="607.17" r="2.7"/>
<circle cx="569.4" cy="607.92" r="2.7"/>
<circle cx="576.55" cy="633.96" r="2.7"/>
<circle cx="554.38" cy="613.87" r="2.7"/>
<circle cx="554.92" cy="617.74" r="2.7"/>
<circle cx="554.62" cy="621.61" r="2.7"/>
<circle cx="554.48" cy="625.47" r="2.7"/>
<circle cx="554.97" cy="629.34" r="2.7"/>
<circle cx="554.46" cy="633.21" r="2.7"/>
<circle cx="560.94" cy="612.38" r="2.7"/>
<circle cx="560.69" cy="616.1" r="2.7"/>
<circle cx="561.22" cy="619.82" r="2.7"/>
<circle cx="560.76" cy="623.54" r="2.7"/>
<circle cx="560.84" cy="627.26" r="2.7"/>
<circle cx="561.19" cy="630.98" r="2.7"/>
<circle cx="560.64" cy="634.7" r="2.7"/>
<circle cx="563.63" cy="612.38" r="2.7"/>
<circle cx="564.18" cy="616.1" r="2.7"/>
<circle cx="563.8" cy="619.82" r="2.7"/>
<circle cx="563.76" cy="623.54" r="2.7"/>
<circle cx="564.19" cy="627.26" r="2.7"/>
<circle cx="563.65" cy="630.98" r="2.7"/>
<circle cx="563.94" cy="634.7" r="2.7"/>
<circle cx="567.13" cy="615.36" r="2.7"/>
<circle cx="566.84" cy="618.93" r="2.7"/>
<circle cx="566.68" cy="622.5" r="2.7"/>
<circle cx="567.18" cy="626.07" r="2.7"/>
<circle cx="566.68" cy="629.64" r="2.7"/>
<circle cx="566.85" cy="633.21" r="2.7"/>
<circle cx="570.47" cy="615.36" r="2.7"/>
<circle cx="570.48" cy="618.93" r="2.7"/>
<circle cx="570.88" cy="622.5" r="2.7"/>
<circle cx="570.34" cy="626.07" r="2.7"/>
<circle cx="570.66" cy="629.64" r="2.7"/>
<circle cx="570.78" cy="633.21" r="2.7"/>
<circle cx="574.29" cy="618.33" r="2.7"/>
<circle cx="574.56" cy="622.05" r="2.7"/>
<circle cx="574.03" cy="625.77" r="2.7"/>
<circle cx="574.47" cy="629.49" r="2.7"/>
<circle cx="574.42" cy="633.21" r="2.7"/>
<circle cx="577.57" cy="612.38" r="2.7"/>
<circle cx="577.02" cy="616.25" r="2.7"/>
<circle cx="577.38" cy="620.12" r="2.7"/>
<circle cx="577.45" cy="623.99" r="2.7"/>
<circle cx="577" cy="627.86" r="2.7"/>
<circle cx="577.53" cy="631.73" r="2.7"/>
<circle cx="614" cy="541.5" r="2.7"/>
<circle cx="654.12" cy="549.12" r="2.7"/>
<circle cx="634.12" cy="557.12" r="2.7"/>
<circle cx="659" cy="572.75" r="2.7"/>
<circle cx="666.5" cy="577.75" r="2.7"/>
<circle cx="659" cy="588.12" r="2.7"/>
<circle cx="663.75" cy="595" r="2.7"/>
<circle cx="666.5" cy="596.25" r="2.7"/>
<circle cx="663.75" cy="600" r="2.7"/>
<circle cx="673.75" cy="599.75" r="2.7"/>
<circle cx="644.12" cy="617.5" r="2.7"/>
<circle cx="654.12" cy="619.75" r="2.7"/>
<circle cx="659" cy="628.5" r="2.7"/>
<circle cx="663.75" cy="631.5" r="2.7"/>
<circle cx="644.12" cy="628.12" r="2.7"/>
<circle cx="644.12" cy="631.25" r="2.7"/>
<circle cx="643.82" cy="587.5" r="2.7"/>
<circle cx="644.33" cy="591.07" r="2.7"/>
<circle cx="644.13" cy="594.64" r="2.7"/>
<circle cx="643.89" cy="598.21" r="2.7"/>
<circle cx="644.42" cy="601.79" r="2.7"/>
<circle cx="643.96" cy="605.36" r="2.7"/>
<circle cx="644.04" cy="608.93" r="2.7"/>
<circle cx="644.39" cy="612.5" r="2.7"/>
<circle cx="653.91" cy="585" r="2.7"/>
<circle cx="654.42" cy="588.75" r="2.7"/>
<circle cx="653.93" cy="592.5" r="2.7"/>
<circle cx="654.07" cy="596.25" r="2.7"/>
<circle cx="654.37" cy="600" r="2.7"/>
<circle cx="653.83" cy="603.75" r="2.7"/>
<circle cx="653.91" cy="610" r="2.7"/>
<circle cx="654.42" cy="613.12" r="2.7"/>
<circle cx="653.93" cy="616.25" r="2.7"/>
<circle cx="659.15" cy="612.5" r="2.7"/>
<circle cx="658.71" cy="616.67" r="2.7"/>
<circle cx="659.24" cy="620.83" r="2.7"/>
<circle cx="658.97" cy="625" r="2.7"/>
<circle cx="663.65" cy="610" r="2.7"/>
<circle cx="664.03" cy="614.06" r="2.7"/>
<circle cx="663.48" cy="618.12" r="2.7"/>
<circle cx="663.83" cy="622.19" r="2.7"/>
<circle cx="663.91" cy="626.25" r="2.7"/>
<circle cx="666.8" cy="616.25" r="2.7"/>
<circle cx="666.29" cy="620.62" r="2.7"/>
<circle cx="666.47" cy="625" r="2.7"/>
<circle cx="673.86" cy="606.25" r="2.7"/>
<circle cx="673.88" cy="609.69" r="2.7"/>
<circle cx="673.46" cy="613.12" r="2.7"/>
<circle cx="674" cy="616.56" r="2.7"/>
<circle cx="673.7" cy="620" r="2.7"/>
<circle cx="584.56" cy="605.14" r="2.7"/>
<circle cx="584.43" cy="608.75" r="2.7"/>
<circle cx="584.12" cy="612.37" r="2.7"/>
<circle cx="584.67" cy="615.98" r="2.7"/>
<circle cx="584.25" cy="619.59" r="2.7"/>
<circle cx="584.26" cy="623.2" r="2.7"/>
<circle cx="584.66" cy="626.81" r="2.7"/>
<circle cx="584.12" cy="630.43" r="2.7"/>
<circle cx="584.44" cy="634.04" r="2.7"/>
<circle cx="591.82" cy="592.01" r="2.7"/>
<circle cx="591.7" cy="602.51" r="2.7"/>
<circle cx="592.11" cy="606.36" r="2.7"/>
<circle cx="591.56" cy="610.22" r="2.7"/>
<circle cx="591.88" cy="614.07" r="2.7"/>
<circle cx="592" cy="617.93" r="2.7"/>
<circle cx="591.52" cy="621.78" r="2.7"/>
<circle cx="594.28" cy="623.53" r="2.7"/>
<circle cx="593.93" cy="626.16" r="2.7"/>
<circle cx="598.54" cy="603.39" r="2.7"/>
<circle cx="598.98" cy="606.89" r="2.7"/>
<circle cx="598.54" cy="611.27" r="2.7"/>
<circle cx="598.98" cy="613.9" r="2.7"/>
<circle cx="598.54" cy="621.78" r="2.7"/>
<circle cx="598.98" cy="625.28" r="2.7"/>
<circle cx="598.93" cy="628.79" r="2.7"/>
<circle cx="598.55" cy="632.29" r="2.7"/>
<circle cx="603.94" cy="599.89" r="2.7"/>
<circle cx="603.44" cy="602.51" r="2.7"/>
<circle cx="603.94" cy="610.39" r="2.7"/>
<circle cx="603.44" cy="615.65" r="2.7"/>
<circle cx="603.94" cy="621.78" r="2.7"/>
<circle cx="603.44" cy="626.16" r="2.7"/>
<circle cx="603.94" cy="632.29" r="2.7"/>
<circle cx="603.44" cy="634.91" r="2.7"/>
<circle cx="606.19" cy="597.26" r="2.7"/>
<circle cx="606.11" cy="599.01" r="2.7"/>
<circle cx="606.19" cy="611.27" r="2.7"/>
<circle cx="606.11" cy="613.9" r="2.7"/>
<circle cx="606.19" cy="625.28" r="2.7"/>
<circle cx="606.11" cy="628.78" r="2.7"/>
<circle cx="614.15" cy="590.25" r="2.7"/>
<circle cx="614.29" cy="599.89" r="2.7"/>
<circle cx="613.86" cy="603.49" r="2.7"/>
<circle cx="614.4" cy="607.09" r="2.7"/>
<circle cx="614.11" cy="610.69" r="2.7"/>
<circle cx="613.95" cy="614.29" r="2.7"/>
<circle cx="614.45" cy="617.89" r="2.7"/>
<circle cx="613.95" cy="621.49" r="2.7"/>
<circle cx="614.12" cy="625.09" r="2.7"/>
<circle cx="614.39" cy="628.69" r="2.7"/>
<circle cx="613.86" cy="632.29" r="2.7"/>
<circle cx="621.59" cy="588.94" r="2.7"/>
<circle cx="621.59" cy="599.01" r="2.7"/>
<circle cx="621.89" cy="605.14" r="2.7"/>
<circle cx="621.39" cy="607.77" r="2.7"/>
<circle cx="621.89" cy="613.9" r="2.7"/>
<circle cx="621.39" cy="617.62" r="2.7"/>
<circle cx="621.56" cy="621.34" r="2.7"/>
<circle cx="621.83" cy="625.06" r="2.7"/>
<circle cx="621.3" cy="628.78" r="2.7"/>
<circle cx="629.19" cy="603.39" r="2.7"/>
<circle cx="629.14" cy="607.22" r="2.7"/>
<circle cx="628.76" cy="611.05" r="2.7"/>
<circle cx="629.31" cy="614.88" r="2.7"/>
<circle cx="628.96" cy="618.71" r="2.7"/>
<circle cx="628.88" cy="622.55" r="2.7"/>
<circle cx="629.34" cy="626.38" r="2.7"/>
<circle cx="628.81" cy="630.21" r="2.7"/>
<circle cx="629.06" cy="634.04" r="2.7"/>
<circle cx="632.6" cy="603.39" r="2.7"/>
<circle cx="632.28" cy="607.77" r="2.7"/>
<circle cx="632.6" cy="620.03" r="2.7"/>
<circle cx="632.28" cy="623.53" r="2.7"/>
<circle cx="632.83" cy="627.03" r="2.7"/>
<circle cx="635.81" cy="605.14" r="2.7"/>
<circle cx="636.34" cy="608.64" r="2.7"/>
<circle cx="635.88" cy="612.15" r="2.7"/>
<circle cx="635.81" cy="621.78" r="2.7"/>
<circle cx="636.34" cy="625.87" r="2.7"/>
<circle cx="635.88" cy="629.95" r="2.7"/>
<circle cx="635.96" cy="634.04" r="2.7"/>
<circle cx="595.76" cy="611.27" r="2.7"/>
<circle cx="601.02" cy="618.27" r="2.7"/>
<circle cx="625.53" cy="607.77" r="2.7"/>
<circle cx="625.53" cy="621.78" r="2.7"/>
<circle cx="631.66" cy="613.9" r="2.7"/>
</g>
<polygon points="554.7,619.86 557.67,619.6 560.64,619.34 563.61,619.08 566.58,618.81 569.55,618.54 572.52,618.27 575.49,617.99 578.46,617.72 581.43,617.43 584.4,617.14 587.37,616.85 590.34,616.55 593.31,616.24 596.28,615.92 599.25,615.59 602.22,615.25 605.19,614.9 608.16,614.51 611.13,614.11 614.1,613.68 617.07,613.23 620.04,612.75 623.01,612.26 625.98,611.75 628.95,611.23 631.92,610.7 634.89,610.16 637.86,609.61 640.83,609.06 643.8,608.51 646.77,607.95 649.74,607.39 652.71,606.83 655.68,606.27 658.65,605.7 661.62,605.13 664.59,604.56 667.56,603.99 670.53,603.42 673.5,602.85 673.5,611.65 670.53,611.86 667.56,612.07 664.59,612.28 661.62,612.49 658.65,612.7 655.68,612.92 652.71,613.13 649.74,613.35 646.77,613.57 643.8,613.79 640.83,614.02 637.86,614.25 634.89,614.49 631.92,614.73 628.95,614.98 625.98,615.24 623.01,615.51 620.04,615.8 617.07,616.1 614.1,616.43 611.13,616.78 608.16,617.15 605.19,617.55 602.22,617.94 599.25,618.34 596.28,618.75 593.31,619.17 590.34,619.6 587.37,620.03 584.4,620.48 581.43,620.92 578.46,621.38 575.49,621.84 572.52,622.3 569.55,622.77 566.58,623.24 563.61,623.71 560.64,624.19 557.67,624.66 554.7,625.14" fill="#999999" fill-opacity="0.4"/>
<polyline points="554.7,622.5 557.67,622.13 560.64,621.76 563.61,621.39 566.58,621.02 569.55,620.65 572.52,620.29 575.49,619.92 578.46,619.55 581.43,619.18 584.4,618.81 587.37,618.44 590.34,618.07 593.31,617.7 596.28,617.33 599.25,616.96 602.22,616.6 605.19,616.23 608.16,615.83 611.13,615.44 614.1,615.05 617.07,614.66 620.04,614.27 623.01,613.88 625.98,613.49 628.95,613.1 631.92,612.71 634.89,612.32 637.86,611.93 640.83,611.54 643.8,611.15 646.77,610.76 649.74,610.37 652.71,609.98 655.68,609.59 658.65,609.2 661.62,608.81 664.59,608.42 667.56,608.03 670.53,607.64 673.5,607.25" fill="none" stroke="#f31a20" stroke-width="2.4"/>
</g>
<rect x="548.7" y="537" width="131.3" height="101.9" fill="none" stroke="#3a3a3a" stroke-width="1.3"/>
<line x1="545.4" y1="634.4" x2="548.7" y2="634.4" stroke="#333333" stroke-width="1.3"/>
<text transform="translate(542.6,638.05) scale(1,1.06)" text-anchor="end" fill="#4d4d4d" font-size="10.1">0</text>
<line x1="545.4" y1="607.07" x2="548.7" y2="607.07" stroke="#333333" stroke-width="1.3"/>
<text transform="translate(542.6,610.72) scale(1,1.06)" text-anchor="end" fill="#4d4d4d" font-size="10.1">10</text>
<line x1="545.4" y1="579.73" x2="548.7" y2="579.73" stroke="#333333" stroke-width="1.3"/>
<text transform="translate(542.6,583.38) scale(1,1.06)" text-anchor="end" fill="#4d4d4d" font-size="10.1">20</text>
<line x1="545.4" y1="552.4" x2="548.7" y2="552.4" stroke="#333333" stroke-width="1.3"/>
<text transform="translate(542.6,556.05) scale(1,1.06)" text-anchor="end" fill="#4d4d4d" font-size="10.1">30</text>
<line x1="554.67" y1="638.9" x2="554.67" y2="642.2" stroke="#333333" stroke-width="1.3"/>
<text transform="translate(554.67,652.35) scale(1,1.06)" text-anchor="middle" fill="#4d4d4d" font-size="10.1">0.00</text>
<line x1="584.51" y1="638.9" x2="584.51" y2="642.2" stroke="#333333" stroke-width="1.3"/>
<text transform="translate(584.51,652.35) scale(1,1.06)" text-anchor="middle" fill="#4d4d4d" font-size="10.1">0.25</text>
<line x1="614.35" y1="638.9" x2="614.35" y2="642.2" stroke="#333333" stroke-width="1.3"/>
<text transform="translate(614.35,652.35) scale(1,1.06)" text-anchor="middle" fill="#4d4d4d" font-size="10.1">0.50</text>
<line x1="644.19" y1="638.9" x2="644.19" y2="642.2" stroke="#333333" stroke-width="1.3"/>
<text transform="translate(644.19,652.35) scale(1,1.06)" text-anchor="middle" fill="#4d4d4d" font-size="10.1">0.75</text>
<line x1="674.03" y1="638.9" x2="674.03" y2="642.2" stroke="#333333" stroke-width="1.3"/>
<text transform="translate(674.03,652.35) scale(1,1.06)" text-anchor="middle" fill="#4d4d4d" font-size="10.1">1.00</text>
<text transform="translate(552.2,548.4) scale(1,1.06)" fill="#000" stroke="#000" stroke-width="0.18" font-size="9.85">p &lt; 0.0001</text>
<rect x="59.85" y="1.3" width="453.55" height="20.1" fill="#fff" stroke="#3a3a3a" stroke-width="1.3"/>
<text transform="translate(286.62,15.05) scale(1,1.06)" text-anchor="middle" fill="#111" stroke="#111" stroke-width="0.22" font-size="10.5">T cells</text>
<rect x="548.7" y="1.3" width="131.3" height="20.1" fill="#fff" stroke="#3a3a3a" stroke-width="1.3"/>
<text transform="translate(614.35,15.05) scale(1,1.06)" text-anchor="middle" fill="#111" stroke="#111" stroke-width="0.22" font-size="10.5">B cells</text>
<rect x="59.85" y="166.2" width="453.55" height="20.3" fill="#fff" stroke="#3a3a3a" stroke-width="1.3"/>
<text transform="translate(286.62,180.05) scale(1,1.06)" text-anchor="middle" fill="#111" stroke="#111" stroke-width="0.22" font-size="10.5">TH2</text>
<rect x="548.7" y="166.2" width="131.3" height="20.3" fill="#fff" stroke="#3a3a3a" stroke-width="1.3"/>
<text transform="translate(614.35,180.05) scale(1,1.06)" text-anchor="middle" fill="#111" stroke="#111" stroke-width="0.22" font-size="10.5">Eosinophils</text>
<rect x="59.85" y="331.35" width="292.35" height="20.15" fill="#fff" stroke="#3a3a3a" stroke-width="1.3"/>
<text transform="translate(206.03,345.12) scale(1,1.06)" text-anchor="middle" fill="#111" stroke="#111" stroke-width="0.22" font-size="10.5">TH1</text>
<rect x="381.8" y="331.35" width="298.2" height="20.15" fill="#fff" stroke="#3a3a3a" stroke-width="1.3"/>
<text transform="translate(530.9,345.12) scale(1,1.06)" text-anchor="middle" fill="#111" stroke="#111" stroke-width="0.22" font-size="10.5">Macrophages</text>
<rect x="59.85" y="496.35" width="292.35" height="20.15" fill="#fff" stroke="#3a3a3a" stroke-width="1.3"/>
<text transform="translate(206.03,510.12) scale(1,1.06)" text-anchor="middle" fill="#111" stroke="#111" stroke-width="0.22" font-size="10.5">Neutrophils</text>
<rect x="381.8" y="496.35" width="298.2" height="20.15" fill="#fff" stroke="#3a3a3a" stroke-width="1.3"/>
<text transform="translate(530.9,510.12) scale(1,1.06)" text-anchor="middle" fill="#111" stroke="#111" stroke-width="0.22" font-size="10.5">Basophils</text>
<rect x="53.9" y="683.5" width="135.6" height="20.1" fill="#fff" stroke="#3a3a3a" stroke-width="1.3"/>
<text transform="translate(121.7,697.25) scale(1,1.06)" text-anchor="middle" fill="#111" stroke="#111" stroke-width="0.22" font-size="10.5">T cells</text>
<clipPath id="c53_703"><rect x="53.9" y="703.6" width="135.6" height="105.8"/></clipPath>
<g clip-path="url(#c53_703)">
<g fill="#000">
<circle cx="91.1" cy="708.5" r="2.7"/>
<circle cx="111.4" cy="717.3" r="2.7"/>
<circle cx="91.1" cy="750.6" r="2.7"/>
<circle cx="75.3" cy="753.4" r="2.7"/>
<circle cx="111.4" cy="744.4" r="2.7"/>
<circle cx="111.4" cy="756.2" r="2.7"/>
<circle cx="60.3" cy="765.5" r="2.7"/>
<circle cx="106.3" cy="765.8" r="2.7"/>
<circle cx="91.1" cy="771.7" r="2.7"/>
<circle cx="100.9" cy="780.5" r="2.7"/>
<circle cx="142.4" cy="753.2" r="2.7"/>
<circle cx="142.4" cy="762.3" r="2.7"/>
<circle cx="132.1" cy="771.5" r="2.7"/>
<circle cx="129.6" cy="778.4" r="2.7"/>
<circle cx="142.4" cy="777.4" r="2.7"/>
<circle cx="162.9" cy="781.1" r="2.7"/>
<circle cx="168" cy="784.2" r="2.7"/>
<circle cx="173.5" cy="782.9" r="2.7"/>
<circle cx="183.8" cy="790.4" r="2.7"/>
<circle cx="129.6" cy="803" r="2.7"/>
<circle cx="59.63" cy="774.7" r="2.7"/>
<circle cx="59.97" cy="779.45" r="2.7"/>
<circle cx="60.07" cy="784.2" r="2.7"/>
<circle cx="59.63" cy="790.1" r="2.7"/>
<circle cx="59.97" cy="793.83" r="2.7"/>
<circle cx="60.07" cy="797.55" r="2.7"/>
<circle cx="59.6" cy="801.27" r="2.7"/>
<circle cx="60.13" cy="805" r="2.7"/>
<circle cx="67.54" cy="780.6" r="2.7"/>
<circle cx="67.42" cy="782.4" r="2.7"/>
<circle cx="67.54" cy="793.1" r="2.7"/>
<circle cx="67.42" cy="796.4" r="2.7"/>
<circle cx="67.9" cy="799.7" r="2.7"/>
<circle cx="69.4" cy="783.6" r="2.7"/>
<circle cx="69.92" cy="787.52" r="2.7"/>
<circle cx="69.71" cy="791.44" r="2.7"/>
<circle cx="69.47" cy="795.36" r="2.7"/>
<circle cx="70" cy="799.28" r="2.7"/>
<circle cx="69.53" cy="803.2" r="2.7"/>
<circle cx="71.08" cy="784.8" r="2.7"/>
<circle cx="71.49" cy="788.52" r="2.7"/>
<circle cx="70.94" cy="792.25" r="2.7"/>
<circle cx="71.26" cy="795.98" r="2.7"/>
<circle cx="71.38" cy="799.7" r="2.7"/>
<circle cx="75.24" cy="778.2" r="2.7"/>
<circle cx="74.7" cy="782.26" r="2.7"/>
<circle cx="75.16" cy="786.32" r="2.7"/>
<circle cx="75.09" cy="790.38" r="2.7"/>
<circle cx="74.73" cy="794.44" r="2.7"/>
<circle cx="75.28" cy="798.5" r="2.7"/>
<circle cx="76.7" cy="780.6" r="2.7"/>
<circle cx="76.66" cy="786" r="2.7"/>
<circle cx="80.32" cy="791.3" r="2.7"/>
<circle cx="80.67" cy="796.1" r="2.7"/>
<circle cx="80.4" cy="802.6" r="2.7"/>
<circle cx="83.4" cy="802" r="2.7"/>
<circle cx="83.1" cy="775.9" r="2.7"/>
<circle cx="82.64" cy="780.27" r="2.7"/>
<circle cx="82.72" cy="784.63" r="2.7"/>
<circle cx="83.07" cy="789" r="2.7"/>
<circle cx="84.23" cy="780.6" r="2.7"/>
<circle cx="83.7" cy="783.6" r="2.7"/>
<circle cx="84.16" cy="786.6" r="2.7"/>
<circle cx="91.34" cy="778.2" r="2.7"/>
<circle cx="91.07" cy="782.03" r="2.7"/>
<circle cx="90.9" cy="785.86" r="2.7"/>
<circle cx="91.4" cy="789.69" r="2.7"/>
<circle cx="90.9" cy="793.51" r="2.7"/>
<circle cx="91.06" cy="797.34" r="2.7"/>
<circle cx="91.35" cy="801.17" r="2.7"/>
<circle cx="90.81" cy="805" r="2.7"/>
<circle cx="98.45" cy="786" r="2.7"/>
<circle cx="98.75" cy="789.8" r="2.7"/>
<circle cx="98.21" cy="793.6" r="2.7"/>
<circle cx="98.63" cy="797.4" r="2.7"/>
<circle cx="98.61" cy="801.2" r="2.7"/>
<circle cx="98.22" cy="805" r="2.7"/>
<circle cx="101.2" cy="780" r="2.7"/>
<circle cx="100.71" cy="781.8" r="2.7"/>
<circle cx="106.05" cy="775.9" r="2.7"/>
<circle cx="106.59" cy="779.47" r="2.7"/>
<circle cx="106.16" cy="783.04" r="2.7"/>
<circle cx="106.19" cy="786.61" r="2.7"/>
<circle cx="106.58" cy="790.19" r="2.7"/>
<circle cx="106.03" cy="793.76" r="2.7"/>
<circle cx="106.37" cy="797.33" r="2.7"/>
<circle cx="106.47" cy="800.9" r="2.7"/>
<circle cx="109.57" cy="791.3" r="2.7"/>
<circle cx="109.22" cy="794.9" r="2.7"/>
<circle cx="109.14" cy="798.5" r="2.7"/>
<circle cx="111.72" cy="786.6" r="2.7"/>
<circle cx="111.31" cy="790.75" r="2.7"/>
<circle cx="111.86" cy="794.9" r="2.7"/>
<circle cx="111.54" cy="799.05" r="2.7"/>
<circle cx="111.42" cy="803.2" r="2.7"/>
<circle cx="113.71" cy="777" r="2.7"/>
<circle cx="114.12" cy="780.3" r="2.7"/>
<circle cx="114.12" cy="783.6" r="2.7"/>
<circle cx="113.71" cy="794.9" r="2.7"/>
<circle cx="114.12" cy="799.05" r="2.7"/>
<circle cx="114.12" cy="803.2" r="2.7"/>
<circle cx="121.67" cy="769.9" r="2.7"/>
<circle cx="121.68" cy="773.8" r="2.7"/>
<circle cx="122.08" cy="777.7" r="2.7"/>
<circle cx="121.54" cy="781.6" r="2.7"/>
<circle cx="121.86" cy="785.5" r="2.7"/>
<circle cx="121.98" cy="789.4" r="2.7"/>
<circle cx="121.5" cy="793.3" r="2.7"/>
<circle cx="122.02" cy="797.2" r="2.7"/>
<circle cx="121.8" cy="801.1" r="2.7"/>
<circle cx="121.57" cy="805" r="2.7"/>
<circle cx="130.11" cy="771.7" r="2.7"/>
<circle cx="129.87" cy="775.37" r="2.7"/>
<circle cx="130.4" cy="779.03" r="2.7"/>
<circle cx="129.94" cy="782.7" r="2.7"/>
<circle cx="130.02" cy="786.37" r="2.7"/>
<circle cx="130.37" cy="790.03" r="2.7"/>
<circle cx="129.82" cy="793.7" r="2.7"/>
<circle cx="130.11" cy="800.9" r="2.7"/>
<circle cx="129.87" cy="803.8" r="2.7"/>
<circle cx="128.59" cy="777.6" r="2.7"/>
<circle cx="128.05" cy="781.8" r="2.7"/>
<circle cx="128.35" cy="786" r="2.7"/>
<circle cx="128.59" cy="801.5" r="2.7"/>
<circle cx="128.05" cy="803.2" r="2.7"/>
<circle cx="137.2" cy="783.6" r="2.7"/>
<circle cx="136.7" cy="787.06" r="2.7"/>
<circle cx="136.87" cy="790.52" r="2.7"/>
<circle cx="137.14" cy="793.98" r="2.7"/>
<circle cx="136.61" cy="797.44" r="2.7"/>
<circle cx="137.05" cy="800.9" r="2.7"/>
<circle cx="140" cy="794.9" r="2.7"/>
<circle cx="140.17" cy="799.05" r="2.7"/>
<circle cx="140.44" cy="803.2" r="2.7"/>
<circle cx="145.58" cy="781.8" r="2.7"/>
<circle cx="145.2" cy="785.57" r="2.7"/>
<circle cx="145.16" cy="789.33" r="2.7"/>
<circle cx="145.59" cy="793.1" r="2.7"/>
<circle cx="145.06" cy="796.87" r="2.7"/>
<circle cx="145.33" cy="800.63" r="2.7"/>
<circle cx="145.5" cy="804.4" r="2.7"/>
<circle cx="152.36" cy="788.4" r="2.7"/>
<circle cx="152.65" cy="792.55" r="2.7"/>
<circle cx="152.11" cy="796.7" r="2.7"/>
<circle cx="152.54" cy="800.85" r="2.7"/>
<circle cx="152.51" cy="805" r="2.7"/>
<circle cx="163.03" cy="791.3" r="2.7"/>
<circle cx="162.79" cy="795.67" r="2.7"/>
<circle cx="162.58" cy="800.03" r="2.7"/>
<circle cx="163.1" cy="804.4" r="2.7"/>
<circle cx="166.57" cy="783" r="2.7"/>
<circle cx="166.59" cy="786.67" r="2.7"/>
<circle cx="166.98" cy="790.33" r="2.7"/>
<circle cx="166.44" cy="794" r="2.7"/>
<circle cx="166.77" cy="797.67" r="2.7"/>
<circle cx="166.87" cy="801.33" r="2.7"/>
<circle cx="166.4" cy="805" r="2.7"/>
<circle cx="167.43" cy="784.2" r="2.7"/>
<circle cx="167.79" cy="785.4" r="2.7"/>
<circle cx="167.43" cy="789" r="2.7"/>
<circle cx="167.79" cy="793.7" r="2.7"/>
<circle cx="167.43" cy="800.9" r="2.7"/>
<circle cx="167.79" cy="805" r="2.7"/>
<circle cx="173.67" cy="783" r="2.7"/>
<circle cx="173.13" cy="786.67" r="2.7"/>
<circle cx="173.49" cy="790.33" r="2.7"/>
<circle cx="173.55" cy="794" r="2.7"/>
<circle cx="173.11" cy="797.67" r="2.7"/>
<circle cx="173.64" cy="801.33" r="2.7"/>
<circle cx="173.37" cy="805" r="2.7"/>
<circle cx="175.9" cy="789" r="2.7"/>
<circle cx="176.07" cy="791.95" r="2.7"/>
<circle cx="176.34" cy="794.9" r="2.7"/>
<circle cx="175.9" cy="800.9" r="2.7"/>
<circle cx="176.07" cy="804.4" r="2.7"/>
<circle cx="183.6" cy="790.1" r="2.7"/>
<circle cx="183.22" cy="793.1" r="2.7"/>
<circle cx="183.77" cy="796.1" r="2.7"/>
<circle cx="183.6" cy="802" r="2.7"/>
<circle cx="183.22" cy="805" r="2.7"/>
</g>
<polygon points="60.3,788.72 63.37,788.46 66.44,788.2 69.51,787.93 72.58,787.67 75.65,787.43 78.72,787.3 81.79,787.18 84.86,787.04 87.93,786.91 91,786.77 94.07,786.87 97.14,786.96 100.21,787.06 103.28,787.14 106.35,787.24 109.42,787.48 112.49,787.71 115.56,787.93 118.63,788.13 121.7,788.31 124.77,788.71 127.84,789.1 130.91,789.47 133.98,789.84 137.05,790.19 140.12,790.61 143.19,791.03 146.26,791.44 149.33,791.85 152.4,792.25 155.47,792.63 158.54,793.01 161.61,793.39 164.68,793.76 167.75,794.13 170.82,794.55 173.89,794.96 176.96,795.37 180.03,795.79 183.1,796.2 183.1,803.8 180.03,803.07 176.96,802.35 173.89,801.62 170.82,800.9 167.75,800.18 164.68,799.5 161.61,798.83 158.54,798.16 155.47,797.49 152.4,796.82 149.33,796.13 146.26,795.45 143.19,794.77 140.12,794.1 137.05,793.43 133.98,792.85 130.91,792.29 127.84,791.74 124.77,791.2 121.7,790.68 118.63,790.43 115.56,790.21 112.49,790 109.42,789.8 106.35,789.61 103.28,789.59 100.21,789.59 97.14,789.6 94.07,789.61 91,789.65 87.93,789.92 84.86,790.21 81.79,790.5 78.72,790.79 75.65,791.08 72.58,791.49 69.51,791.94 66.44,792.38 63.37,792.83 60.3,793.28" fill="#999999" fill-opacity="0.4"/>
<polyline points="60.3,791 63.37,790.64 66.44,790.29 69.51,789.93 72.58,789.58 75.65,789.26 78.72,789.05 81.79,788.84 84.86,788.63 87.93,788.42 91,788.21 94.07,788.24 97.14,788.28 100.21,788.32 103.28,788.36 106.35,788.42 109.42,788.64 112.49,788.85 115.56,789.07 118.63,789.28 121.7,789.5 124.77,789.96 127.84,790.42 130.91,790.88 133.98,791.34 137.05,791.81 140.12,792.35 143.19,792.9 146.26,793.44 149.33,793.99 152.4,794.53 155.47,795.06 158.54,795.58 161.61,796.11 164.68,796.63 167.75,797.16 170.82,797.72 173.89,798.29 176.96,798.86 180.03,799.43 183.1,800" fill="none" stroke="#f31a20" stroke-width="2.4"/>
</g>
<rect x="53.9" y="703.6" width="135.6" height="105.8" fill="none" stroke="#3a3a3a" stroke-width="1.3"/>
<line x1="50.6" y1="804.5" x2="53.9" y2="804.5" stroke="#333333" stroke-width="1.3"/>
<text transform="translate(47.8,808.15) scale(1,1.06)" text-anchor="end" fill="#4d4d4d" font-size="10.1">0</text>
<line x1="50.6" y1="776.37" x2="53.9" y2="776.37" stroke="#333333" stroke-width="1.3"/>
<text transform="translate(47.8,780.02) scale(1,1.06)" text-anchor="end" fill="#4d4d4d" font-size="10.1">20</text>
<line x1="50.6" y1="748.23" x2="53.9" y2="748.23" stroke="#333333" stroke-width="1.3"/>
<text transform="translate(47.8,751.88) scale(1,1.06)" text-anchor="end" fill="#4d4d4d" font-size="10.1">40</text>
<line x1="50.6" y1="720.1" x2="53.9" y2="720.1" stroke="#333333" stroke-width="1.3"/>
<text transform="translate(47.8,723.75) scale(1,1.06)" text-anchor="end" fill="#4d4d4d" font-size="10.1">60</text>
<line x1="60.06" y1="809.4" x2="60.06" y2="812.7" stroke="#333333" stroke-width="1.3"/>
<text transform="translate(60.06,822.85) scale(1,1.06)" text-anchor="middle" fill="#4d4d4d" font-size="10.1">0.00</text>
<line x1="90.88" y1="809.4" x2="90.88" y2="812.7" stroke="#333333" stroke-width="1.3"/>
<text transform="translate(90.88,822.85) scale(1,1.06)" text-anchor="middle" fill="#4d4d4d" font-size="10.1">0.25</text>
<line x1="121.7" y1="809.4" x2="121.7" y2="812.7" stroke="#333333" stroke-width="1.3"/>
<text transform="translate(121.7,822.85) scale(1,1.06)" text-anchor="middle" fill="#4d4d4d" font-size="10.1">0.50</text>
<line x1="152.52" y1="809.4" x2="152.52" y2="812.7" stroke="#333333" stroke-width="1.3"/>
<text transform="translate(152.52,822.85) scale(1,1.06)" text-anchor="middle" fill="#4d4d4d" font-size="10.1">0.75</text>
<line x1="183.34" y1="809.4" x2="183.34" y2="812.7" stroke="#333333" stroke-width="1.3"/>
<text transform="translate(183.34,822.85) scale(1,1.06)" text-anchor="middle" fill="#4d4d4d" font-size="10.1">1.00</text>
<text transform="translate(184.9,715) scale(1,1.06)" text-anchor="end" fill="#000" stroke="#000" stroke-width="0.18" font-size="9.85">p &lt; 0.0001</text>
<rect x="219.4" y="683.5" width="135.8" height="20.1" fill="#fff" stroke="#3a3a3a" stroke-width="1.3"/>
<text transform="translate(287.3,697.25) scale(1,1.06)" text-anchor="middle" fill="#111" stroke="#111" stroke-width="0.22" font-size="10.5">Macrophage</text>
<clipPath id="c219_703"><rect x="219.4" y="703.6" width="135.8" height="105.8"/></clipPath>
<g clip-path="url(#c219_703)">
<g fill="#000">
<circle cx="256.3" cy="708.5" r="2.7"/>
<circle cx="277" cy="747.7" r="2.7"/>
<circle cx="256.3" cy="754.2" r="2.7"/>
<circle cx="248.5" cy="761.9" r="2.7"/>
<circle cx="279.5" cy="763.5" r="2.7"/>
<circle cx="279.5" cy="771.5" r="2.7"/>
<circle cx="248.5" cy="774.3" r="2.7"/>
<circle cx="264.3" cy="776.6" r="2.7"/>
<circle cx="267.4" cy="776.3" r="2.7"/>
<circle cx="271.3" cy="777.1" r="2.7"/>
<circle cx="295.1" cy="764.4" r="2.7"/>
<circle cx="310.4" cy="762.3" r="2.7"/>
<circle cx="333.4" cy="769.9" r="2.7"/>
<circle cx="341.2" cy="773.3" r="2.7"/>
<circle cx="349" cy="778.5" r="2.7"/>
<circle cx="317.9" cy="784.2" r="2.7"/>
<circle cx="333.4" cy="786.6" r="2.7"/>
<circle cx="338.5" cy="784.2" r="2.7"/>
<circle cx="349" cy="788.8" r="2.7"/>
<circle cx="341.2" cy="791.1" r="2.7"/>
<circle cx="333.4" cy="792.1" r="2.7"/>
<circle cx="225.3" cy="754.8" r="2.7"/>
<circle cx="225.3" cy="758.6" r="2.7"/>
<circle cx="225.3" cy="765.9" r="2.7"/>
<circle cx="225.48" cy="772.8" r="2.7"/>
<circle cx="225.36" cy="775" r="2.7"/>
<circle cx="225.48" cy="780" r="2.7"/>
<circle cx="225.36" cy="783.52" r="2.7"/>
<circle cx="225.04" cy="787.03" r="2.7"/>
<circle cx="225.58" cy="790.55" r="2.7"/>
<circle cx="225.18" cy="794.07" r="2.7"/>
<circle cx="225.17" cy="797.58" r="2.7"/>
<circle cx="225.59" cy="801.1" r="2.7"/>
<circle cx="236.1" cy="770.7" r="2.7"/>
<circle cx="235.57" cy="774.68" r="2.7"/>
<circle cx="235.8" cy="778.65" r="2.7"/>
<circle cx="236.02" cy="782.62" r="2.7"/>
<circle cx="235.5" cy="786.6" r="2.7"/>
<circle cx="235.98" cy="790.58" r="2.7"/>
<circle cx="235.86" cy="794.55" r="2.7"/>
<circle cx="235.54" cy="798.52" r="2.7"/>
<circle cx="236.08" cy="802.5" r="2.7"/>
<circle cx="232.56" cy="782.5" r="2.7"/>
<circle cx="232.99" cy="786.22" r="2.7"/>
<circle cx="232.45" cy="789.94" r="2.7"/>
<circle cx="232.74" cy="793.66" r="2.7"/>
<circle cx="232.89" cy="797.38" r="2.7"/>
<circle cx="232.4" cy="801.1" r="2.7"/>
<circle cx="240.43" cy="773.5" r="2.7"/>
<circle cx="240.97" cy="776.2" r="2.7"/>
<circle cx="240.43" cy="780.4" r="2.7"/>
<circle cx="240.97" cy="784.08" r="2.7"/>
<circle cx="240.61" cy="787.77" r="2.7"/>
<circle cx="240.55" cy="791.45" r="2.7"/>
<circle cx="240.99" cy="795.13" r="2.7"/>
<circle cx="240.46" cy="798.82" r="2.7"/>
<circle cx="240.72" cy="802.5" r="2.7"/>
<circle cx="248.32" cy="786.6" r="2.7"/>
<circle cx="248.71" cy="790.58" r="2.7"/>
<circle cx="248.73" cy="794.55" r="2.7"/>
<circle cx="248.31" cy="798.52" r="2.7"/>
<circle cx="248.85" cy="802.5" r="2.7"/>
<circle cx="245.47" cy="791.4" r="2.7"/>
<circle cx="244.93" cy="794.63" r="2.7"/>
<circle cx="245.29" cy="797.87" r="2.7"/>
<circle cx="245.35" cy="801.1" r="2.7"/>
<circle cx="256.2" cy="754.1" r="2.7"/>
<circle cx="256.12" cy="786.6" r="2.7"/>
<circle cx="256.04" cy="790.32" r="2.7"/>
<circle cx="256.5" cy="794.04" r="2.7"/>
<circle cx="255.97" cy="797.76" r="2.7"/>
<circle cx="256.21" cy="801.48" r="2.7"/>
<circle cx="256.41" cy="805.2" r="2.7"/>
<circle cx="272.09" cy="776.2" r="2.7"/>
<circle cx="271.56" cy="779" r="2.7"/>
<circle cx="264.32" cy="786" r="2.7"/>
<circle cx="263.91" cy="788" r="2.7"/>
<circle cx="264.32" cy="794.2" r="2.7"/>
<circle cx="263.91" cy="798.3" r="2.7"/>
<circle cx="264.2" cy="804.6" r="2.7"/>
<circle cx="266.04" cy="786" r="2.7"/>
<circle cx="266.36" cy="789.87" r="2.7"/>
<circle cx="266.48" cy="793.73" r="2.7"/>
<circle cx="266" cy="797.6" r="2.7"/>
<circle cx="272.09" cy="783.8" r="2.7"/>
<circle cx="271.56" cy="787.37" r="2.7"/>
<circle cx="271.82" cy="790.93" r="2.7"/>
<circle cx="272.01" cy="794.5" r="2.7"/>
<circle cx="271.5" cy="798.07" r="2.7"/>
<circle cx="271.99" cy="801.63" r="2.7"/>
<circle cx="271.84" cy="805.2" r="2.7"/>
<circle cx="276.33" cy="783.1" r="2.7"/>
<circle cx="276.87" cy="786.7" r="2.7"/>
<circle cx="276.51" cy="790.3" r="2.7"/>
<circle cx="276.45" cy="793.9" r="2.7"/>
<circle cx="276.89" cy="797.5" r="2.7"/>
<circle cx="276.36" cy="801.1" r="2.7"/>
<circle cx="279.62" cy="788.7" r="2.7"/>
<circle cx="279.41" cy="792.83" r="2.7"/>
<circle cx="279.17" cy="796.97" r="2.7"/>
<circle cx="279.7" cy="801.1" r="2.7"/>
<circle cx="286.95" cy="775.6" r="2.7"/>
<circle cx="287.25" cy="780.4" r="2.7"/>
<circle cx="286.95" cy="785.9" r="2.7"/>
<circle cx="287.25" cy="789.76" r="2.7"/>
<circle cx="286.71" cy="793.62" r="2.7"/>
<circle cx="287.13" cy="797.48" r="2.7"/>
<circle cx="287.11" cy="801.34" r="2.7"/>
<circle cx="286.72" cy="805.2" r="2.7"/>
<circle cx="294.33" cy="785.2" r="2.7"/>
<circle cx="294.88" cy="788.8" r="2.7"/>
<circle cx="294.5" cy="792.4" r="2.7"/>
<circle cx="294.45" cy="796" r="2.7"/>
<circle cx="294.89" cy="799.6" r="2.7"/>
<circle cx="294.36" cy="803.2" r="2.7"/>
<circle cx="302.31" cy="774.2" r="2.7"/>
<circle cx="302.74" cy="777.4" r="2.7"/>
<circle cx="302.7" cy="780.6" r="2.7"/>
<circle cx="302.32" cy="783.8" r="2.7"/>
<circle cx="302.6" cy="788.7" r="2.7"/>
<circle cx="302.31" cy="797.7" r="2.7"/>
<circle cx="302.74" cy="800.8" r="2.7"/>
<circle cx="302.7" cy="803.9" r="2.7"/>
<circle cx="310.09" cy="776.9" r="2.7"/>
<circle cx="310.06" cy="782.5" r="2.7"/>
<circle cx="310.09" cy="788.7" r="2.7"/>
<circle cx="310.06" cy="792.83" r="2.7"/>
<circle cx="310.49" cy="796.95" r="2.7"/>
<circle cx="309.95" cy="801.08" r="2.7"/>
<circle cx="310.24" cy="805.2" r="2.7"/>
<circle cx="307.7" cy="783.8" r="2.7"/>
<circle cx="307.2" cy="785.2" r="2.7"/>
<circle cx="317.97" cy="792.8" r="2.7"/>
<circle cx="317.5" cy="796.93" r="2.7"/>
<circle cx="318.03" cy="801.07" r="2.7"/>
<circle cx="317.79" cy="805.2" r="2.7"/>
<circle cx="299.37" cy="794.2" r="2.7"/>
<circle cx="298.82" cy="798.35" r="2.7"/>
<circle cx="299.2" cy="802.5" r="2.7"/>
<circle cx="328" cy="797" r="2.7"/>
<circle cx="327.95" cy="800.8" r="2.7"/>
<circle cx="328.39" cy="804.6" r="2.7"/>
<circle cx="333.17" cy="785.9" r="2.7"/>
<circle cx="333.07" cy="790.05" r="2.7"/>
<circle cx="332.74" cy="794.2" r="2.7"/>
<circle cx="333.17" cy="798.3" r="2.7"/>
<circle cx="333.07" cy="801.45" r="2.7"/>
<circle cx="332.74" cy="804.6" r="2.7"/>
<circle cx="333.41" cy="802.5" r="2.7"/>
<circle cx="333.22" cy="805.2" r="2.7"/>
<circle cx="337.75" cy="794.9" r="2.7"/>
<circle cx="338.04" cy="798.13" r="2.7"/>
<circle cx="338.19" cy="801.37" r="2.7"/>
<circle cx="337.7" cy="804.6" r="2.7"/>
<circle cx="341.59" cy="802.5" r="2.7"/>
<circle cx="341.66" cy="804.6" r="2.7"/>
<circle cx="348.46" cy="797.7" r="2.7"/>
<circle cx="348.99" cy="801.45" r="2.7"/>
<circle cx="348.56" cy="805.2" r="2.7"/>
</g>
<polygon points="225.6,785.86 228.66,786.12 231.72,786.38 234.79,786.64 237.85,786.9 240.91,787.15 243.97,787.4 247.04,787.65 250.1,787.9 253.16,788.14 256.23,788.4 259.29,788.66 262.35,788.92 265.41,789.17 268.48,789.42 271.54,789.66 274.6,789.89 277.66,790.11 280.73,790.33 283.79,790.57 286.85,790.92 289.91,791.25 292.98,791.57 296.04,791.87 299.1,792.16 302.16,792.44 305.23,792.72 308.29,792.99 311.35,793.25 314.41,793.51 317.48,793.79 320.54,794.08 323.6,794.37 326.66,794.65 329.73,794.93 332.79,795.21 335.85,795.49 338.91,795.77 341.98,796.05 345.04,796.32 348.1,796.6 348.1,803.4 345.04,802.84 341.98,802.29 338.91,801.73 335.85,801.18 332.79,800.62 329.73,800.07 326.66,799.52 323.6,798.97 320.54,798.42 317.48,797.88 314.41,797.34 311.35,796.84 308.29,796.33 305.23,795.84 302.16,795.35 299.1,794.86 296.04,794.39 292.98,793.93 289.91,793.48 286.85,793.04 283.79,792.63 280.73,792.37 277.66,792.16 274.6,791.97 271.54,791.78 268.48,791.61 265.41,791.44 262.35,791.28 259.29,791.12 256.23,790.97 253.16,790.84 250.1,790.73 247.04,790.62 243.97,790.52 240.91,790.42 237.85,790.32 234.79,790.22 231.72,790.13 228.66,790.03 225.6,789.94" fill="#999999" fill-opacity="0.4"/>
<polyline points="225.6,787.9 228.66,788.08 231.72,788.25 234.79,788.43 237.85,788.61 240.91,788.79 243.97,788.96 247.04,789.14 250.1,789.32 253.16,789.49 256.23,789.68 259.29,789.89 262.35,790.1 265.41,790.31 268.48,790.51 271.54,790.72 274.6,790.93 277.66,791.14 280.73,791.35 283.79,791.6 286.85,791.98 289.91,792.36 292.98,792.75 296.04,793.13 299.1,793.51 302.16,793.9 305.23,794.28 308.29,794.66 311.35,795.04 314.41,795.43 317.48,795.84 320.54,796.25 323.6,796.67 326.66,797.09 329.73,797.5 332.79,797.92 335.85,798.33 338.91,798.75 341.98,799.17 345.04,799.58 348.1,800" fill="none" stroke="#f31a20" stroke-width="2.4"/>
</g>
<rect x="219.4" y="703.6" width="135.8" height="105.8" fill="none" stroke="#3a3a3a" stroke-width="1.3"/>
<line x1="216.1" y1="804.6" x2="219.4" y2="804.6" stroke="#333333" stroke-width="1.3"/>
<text transform="translate(213.3,808.25) scale(1,1.06)" text-anchor="end" fill="#4d4d4d" font-size="10.1">0</text>
<line x1="216.1" y1="774.73" x2="219.4" y2="774.73" stroke="#333333" stroke-width="1.3"/>
<text transform="translate(213.3,778.38) scale(1,1.06)" text-anchor="end" fill="#4d4d4d" font-size="10.1">50</text>
<line x1="216.1" y1="744.87" x2="219.4" y2="744.87" stroke="#333333" stroke-width="1.3"/>
<text transform="translate(213.3,748.52) scale(1,1.06)" text-anchor="end" fill="#4d4d4d" font-size="10.1">100</text>
<line x1="216.1" y1="715" x2="219.4" y2="715" stroke="#333333" stroke-width="1.3"/>
<text transform="translate(213.3,718.65) scale(1,1.06)" text-anchor="end" fill="#4d4d4d" font-size="10.1">150</text>
<line x1="225.57" y1="809.4" x2="225.57" y2="812.7" stroke="#333333" stroke-width="1.3"/>
<text transform="translate(225.57,822.85) scale(1,1.06)" text-anchor="middle" fill="#4d4d4d" font-size="10.1">0.00</text>
<line x1="256.44" y1="809.4" x2="256.44" y2="812.7" stroke="#333333" stroke-width="1.3"/>
<text transform="translate(256.44,822.85) scale(1,1.06)" text-anchor="middle" fill="#4d4d4d" font-size="10.1">0.25</text>
<line x1="287.3" y1="809.4" x2="287.3" y2="812.7" stroke="#333333" stroke-width="1.3"/>
<text transform="translate(287.3,822.85) scale(1,1.06)" text-anchor="middle" fill="#4d4d4d" font-size="10.1">0.50</text>
<line x1="318.16" y1="809.4" x2="318.16" y2="812.7" stroke="#333333" stroke-width="1.3"/>
<text transform="translate(318.16,822.85) scale(1,1.06)" text-anchor="middle" fill="#4d4d4d" font-size="10.1">0.75</text>
<line x1="349.03" y1="809.4" x2="349.03" y2="812.7" stroke="#333333" stroke-width="1.3"/>
<text transform="translate(349.03,822.85) scale(1,1.06)" text-anchor="middle" fill="#4d4d4d" font-size="10.1">1.00</text>
<text transform="translate(351.3,715) scale(1,1.06)" text-anchor="end" fill="#000" stroke="#000" stroke-width="0.18" font-size="9.85">p &lt; 0.0001</text>
<rect x="378.9" y="683.5" width="135.6" height="20.1" fill="#fff" stroke="#3a3a3a" stroke-width="1.3"/>
<text transform="translate(446.7,697.25) scale(1,1.06)" text-anchor="middle" fill="#111" stroke="#111" stroke-width="0.22" font-size="10.5">Neutrophils</text>
<clipPath id="c378_703"><rect x="378.9" y="703.6" width="135.6" height="105.8"/></clipPath>
<g clip-path="url(#c378_703)">
<g fill="#000">
<circle cx="415.8" cy="708.5" r="2.7"/>
<circle cx="431.2" cy="722.9" r="2.7"/>
<circle cx="438.9" cy="728.2" r="2.7"/>
<circle cx="438.9" cy="743.3" r="2.7"/>
<circle cx="392.6" cy="759.3" r="2.7"/>
<circle cx="436.7" cy="758" r="2.7"/>
<circle cx="423.6" cy="769.2" r="2.7"/>
<circle cx="493" cy="753.4" r="2.7"/>
<circle cx="456.7" cy="758.2" r="2.7"/>
<circle cx="454" cy="762.3" r="2.7"/>
<circle cx="454" cy="764.4" r="2.7"/>
<circle cx="467.4" cy="770.5" r="2.7"/>
<circle cx="508.8" cy="774.4" r="2.7"/>
<circle cx="454" cy="780.8" r="2.7"/>
<circle cx="487.5" cy="782.9" r="2.7"/>
<circle cx="384.93" cy="771.1" r="2.7"/>
<circle cx="385.4" cy="775.25" r="2.7"/>
<circle cx="384.87" cy="779.4" r="2.7"/>
<circle cx="384.93" cy="787.8" r="2.7"/>
<circle cx="385.4" cy="791.8" r="2.7"/>
<circle cx="384.87" cy="795.8" r="2.7"/>
<circle cx="385.1" cy="799.8" r="2.7"/>
<circle cx="385.32" cy="803.8" r="2.7"/>
<circle cx="392.8" cy="772.3" r="2.7"/>
<circle cx="392.5" cy="780.6" r="2.7"/>
<circle cx="393.02" cy="784.42" r="2.7"/>
<circle cx="392.81" cy="788.24" r="2.7"/>
<circle cx="392.57" cy="792.06" r="2.7"/>
<circle cx="393.1" cy="795.88" r="2.7"/>
<circle cx="392.64" cy="799.7" r="2.7"/>
<circle cx="394.89" cy="775.3" r="2.7"/>
<circle cx="395.13" cy="776.5" r="2.7"/>
<circle cx="394.89" cy="791.3" r="2.7"/>
<circle cx="395.13" cy="795.47" r="2.7"/>
<circle cx="394.6" cy="799.63" r="2.7"/>
<circle cx="395.07" cy="803.8" r="2.7"/>
<circle cx="400.05" cy="772.9" r="2.7"/>
<circle cx="400.11" cy="776.73" r="2.7"/>
<circle cx="400.47" cy="780.56" r="2.7"/>
<circle cx="399.93" cy="784.39" r="2.7"/>
<circle cx="400.29" cy="788.21" r="2.7"/>
<circle cx="400.35" cy="792.04" r="2.7"/>
<circle cx="399.91" cy="795.87" r="2.7"/>
<circle cx="400.44" cy="799.7" r="2.7"/>
<circle cx="405.88" cy="772.3" r="2.7"/>
<circle cx="405.5" cy="775.85" r="2.7"/>
<circle cx="405.45" cy="779.4" r="2.7"/>
<circle cx="408.08" cy="775.9" r="2.7"/>
<circle cx="407.73" cy="778.8" r="2.7"/>
<circle cx="408.08" cy="784.2" r="2.7"/>
<circle cx="407.73" cy="788.35" r="2.7"/>
<circle cx="408.28" cy="792.5" r="2.7"/>
<circle cx="405.6" cy="801.5" r="2.7"/>
<circle cx="408.6" cy="804" r="2.7"/>
<circle cx="415.98" cy="766.9" r="2.7"/>
<circle cx="415.43" cy="771.07" r="2.7"/>
<circle cx="415.78" cy="775.23" r="2.7"/>
<circle cx="415.86" cy="779.4" r="2.7"/>
<circle cx="415.98" cy="783" r="2.7"/>
<circle cx="415.43" cy="786.57" r="2.7"/>
<circle cx="415.78" cy="790.13" r="2.7"/>
<circle cx="415.86" cy="793.7" r="2.7"/>
<circle cx="415.4" cy="797.27" r="2.7"/>
<circle cx="415.93" cy="800.83" r="2.7"/>
<circle cx="415.68" cy="804.4" r="2.7"/>
<circle cx="423.66" cy="775.9" r="2.7"/>
<circle cx="423.33" cy="779.46" r="2.7"/>
<circle cx="423.23" cy="783.02" r="2.7"/>
<circle cx="423.7" cy="786.59" r="2.7"/>
<circle cx="423.18" cy="790.15" r="2.7"/>
<circle cx="423.4" cy="793.71" r="2.7"/>
<circle cx="423.62" cy="797.27" r="2.7"/>
<circle cx="423.1" cy="800.84" r="2.7"/>
<circle cx="423.57" cy="804.4" r="2.7"/>
<circle cx="426.63" cy="780.6" r="2.7"/>
<circle cx="426.53" cy="784.77" r="2.7"/>
<circle cx="427" cy="788.95" r="2.7"/>
<circle cx="426.47" cy="793.12" r="2.7"/>
<circle cx="426.7" cy="797.3" r="2.7"/>
<circle cx="431.27" cy="772.9" r="2.7"/>
<circle cx="431.37" cy="776.84" r="2.7"/>
<circle cx="430.9" cy="780.77" r="2.7"/>
<circle cx="431.43" cy="784.71" r="2.7"/>
<circle cx="431.19" cy="788.65" r="2.7"/>
<circle cx="430.98" cy="792.59" r="2.7"/>
<circle cx="431.5" cy="796.52" r="2.7"/>
<circle cx="431.02" cy="800.46" r="2.7"/>
<circle cx="431.14" cy="804.4" r="2.7"/>
<circle cx="436.03" cy="759.2" r="2.7"/>
<circle cx="436.13" cy="763.17" r="2.7"/>
<circle cx="436.46" cy="767.13" r="2.7"/>
<circle cx="435.92" cy="771.1" r="2.7"/>
<circle cx="436.03" cy="777" r="2.7"/>
<circle cx="436.13" cy="780.57" r="2.7"/>
<circle cx="436.46" cy="784.14" r="2.7"/>
<circle cx="435.92" cy="787.71" r="2.7"/>
<circle cx="436.31" cy="791.29" r="2.7"/>
<circle cx="436.33" cy="794.86" r="2.7"/>
<circle cx="435.91" cy="798.43" r="2.7"/>
<circle cx="436.45" cy="802" r="2.7"/>
<circle cx="439.8" cy="793.7" r="2.7"/>
<circle cx="440.03" cy="797.85" r="2.7"/>
<circle cx="439.5" cy="802" r="2.7"/>
<circle cx="446.4" cy="769.9" r="2.7"/>
<circle cx="446.92" cy="773.73" r="2.7"/>
<circle cx="446.7" cy="777.57" r="2.7"/>
<circle cx="446.47" cy="781.4" r="2.7"/>
<circle cx="447" cy="785.23" r="2.7"/>
<circle cx="446.53" cy="789.07" r="2.7"/>
<circle cx="446.63" cy="792.9" r="2.7"/>
<circle cx="446.96" cy="796.73" r="2.7"/>
<circle cx="446.42" cy="800.57" r="2.7"/>
<circle cx="446.81" cy="804.4" r="2.7"/>
<circle cx="453.94" cy="759.8" r="2.7"/>
<circle cx="454.02" cy="762.75" r="2.7"/>
<circle cx="454.37" cy="765.7" r="2.7"/>
<circle cx="453.94" cy="780" r="2.7"/>
<circle cx="454.02" cy="784.07" r="2.7"/>
<circle cx="454.37" cy="788.13" r="2.7"/>
<circle cx="453.82" cy="792.2" r="2.7"/>
<circle cx="454.2" cy="796.27" r="2.7"/>
<circle cx="454.24" cy="800.33" r="2.7"/>
<circle cx="453.81" cy="804.4" r="2.7"/>
<circle cx="456.61" cy="791.3" r="2.7"/>
<circle cx="457.1" cy="794.5" r="2.7"/>
<circle cx="456.59" cy="797.7" r="2.7"/>
<circle cx="456.78" cy="800.9" r="2.7"/>
<circle cx="461.9" cy="774.7" r="2.7"/>
<circle cx="461.52" cy="778.44" r="2.7"/>
<circle cx="462.07" cy="782.19" r="2.7"/>
<circle cx="461.71" cy="785.93" r="2.7"/>
<circle cx="461.64" cy="789.67" r="2.7"/>
<circle cx="462.1" cy="793.41" r="2.7"/>
<circle cx="461.56" cy="797.16" r="2.7"/>
<circle cx="461.82" cy="800.9" r="2.7"/>
<circle cx="467.29" cy="770.5" r="2.7"/>
<circle cx="467.35" cy="774.33" r="2.7"/>
<circle cx="466.91" cy="778.17" r="2.7"/>
<circle cx="467.44" cy="782" r="2.7"/>
<circle cx="467.17" cy="785.83" r="2.7"/>
<circle cx="467" cy="789.67" r="2.7"/>
<circle cx="467.5" cy="793.5" r="2.7"/>
<circle cx="467.01" cy="797.33" r="2.7"/>
<circle cx="467.16" cy="801.17" r="2.7"/>
<circle cx="467.45" cy="805" r="2.7"/>
<circle cx="470.14" cy="773.5" r="2.7"/>
<circle cx="469.61" cy="777.27" r="2.7"/>
<circle cx="470.05" cy="781.03" r="2.7"/>
<circle cx="469.99" cy="784.8" r="2.7"/>
<circle cx="470.14" cy="791.3" r="2.7"/>
<circle cx="469.61" cy="794.88" r="2.7"/>
<circle cx="470.05" cy="798.45" r="2.7"/>
<circle cx="469.99" cy="802.02" r="2.7"/>
<circle cx="469.62" cy="805.6" r="2.7"/>
<circle cx="477.6" cy="776.5" r="2.7"/>
<circle cx="477.6" cy="783" r="2.7"/>
<circle cx="477.89" cy="787.8" r="2.7"/>
<circle cx="477.46" cy="791.24" r="2.7"/>
<circle cx="477.49" cy="794.68" r="2.7"/>
<circle cx="477.88" cy="798.12" r="2.7"/>
<circle cx="477.33" cy="801.56" r="2.7"/>
<circle cx="477.67" cy="805" r="2.7"/>
<circle cx="487.7" cy="783" r="2.7"/>
<circle cx="487.96" cy="789" r="2.7"/>
<circle cx="487.41" cy="791.3" r="2.7"/>
<circle cx="487.96" cy="796.7" r="2.7"/>
<circle cx="487.41" cy="800.85" r="2.7"/>
<circle cx="487.82" cy="805" r="2.7"/>
<circle cx="492.74" cy="789" r="2.7"/>
<circle cx="493.19" cy="791.3" r="2.7"/>
<circle cx="492.74" cy="799.7" r="2.7"/>
<circle cx="493.19" cy="805" r="2.7"/>
<circle cx="498.03" cy="774.7" r="2.7"/>
<circle cx="497.75" cy="778.85" r="2.7"/>
<circle cx="498.29" cy="783" r="2.7"/>
<circle cx="498.03" cy="787.8" r="2.7"/>
<circle cx="497.75" cy="789" r="2.7"/>
<circle cx="498.03" cy="793.7" r="2.7"/>
<circle cx="497.75" cy="797.47" r="2.7"/>
<circle cx="498.29" cy="801.23" r="2.7"/>
<circle cx="497.86" cy="805" r="2.7"/>
<circle cx="508.17" cy="791.9" r="2.7"/>
<circle cx="508.41" cy="796.7" r="2.7"/>
<circle cx="508.17" cy="802.6" r="2.7"/>
<circle cx="508.41" cy="803.8" r="2.7"/>
</g>
<polygon points="384.9,790.42 387.98,789.76 391.06,789.11 394.14,788.45 397.22,787.78 400.3,787.14 403.38,786.7 406.46,786.26 409.54,785.81 412.62,785.36 415.7,784.9 418.78,784.72 421.86,784.55 424.94,784.36 428.02,784.16 431.1,783.96 434.18,783.74 437.26,783.7 440.34,783.79 443.42,783.89 446.5,784.21 449.58,784.5 452.66,784.77 455.74,785.09 458.82,785.45 461.9,785.8 464.98,786.14 468.06,786.47 471.14,786.79 474.22,787.11 477.3,787.42 480.38,787.93 483.46,788.48 486.54,789.03 489.62,789.58 492.7,790.13 495.78,790.77 498.86,791.71 501.94,792.64 505.02,793.57 508.1,794.5 508.1,804.1 505.02,802.77 501.94,801.45 498.86,800.12 495.78,798.8 492.7,797.77 489.62,796.84 486.54,795.91 483.46,794.98 480.38,794.06 477.3,793.19 474.22,792.52 471.14,791.85 468.06,791.19 464.98,790.54 461.9,789.89 458.82,789.26 455.74,788.64 452.66,788.09 449.58,787.64 446.5,787.21 443.42,786.8 440.34,786.67 437.26,786.59 434.18,786.67 431.1,786.96 428.02,787.25 424.94,787.56 421.86,787.87 418.78,788.19 415.7,788.53 412.62,789.17 409.54,789.81 406.46,790.45 403.38,791.1 400.3,791.75 397.22,792.62 394.14,793.5 391.06,794.39 387.98,795.29 384.9,796.18" fill="#999999" fill-opacity="0.4"/>
<polyline points="384.9,793.3 387.98,792.52 391.06,791.75 394.14,790.97 397.22,790.2 400.3,789.45 403.38,788.9 406.46,788.36 409.54,787.81 412.62,787.26 415.7,786.72 418.78,786.46 421.86,786.21 424.94,785.96 428.02,785.71 431.1,785.46 434.18,785.21 437.26,785.15 440.34,785.23 443.42,785.35 446.5,785.71 449.58,786.07 452.66,786.43 455.74,786.86 458.82,787.35 461.9,787.85 464.98,788.34 468.06,788.83 471.14,789.32 474.22,789.81 477.3,790.3 480.38,790.99 483.46,791.73 486.54,792.47 489.62,793.21 492.7,793.95 495.78,794.79 498.86,795.91 501.94,797.04 505.02,798.17 508.1,799.3" fill="none" stroke="#f31a20" stroke-width="2.4"/>
</g>
<rect x="378.9" y="703.6" width="135.6" height="105.8" fill="none" stroke="#3a3a3a" stroke-width="1.3"/>
<line x1="375.6" y1="804.5" x2="378.9" y2="804.5" stroke="#333333" stroke-width="1.3"/>
<text transform="translate(372.8,808.15) scale(1,1.06)" text-anchor="end" fill="#4d4d4d" font-size="10.1">0</text>
<line x1="375.6" y1="774.07" x2="378.9" y2="774.07" stroke="#333333" stroke-width="1.3"/>
<text transform="translate(372.8,777.72) scale(1,1.06)" text-anchor="end" fill="#4d4d4d" font-size="10.1">10</text>
<line x1="375.6" y1="743.63" x2="378.9" y2="743.63" stroke="#333333" stroke-width="1.3"/>
<text transform="translate(372.8,747.28) scale(1,1.06)" text-anchor="end" fill="#4d4d4d" font-size="10.1">20</text>
<line x1="375.6" y1="713.2" x2="378.9" y2="713.2" stroke="#333333" stroke-width="1.3"/>
<text transform="translate(372.8,716.85) scale(1,1.06)" text-anchor="end" fill="#4d4d4d" font-size="10.1">30</text>
<line x1="385.06" y1="809.4" x2="385.06" y2="812.7" stroke="#333333" stroke-width="1.3"/>
<text transform="translate(385.06,822.85) scale(1,1.06)" text-anchor="middle" fill="#4d4d4d" font-size="10.1">0.00</text>
<line x1="415.88" y1="809.4" x2="415.88" y2="812.7" stroke="#333333" stroke-width="1.3"/>
<text transform="translate(415.88,822.85) scale(1,1.06)" text-anchor="middle" fill="#4d4d4d" font-size="10.1">0.25</text>
<line x1="446.7" y1="809.4" x2="446.7" y2="812.7" stroke="#333333" stroke-width="1.3"/>
<text transform="translate(446.7,822.85) scale(1,1.06)" text-anchor="middle" fill="#4d4d4d" font-size="10.1">0.50</text>
<line x1="477.52" y1="809.4" x2="477.52" y2="812.7" stroke="#333333" stroke-width="1.3"/>
<text transform="translate(477.52,822.85) scale(1,1.06)" text-anchor="middle" fill="#4d4d4d" font-size="10.1">0.75</text>
<line x1="508.34" y1="809.4" x2="508.34" y2="812.7" stroke="#333333" stroke-width="1.3"/>
<text transform="translate(508.34,822.85) scale(1,1.06)" text-anchor="middle" fill="#4d4d4d" font-size="10.1">1.00</text>
<text transform="translate(509.9,715) scale(1,1.06)" text-anchor="end" fill="#000" stroke="#000" stroke-width="0.18" font-size="9.85">p &lt; 0.0630</text>
<rect x="544.4" y="683.5" width="135.4" height="20.1" fill="#fff" stroke="#3a3a3a" stroke-width="1.3"/>
<text transform="translate(612.1,697.25) scale(1,1.06)" text-anchor="middle" fill="#111" stroke="#111" stroke-width="0.22" font-size="10.5">Eosinophils</text>
<clipPath id="c544_703"><rect x="544.4" y="703.6" width="135.4" height="105.8"/></clipPath>
<g clip-path="url(#c544_703)">
<g fill="#000">
<circle cx="581.3" cy="708.5" r="2.7"/>
<circle cx="581.3" cy="722" r="2.7"/>
<circle cx="570.7" cy="754.6" r="2.7"/>
<circle cx="581.3" cy="758.5" r="2.7"/>
<circle cx="581.3" cy="763.5" r="2.7"/>
<circle cx="565.3" cy="774" r="2.7"/>
<circle cx="550.6" cy="777.4" r="2.7"/>
<circle cx="559.9" cy="775.9" r="2.7"/>
<circle cx="556.8" cy="778.2" r="2.7"/>
<circle cx="604.5" cy="780.5" r="2.7"/>
<circle cx="632.4" cy="719.9" r="2.7"/>
<circle cx="627.5" cy="770.5" r="2.7"/>
<circle cx="612.1" cy="776" r="2.7"/>
<circle cx="635.4" cy="781.9" r="2.7"/>
<circle cx="619.6" cy="802.1" r="2.7"/>
<circle cx="550.67" cy="777.5" r="2.7"/>
<circle cx="550.12" cy="781.19" r="2.7"/>
<circle cx="550.5" cy="784.87" r="2.7"/>
<circle cx="550.55" cy="788.56" r="2.7"/>
<circle cx="550.11" cy="792.24" r="2.7"/>
<circle cx="550.64" cy="795.93" r="2.7"/>
<circle cx="550.37" cy="799.61" r="2.7"/>
<circle cx="550.2" cy="803.3" r="2.7"/>
<circle cx="558.58" cy="777.5" r="2.7"/>
<circle cx="558.18" cy="779.9" r="2.7"/>
<circle cx="558.58" cy="788" r="2.7"/>
<circle cx="558.18" cy="791.5" r="2.7"/>
<circle cx="558.17" cy="795" r="2.7"/>
<circle cx="558.59" cy="798.5" r="2.7"/>
<circle cx="558.04" cy="802" r="2.7"/>
<circle cx="560.3" cy="775.8" r="2.7"/>
<circle cx="560.3" cy="782.2" r="2.7"/>
<circle cx="560.44" cy="789.2" r="2.7"/>
<circle cx="560.01" cy="793.47" r="2.7"/>
<circle cx="560.55" cy="797.73" r="2.7"/>
<circle cx="560.26" cy="802" r="2.7"/>
<circle cx="565.9" cy="774" r="2.7"/>
<circle cx="565.99" cy="785.1" r="2.7"/>
<circle cx="566.06" cy="789.33" r="2.7"/>
<circle cx="565.6" cy="793.55" r="2.7"/>
<circle cx="566.14" cy="797.77" r="2.7"/>
<circle cx="565.88" cy="802" r="2.7"/>
<circle cx="562.7" cy="786.9" r="2.7"/>
<circle cx="563.16" cy="790.42" r="2.7"/>
<circle cx="563.08" cy="793.95" r="2.7"/>
<circle cx="562.73" cy="797.48" r="2.7"/>
<circle cx="563.28" cy="801" r="2.7"/>
<circle cx="569.99" cy="788" r="2.7"/>
<circle cx="569.78" cy="791.67" r="2.7"/>
<circle cx="570.3" cy="795.35" r="2.7"/>
<circle cx="569.82" cy="799.03" r="2.7"/>
<circle cx="569.94" cy="802.7" r="2.7"/>
<circle cx="572.97" cy="785.7" r="2.7"/>
<circle cx="573.5" cy="789.53" r="2.7"/>
<circle cx="573.04" cy="793.35" r="2.7"/>
<circle cx="573.12" cy="797.17" r="2.7"/>
<circle cx="573.47" cy="801" r="2.7"/>
<circle cx="580.8" cy="761.8" r="2.7"/>
<circle cx="581.28" cy="763.5" r="2.7"/>
<circle cx="580.8" cy="781.6" r="2.7"/>
<circle cx="581.28" cy="785.32" r="2.7"/>
<circle cx="581.15" cy="789.03" r="2.7"/>
<circle cx="580.84" cy="792.75" r="2.7"/>
<circle cx="581.39" cy="796.47" r="2.7"/>
<circle cx="580.97" cy="800.18" r="2.7"/>
<circle cx="580.98" cy="803.9" r="2.7"/>
<circle cx="589.32" cy="786.3" r="2.7"/>
<circle cx="589.7" cy="789.92" r="2.7"/>
<circle cx="589.75" cy="793.54" r="2.7"/>
<circle cx="589.31" cy="797.16" r="2.7"/>
<circle cx="589.84" cy="800.78" r="2.7"/>
<circle cx="589.57" cy="804.4" r="2.7"/>
<circle cx="592.52" cy="785.1" r="2.7"/>
<circle cx="592.71" cy="789.08" r="2.7"/>
<circle cx="592.2" cy="793.05" r="2.7"/>
<circle cx="592.69" cy="797.02" r="2.7"/>
<circle cx="592.55" cy="801" r="2.7"/>
<circle cx="596.66" cy="786.9" r="2.7"/>
<circle cx="596.34" cy="790.7" r="2.7"/>
<circle cx="596.88" cy="794.5" r="2.7"/>
<circle cx="596.48" cy="798.3" r="2.7"/>
<circle cx="596.47" cy="802.1" r="2.7"/>
<circle cx="601.28" cy="783.4" r="2.7"/>
<circle cx="601.54" cy="786.9" r="2.7"/>
<circle cx="601" cy="790.4" r="2.7"/>
<circle cx="601.46" cy="793.9" r="2.7"/>
<circle cx="601.39" cy="797.4" r="2.7"/>
<circle cx="601.03" cy="800.9" r="2.7"/>
<circle cx="601.58" cy="804.4" r="2.7"/>
<circle cx="604.48" cy="780.5" r="2.7"/>
<circle cx="603.93" cy="784.45" r="2.7"/>
<circle cx="604.28" cy="788.4" r="2.7"/>
<circle cx="604.36" cy="792.35" r="2.7"/>
<circle cx="603.9" cy="796.3" r="2.7"/>
<circle cx="612.1" cy="776.4" r="2.7"/>
<circle cx="612.38" cy="782.2" r="2.7"/>
<circle cx="611.99" cy="785.9" r="2.7"/>
<circle cx="611.96" cy="789.6" r="2.7"/>
<circle cx="612.39" cy="793.3" r="2.7"/>
<circle cx="611.85" cy="797" r="2.7"/>
<circle cx="612.14" cy="800.7" r="2.7"/>
<circle cx="612.29" cy="804.4" r="2.7"/>
<circle cx="620.13" cy="782.8" r="2.7"/>
<circle cx="620.11" cy="786.9" r="2.7"/>
<circle cx="619.72" cy="791" r="2.7"/>
<circle cx="620.26" cy="795.1" r="2.7"/>
<circle cx="619.93" cy="799.2" r="2.7"/>
<circle cx="619.83" cy="803.3" r="2.7"/>
<circle cx="622.91" cy="782.2" r="2.7"/>
<circle cx="622.4" cy="786.3" r="2.7"/>
<circle cx="622.89" cy="790.4" r="2.7"/>
<circle cx="627.22" cy="788.7" r="2.7"/>
<circle cx="627.7" cy="792.2" r="2.7"/>
<circle cx="627.18" cy="795.7" r="2.7"/>
<circle cx="627.39" cy="799.2" r="2.7"/>
<circle cx="632.16" cy="785.1" r="2.7"/>
<circle cx="631.7" cy="788.86" r="2.7"/>
<circle cx="632.23" cy="792.62" r="2.7"/>
<circle cx="631.98" cy="796.38" r="2.7"/>
<circle cx="631.79" cy="800.14" r="2.7"/>
<circle cx="632.3" cy="803.9" r="2.7"/>
<circle cx="635.3" cy="781.6" r="2.7"/>
<circle cx="635" cy="783.4" r="2.7"/>
<circle cx="635.54" cy="787" r="2.7"/>
<circle cx="635.28" cy="790.6" r="2.7"/>
<circle cx="635.09" cy="794.2" r="2.7"/>
<circle cx="635.6" cy="797.8" r="2.7"/>
<circle cx="635.11" cy="801.4" r="2.7"/>
<circle cx="635.25" cy="805" r="2.7"/>
<circle cx="642.69" cy="792.2" r="2.7"/>
<circle cx="642.88" cy="796.47" r="2.7"/>
<circle cx="643.14" cy="800.73" r="2.7"/>
<circle cx="642.6" cy="805" r="2.7"/>
<circle cx="652.8" cy="791.6" r="2.7"/>
<circle cx="653.31" cy="795.1" r="2.7"/>
<circle cx="653.11" cy="798.6" r="2.7"/>
<circle cx="652.87" cy="802.1" r="2.7"/>
<circle cx="653.4" cy="805.6" r="2.7"/>
<circle cx="656.84" cy="789.2" r="2.7"/>
<circle cx="656.57" cy="792.7" r="2.7"/>
<circle cx="658.55" cy="790.3" r="2.7"/>
<circle cx="658.01" cy="792" r="2.7"/>
<circle cx="658.55" cy="800" r="2.7"/>
<circle cx="658.01" cy="804.6" r="2.7"/>
<circle cx="663.24" cy="788.6" r="2.7"/>
<circle cx="663.7" cy="791.75" r="2.7"/>
<circle cx="663.17" cy="794.9" r="2.7"/>
<circle cx="663.24" cy="800" r="2.7"/>
<circle cx="663.7" cy="804.6" r="2.7"/>
<circle cx="666.6" cy="792" r="2.7"/>
<circle cx="666.13" cy="795.4" r="2.7"/>
<circle cx="673.8" cy="793.7" r="2.7"/>
<circle cx="673.84" cy="797.13" r="2.7"/>
<circle cx="673.41" cy="800.57" r="2.7"/>
<circle cx="673.95" cy="804" r="2.7"/>
</g>
<polygon points="550.6,790.14 553.66,790.11 556.73,790.08 559.79,790.05 562.85,790.02 565.91,789.98 568.98,789.94 572.04,789.9 575.1,789.85 578.16,789.8 581.23,789.75 584.29,789.95 587.35,790.14 590.41,790.33 593.48,790.5 596.54,790.67 599.6,790.83 602.66,790.98 605.73,791.11 608.79,791.23 611.85,791.33 614.91,791.59 617.98,791.84 621.04,792.07 624.1,792.28 627.16,792.48 630.23,792.68 633.29,792.86 636.35,793.04 639.41,793.22 642.48,793.39 645.54,793.67 648.6,793.95 651.66,794.24 654.73,794.52 657.79,794.81 660.85,795.09 663.91,795.37 666.98,795.65 670.04,795.92 673.1,796.2 673.1,804.4 670.04,803.78 666.98,803.17 663.91,802.56 660.85,801.94 657.79,801.33 654.73,800.72 651.66,800.11 648.6,799.51 645.54,798.9 642.48,798.32 639.41,797.84 636.35,797.37 633.29,796.9 630.23,796.44 627.16,795.98 624.1,795.54 621.04,795.1 617.98,794.68 614.91,794.28 611.85,793.89 608.79,793.72 605.73,793.57 602.66,793.45 599.6,793.33 596.54,793.23 593.48,793.14 590.41,793.06 587.35,792.98 584.29,792.91 581.23,792.85 578.16,793.06 575.1,793.27 572.04,793.48 568.98,793.7 565.91,793.92 562.85,794.14 559.79,794.37 556.73,794.6 553.66,794.83 550.6,795.06" fill="#999999" fill-opacity="0.4"/>
<polyline points="550.6,792.6 553.66,792.47 556.73,792.34 559.79,792.21 562.85,792.08 565.91,791.95 568.98,791.82 572.04,791.69 575.1,791.56 578.16,791.43 581.23,791.3 584.29,791.43 587.35,791.56 590.41,791.69 593.48,791.82 596.54,791.95 599.6,792.08 602.66,792.21 605.73,792.34 608.79,792.47 611.85,792.61 614.91,792.94 617.98,793.26 621.04,793.58 624.1,793.91 627.16,794.23 630.23,794.56 633.29,794.88 636.35,795.21 639.41,795.53 642.48,795.85 645.54,796.28 648.6,796.73 651.66,797.18 654.73,797.62 657.79,798.07 660.85,798.52 663.91,798.96 666.98,799.41 670.04,799.85 673.1,800.3" fill="none" stroke="#f31a20" stroke-width="2.4"/>
</g>
<rect x="544.4" y="703.6" width="135.4" height="105.8" fill="none" stroke="#3a3a3a" stroke-width="1.3"/>
<line x1="541.1" y1="804" x2="544.4" y2="804" stroke="#333333" stroke-width="1.3"/>
<text transform="translate(538.3,807.65) scale(1,1.06)" text-anchor="end" fill="#4d4d4d" font-size="10.1">0</text>
<line x1="541.1" y1="777.7" x2="544.4" y2="777.7" stroke="#333333" stroke-width="1.3"/>
<text transform="translate(538.3,781.35) scale(1,1.06)" text-anchor="end" fill="#4d4d4d" font-size="10.1">100</text>
<line x1="541.1" y1="751.4" x2="544.4" y2="751.4" stroke="#333333" stroke-width="1.3"/>
<text transform="translate(538.3,755.05) scale(1,1.06)" text-anchor="end" fill="#4d4d4d" font-size="10.1">200</text>
<line x1="541.1" y1="725.1" x2="544.4" y2="725.1" stroke="#333333" stroke-width="1.3"/>
<text transform="translate(538.3,728.75) scale(1,1.06)" text-anchor="end" fill="#4d4d4d" font-size="10.1">300</text>
<line x1="550.55" y1="809.4" x2="550.55" y2="812.7" stroke="#333333" stroke-width="1.3"/>
<text transform="translate(550.55,822.85) scale(1,1.06)" text-anchor="middle" fill="#4d4d4d" font-size="10.1">0.00</text>
<line x1="581.33" y1="809.4" x2="581.33" y2="812.7" stroke="#333333" stroke-width="1.3"/>
<text transform="translate(581.33,822.85) scale(1,1.06)" text-anchor="middle" fill="#4d4d4d" font-size="10.1">0.25</text>
<line x1="612.1" y1="809.4" x2="612.1" y2="812.7" stroke="#333333" stroke-width="1.3"/>
<text transform="translate(612.1,822.85) scale(1,1.06)" text-anchor="middle" fill="#4d4d4d" font-size="10.1">0.50</text>
<line x1="642.87" y1="809.4" x2="642.87" y2="812.7" stroke="#333333" stroke-width="1.3"/>
<text transform="translate(642.87,822.85) scale(1,1.06)" text-anchor="middle" fill="#4d4d4d" font-size="10.1">0.75</text>
<line x1="673.65" y1="809.4" x2="673.65" y2="812.7" stroke="#333333" stroke-width="1.3"/>
<text transform="translate(673.65,822.85) scale(1,1.06)" text-anchor="middle" fill="#4d4d4d" font-size="10.1">1.00</text>
<text transform="translate(676.7,715) scale(1,1.06)" text-anchor="end" fill="#000" stroke="#000" stroke-width="0.18" font-size="9.85">p &lt; 0.0001</text>
<text transform="translate(2.7,15.5) scale(1,1.07)" font-size="16.4" font-weight="bold" fill="#000">A</text>
<text transform="translate(1.2,697.1) scale(1,1.07)" font-size="16.4" font-weight="bold" fill="#000">B</text>
<text transform="translate(370.25,667.5) scale(1,1.05)" text-anchor="middle" font-size="12.95" fill="#000">Inflammation score</text>
<text transform="translate(367.3,837.9) scale(1,1.05)" text-anchor="middle" font-size="12.95" fill="#000">Inflammation score</text>
<text transform="translate(28.6,340.35) rotate(-90)" text-anchor="middle" font-size="12.95" fill="#000">Expression (TPM)</text>
<text transform="translate(11,762.6) rotate(-90)" text-anchor="middle" font-size="12.95" fill="#000">Normalized <tspan font-style="italic">HK2</tspan></text>
<text transform="translate(26.1,761) rotate(-90)" text-anchor="middle" font-size="12.95" fill="#000">expression</text>
</svg></body></html>
